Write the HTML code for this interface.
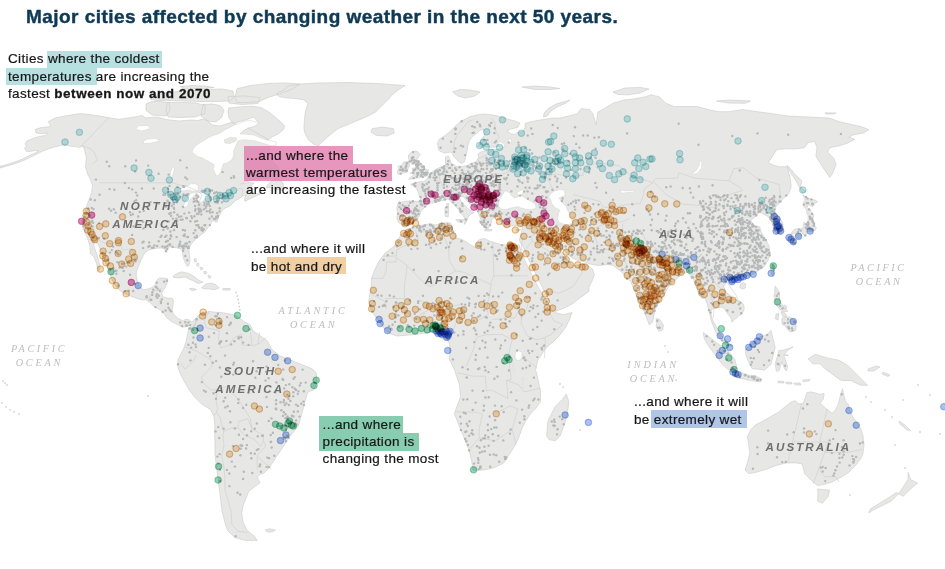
<!DOCTYPE html>
<html><head><meta charset="utf-8"><style>
html,body{margin:0;padding:0;background:#fff;}
body{width:945px;height:569px;position:relative;overflow:hidden;font-family:"Liberation Sans",sans-serif;}
svg{position:absolute;left:0;top:0;}
.cd circle{mix-blend-mode:multiply;stroke-width:0.7;}
.t{position:absolute;white-space:nowrap;color:#161616;-webkit-text-stroke:0.2px #161616;font-size:13.5px;line-height:17.5px;letter-spacing:0.35px;}
.h{position:absolute;}
b{-webkit-text-stroke:0.3px #1e1e1e;letter-spacing:0.52px;}
.title{position:absolute;left:26px;top:5.5px;font-weight:bold;color:#0f3a55;font-size:19px;white-space:nowrap;letter-spacing:0.45px;-webkit-text-stroke:0.45px #0f3a55;}
.cl{font-family:"Liberation Sans",sans-serif;font-style:italic;font-weight:bold;fill:#6f6f6f;font-size:11.6px;}
.ol{font-family:"Liberation Serif",serif;font-style:italic;fill:#bdbdbd;font-size:10.2px;}
</style></head><body>
<svg width="945" height="569" viewBox="0 0 945 569">
<rect width="945" height="569" fill="#fff"/>
<path d="M0.0,166.3L7.0,164.6L14.9,161.9L22.0,159.3L29.0,155.8L35.2,153.1L38.7,150.9L35.2,150.5L29.9,151.4L26.4,151.4L24.6,147.9L26.4,146.1L25.1,143.5L27.3,140.8L33.4,138.2L39.6,136.4L45.7,135.5L47.5,132.9L42.2,133.8L36.0,132.9L35.2,129.4L41.3,127.6L49.2,126.8L51.0,126.0L48.3,121.5L55.9,117.7L66.0,115.8L80.0,113.6L88.9,114.5L100.2,116.1L110.3,118.0L119.2,119.3L128.1,118.0L135.7,116.7L142.1,115.5L145.9,118.0L151.0,117.4L157.3,117.0L166.2,119.5L178.9,121.0L191.6,120.0L198.0,120.5L203.0,119.0L208.0,121.0L212.0,125.0L220.0,126.0L232.0,122.0L240.0,126.0L248.0,128.0L255.0,132.0L262.0,136.0L268.0,139.0L270.0,146.0L269.6,151.7L269.8,158.1L272.4,161.3L278.4,167.2L280.0,171.8L276.6,174.5L273.2,175.5L267.5,178.5L262.2,178.8L257.4,179.1L249.2,180.8L244.3,182.1L240.7,184.1L248.9,182.5L254.0,183.1L251.5,185.8L252.3,186.5L250.9,189.5L252.2,191.9L254.5,193.3L258.3,193.9L262.4,189.9L259.8,194.3L251.9,197.7L244.9,201.4L244.5,198.0L246.1,195.3L242.7,196.0L239.0,198.7L235.6,200.4L232.2,203.8L229.6,206.3L225.4,208.0L222.0,210.6L219.5,214.8L216.9,222.0L212.2,220.8L210.3,224.7L207.4,228.5L204.5,232.4L200.6,235.3L196.7,238.2L192.9,242.1L190.0,245.9L189.0,250.8L189.5,255.6L190.0,260.5L189.0,265.3L187.1,266.3L185.1,262.4L183.2,257.6L182.7,253.7L182.2,249.8L179.3,248.4L174.5,247.4L168.7,246.9L166.0,251.8L164.5,249.0L161.0,247.9L154.2,248.4L149.3,249.8L145.0,252.5L143.0,256.0L140.5,261.5L138.2,267.0L136.3,272.0L136.2,276.0L137.5,281.0L139.0,285.6L141.0,288.2L143.5,289.6L147.0,289.2L151.3,287.8L154.0,286.0L155.9,283.4L157.0,280.0L159.2,278.2L163.0,278.0L167.3,278.6L167.6,279.8L166.9,283.7L164.3,289.0L161.6,293.0L163.0,297.0L168.2,298.2L172.2,298.2L173.5,300.9L172.9,306.2L172.2,310.1L173.5,314.0L177.5,318.0L182.7,320.7L185.4,319.3L188.0,319.3L192.0,322.0L196.0,318.0L198.0,319.0L194.6,326.0L192.0,324.6L188.0,326.0L182.7,327.3L177.5,324.6L172.2,322.0L166.9,318.0L164.3,314.0L160.3,310.1L153.7,306.2L149.8,302.2L145.8,299.6L143.3,300.0L138.2,298.9L133.2,297.0L128.1,295.1L123.0,292.6L118.0,288.8L114.2,283.7L111.6,278.6L110.4,274.8L107.8,268.5L105.3,262.2L102.8,255.8L100.3,249.5L97.7,243.2L93.9,241.9L93.9,245.7L95.2,249.5L96.5,253.3L97.7,257.1L99.0,262.2L100.3,267.2L99.0,271.0L97.7,268.5L96.5,263.4L93.9,257.1L90.1,253.3L90.1,247.0L87.6,238.1L83.8,230.5L82.9,227.9L82.0,220.9L84.6,213.8L86.4,206.8L89.0,199.8L91.6,192.7L92.5,185.7L90.8,180.4L87.3,173.4L85.5,166.4L86.4,157.6L84.6,150.5L82.9,145.3L80.0,147.4L74.7,146.5L70.3,146.1L66.8,145.2L61.5,145.2L54.5,147.0L49.2,148.7L44.0,150.5L38.7,153.1L33.4,155.8L26.4,159.3L17.6,162.8L8.8,165.4L0.0,168.1ZM196.0,318.0L198.6,315.4L203.8,312.7L209.1,311.4L214.4,312.1L222.3,312.7L230.2,314.0L235.5,315.4L239.5,318.0L244.7,322.0L250.0,324.6L252.8,330.6L259.2,334.9L267.6,341.2L271.8,349.6L280.3,356.0L290.8,360.2L301.4,364.4L311.9,368.6L316.2,372.8L317.2,381.3L314.0,389.7L307.8,392.0L305.0,401.2L302.2,412.5L298.0,426.6L291.0,435.0L285.3,443.4L279.7,451.9L274.0,460.3L268.4,468.7L264.2,473.0L260.0,474.4L257.2,477.2L260.0,482.8L254.4,487.0L248.7,491.2L246.0,498.3L243.1,505.3L241.7,513.7L243.1,522.2L247.3,530.6L254.4,536.2L257.2,540.4L246.0,540.4L234.7,537.6L227.6,530.6L224.8,522.2L222.0,511.0L220.6,499.7L219.2,488.4L217.8,477.2L216.4,466.0L215.0,454.7L215.0,443.4L214.6,432.2L214.8,425.0L213.9,416.4L210.4,409.4L201.6,404.1L194.6,397.0L189.3,390.0L184.1,381.2L180.5,374.2L177.9,367.2L177.9,360.1L180.5,354.9L183.2,349.6L185.8,342.6L187.6,333.8L189.3,327.0L194.6,326.0ZM407.1,226.0L402.6,224.9L398.6,222.6L396.9,218.0L397.4,213.4L396.9,207.7L398.0,203.1L403.7,201.4L410.6,200.9L417.4,201.4L420.9,200.3L419.7,197.4L418.6,192.9L416.3,188.3L412.9,186.0L410.6,184.3L416.3,182.6L420.9,181.4L423.6,181.7L426.4,179.8L429.3,175.0L433.1,171.2L437.9,168.3L442.6,166.4L445.5,165.5L445.5,156.9L448.3,156.0L450.2,159.8L451.2,163.6L454.0,164.5L456.0,166.4L461.7,166.4L467.4,165.5L471.2,163.6L476.0,161.7L478.8,157.9L477.9,154.0L480.7,152.1L482.9,151.6L487.1,150.5L493.5,149.4L498.8,149.4L504.1,147.3L504.1,145.2L498.8,146.3L493.5,147.3L487.1,146.8L480.8,147.3L477.6,146.3L479.7,143.1L481.9,138.9L484.0,135.7L485.0,132.5L482.9,129.3L479.7,130.4L476.6,133.6L472.3,136.7L469.2,141.0L467.6,146.3L467.0,151.6L466.4,154.0L465.5,157.9L464.5,161.7L461.7,163.6L459.8,162.6L456.9,159.8L454.0,156.9L453.1,154.0L450.2,152.1L444.5,153.1L439.8,151.2L438.5,149.4L437.4,143.1L439.5,138.9L444.8,135.7L450.1,131.5L454.3,127.2L458.6,123.0L463.9,119.8L470.2,116.6L476.6,115.1L482.9,114.0L489.3,114.5L495.6,115.6L502.0,117.2L508.3,119.3L514.7,120.9L519.9,123.0L517.8,127.2L510.4,129.3L507.2,130.4L510.4,133.6L514.7,134.6L517.8,132.5L523.1,131.5L525.2,127.2L525.2,123.5L530.0,121.9L540.0,120.0L553.0,118.0L560.0,118.1L577.0,113.9L581.2,108.6L589.6,109.6L593.0,114.0L596.0,125.0L598.0,112.0L604.4,108.6L612.9,103.3L623.5,100.1L634.0,99.0L644.7,96.9L651.0,94.8L659.5,96.9L665.8,103.3L674.3,106.5L687.0,106.5L697.6,106.5L708.1,109.6L718.7,111.7L729.3,111.7L742.0,109.6L757.7,111.7L770.4,113.4L787.3,116.0L808.5,117.0L829.7,118.1L838.1,121.3L850.8,124.4L861.4,126.6L868.8,129.7L863.5,132.9L853.0,135.0L848.7,137.1L855.0,139.3L846.6,143.5L840.2,145.6L829.7,147.7L827.5,152.0L833.9,158.3L836.0,164.7L832.8,173.1L829.7,177.4L821.2,164.7L815.9,156.2L817.0,147.7L814.8,141.4L808.5,142.4L804.3,147.7L795.8,148.8L783.0,148.8L776.7,149.8L772.5,156.2L768.3,162.5L772.5,164.7L778.9,166.8L787.3,166.8L790.5,179.5L791.2,186.9L789.0,193.2L782.7,199.5L776.4,205.8L774.3,212.2L778.5,216.4L782.7,222.7L783.8,231.1L780.6,234.3L776.4,233.2L773.3,226.9L771.2,220.6L768.0,216.4L763.8,214.3L759.6,212.2L755.3,216.4L751.1,220.6L753.2,224.8L759.6,226.9L761.7,233.2L765.9,239.6L769.0,245.9L770.1,254.3L768.0,260.6L763.8,267.0L757.5,271.2L751.1,275.4L739.3,277.5L730.8,279.6L726.6,281.7L723.5,286.5L727.0,293.5L733.0,298.5L740.5,301.5L743.8,304.8L744.2,309.5L742.2,313.5L738.2,316.6L734.3,319.8L731.9,322.2L731.1,318.2L728.7,315.1L725.6,311.1L724.0,307.9L720.8,307.2L716.9,307.9L713.7,308.7L711.3,309.5L710.9,313.5L712.1,318.2L713.7,322.2L716.1,326.1L722.3,336.8L728.7,343.1L731.9,346.3L726.6,345.2L720.2,338.9L716.0,332.5L711.7,322.0L709.6,313.5L707.5,305.0L705.4,298.7L701.3,297.9L698.7,294.1L696.1,286.4L693.6,280.0L689.7,274.8L687.2,272.3L683.3,273.6L679.5,276.1L675.6,280.0L671.8,283.8L667.9,287.7L665.3,292.8L662.8,296.7L660.2,300.5L657.6,304.4L655.1,309.5L653.8,315.9L652.5,322.3L649.3,324.9L647.4,319.8L644.8,313.3L642.2,306.9L638.4,300.5L635.8,294.1L633.2,287.7L630.7,281.3L626.8,278.7L624.3,274.8L619.1,269.7L615.4,267.3L613.6,265.4L607.2,264.5L599.8,265.4L594.4,265.0L588.9,263.6L584.3,261.8L579.7,260.9L574.3,259.0L568.8,255.4L562.4,248.0L561.5,251.7L565.1,256.3L568.8,260.9L572.4,265.4L576.1,265.4L579.7,264.5L583.4,263.6L585.2,264.5L588.0,266.0L592.5,269.1L594.4,274.6L592.5,280.0L590.7,283.7L588.9,287.4L588.9,291.4L580.4,297.7L572.0,304.0L563.5,308.3L555.0,311.5L552.9,308.3L546.6,295.6L540.2,283.0L533.9,270.2L527.5,257.5L523.3,247.0L521.0,244.0L519.3,240.3L520.4,235.9L521.5,231.6L522.6,227.2L518.2,225.0L511.7,226.1L506.2,227.2L501.9,225.0L500.8,220.7L498.6,216.3L495.3,216.3L492.0,219.6L491.0,224.0L487.7,229.4L483.3,226.1L479.0,220.7L481.3,221.1L479.6,216.1L478.0,212.0L474.7,207.8L470.5,204.5L466.4,200.4L463.1,196.3L459.0,196.5L461.4,202.0L464.8,205.4L468.1,208.7L471.4,211.1L473.8,212.8L470.5,214.4L468.1,216.9L467.2,220.2L465.5,223.5L463.9,224.4L465.0,221.0L463.9,216.9L461.4,213.6L459.0,210.3L456.5,207.0L453.2,203.7L450.7,200.4L447.4,199.0L443.7,200.3L440.3,201.0L435.7,202.5L431.1,203.1L427.7,204.3L424.3,207.7L420.9,211.1L419.7,215.7L416.3,220.3L411.7,223.7ZM401.4,234.0L407.1,230.6L412.9,227.1L418.6,226.0L424.3,224.9L430.0,223.7L435.7,224.9L441.4,223.7L447.1,222.6L450.6,223.1L451.5,225.2L452.4,229.3L455.0,233.0L455.8,237.9L460.9,239.1L466.0,241.7L470.4,244.9L475.5,247.4L477.4,241.0L480.6,239.1L484.4,238.5L489.4,241.0L495.8,243.0L502.1,244.9L507.3,245.0L512.0,245.5L515.5,246.5L519.0,244.5L521.2,251.2L525.4,261.7L531.7,274.4L538.1,287.1L544.4,297.7L548.7,304.0L552.9,310.4L555.0,312.5L563.5,314.7L572.0,312.5L569.8,318.9L565.6,327.4L559.3,335.8L552.9,342.0L546.0,348.0L538.0,359.7L535.6,369.5L538.0,379.3L540.5,391.6L540.5,401.5L535.6,408.8L530.6,413.8L525.7,421.1L522.0,428.5L518.4,438.4L513.4,448.2L508.5,455.6L503.6,463.0L493.8,467.9L481.5,470.3L472.9,470.3L471.6,460.5L469.2,450.6L464.3,438.4L459.3,426.1L454.4,413.8L456.9,406.4L460.6,396.6L459.3,384.3L454.4,369.5L449.5,359.7L449.9,346.5L448.7,341.5L445.0,339.1L440.1,337.8L436.4,334.1L431.5,331.7L426.5,332.9L419.1,334.1L411.8,334.8L404.4,335.4L397.0,336.0L390.8,334.1L385.9,330.5L382.2,325.5L378.5,320.6L374.8,315.7L371.2,310.8L369.9,305.8L368.7,300.9L371.2,287.4L371.6,278.1L374.8,269.6L379.0,261.2L385.4,252.7L393.9,246.3L397.0,241.0ZM282.7,90.7L288.0,86.0L300.0,84.0L317.8,83.0L347.4,82.5L377.0,83.5L405.0,85.5L398.0,90.0L392.0,95.0L388.5,99.2L382.0,105.5L375.8,111.9L369.0,115.5L363.0,118.2L350.4,123.5L337.7,128.8L327.1,137.3L321.0,143.0L318.7,145.7L314.0,144.5L309.5,141.0L307.0,137.3L304.5,132.0L303.9,126.7L304.5,120.0L305.0,114.0L306.5,108.0L308.0,103.4L303.5,99.8L296.0,98.6L288.0,98.0L280.0,96.8L276.0,94.0L279.3,91.9ZM228.6,108.0L231.7,107.7L242.3,106.7L252.9,106.2L261.4,107.7L268.8,112.0L274.1,116.2L280.4,121.5L284.7,126.0L283.0,130.0L278.0,134.0L272.0,137.0L268.0,139.5L262.0,140.0L254.0,139.0L246.0,137.5L240.0,134.0L243.0,131.0L248.0,128.0L255.0,126.0L258.8,123.1L253.8,117.1L249.0,118.7L244.3,120.3L238.0,121.9L233.2,123.5L229.0,118.0L228.0,112.0ZM372.0,128.7L382.7,127.0L393.3,128.7L394.3,132.9L387.0,136.0L376.3,135.4L371.0,131.9ZM412.4,151.4L417.3,151.2L420.1,154.6L419.3,156.0L416.8,159.7L420.6,163.0L423.8,165.9L424.7,169.8L428.3,169.8L427.3,174.8L427.3,175.8L424.2,177.1L417.2,177.8L414.1,178.8L408.6,179.2L412.8,175.5L414.9,174.1L410.1,173.1L413.3,171.5L412.2,168.2L416.3,168.2L415.3,163.3L411.7,164.3L409.6,162.0L408.6,158.4L408.4,154.9L411.3,152.3ZM405.6,161.7L408.8,162.3L409.8,165.9L408.1,168.4L407.4,172.1L402.3,173.3L398.3,174.6L397.0,172.1L398.6,168.5L398.1,166.2L402.2,165.2L403.2,162.3ZM755.7,424.8L767.6,418.6L779.5,411.4L782.9,408.6L786.9,405.4L790.9,402.2L794.8,400.6L798.8,403.8L802.8,403.8L805.2,398.3L806.7,392.7L810.7,391.9L814.7,392.7L819.4,394.3L824.2,393.5L823.4,399.0L820.2,403.0L824.2,407.0L829.0,411.0L832.1,413.3L835.3,410.2L837.7,405.4L839.3,399.8L840.9,393.5L842.5,388.7L844.0,395.9L845.6,401.4L848.0,403.8L851.0,413.8L855.7,421.0L860.5,428.1L862.9,435.2L864.0,444.8L862.9,454.3L860.5,459.0L855.7,465.2L848.6,472.4L841.4,477.1L831.9,481.9L824.8,484.3L817.6,485.5L812.9,481.9L808.1,477.1L804.5,473.6L803.3,467.6L802.1,464.0L796.2,462.9L786.7,462.9L777.1,465.2L767.6,468.8L755.7,472.4L748.6,473.6L745.0,470.0L747.4,462.9L749.8,453.3L748.6,443.8L747.4,436.7L751.0,429.5ZM817.6,489.0L829.5,490.2L828.3,496.2L822.4,503.3L817.6,501.0L818.0,493.8ZM908.1,472.4L910.5,479.5L917.6,483.1L910.5,489.0L903.3,496.2L898.6,493.8L903.3,486.7L908.0,479.5ZM898.6,493.8L891.4,501.0L881.9,505.7L872.4,510.5L868.8,512.9L870.0,509.3L879.5,503.3L889.0,497.4L896.2,492.6ZM546.6,435.9L547.9,421.1L555.2,406.4L562.6,399.0L566.3,394.1L568.8,401.5L567.5,413.8L563.8,426.1L560.2,435.9L555.2,440.8L549.1,439.6ZM808.1,359.0L815.2,354.3L827.1,357.9L839.0,360.2L848.6,366.2L858.1,375.7L867.6,385.2L860.5,385.2L851.0,380.5L841.4,380.5L834.3,375.7L824.8,368.6L820.0,363.8L812.9,363.8ZM745.6,349.5L752.0,343.1L760.4,336.8L766.8,334.7L771.0,330.4L773.1,338.9L775.2,347.4L773.1,355.8L771.0,364.3L764.7,370.0L752.0,368.5L747.7,360.0L745.6,353.7ZM703.3,332.5L711.7,338.9L720.2,345.2L728.7,351.6L735.0,360.0L737.1,368.5L728.7,370.0L722.3,364.3L716.0,355.8L709.6,347.4L704.3,338.9ZM733.6,375.5L736.4,372.7L742.9,373.0L749.3,375.8L755.6,375.8L760.8,378.6L760.5,382.0L750.5,380.6L741.7,378.6L737.4,376.8ZM793.2,346.8L788.8,348.5L782.8,350.3L778.9,350.6L777.7,355.1L775.2,364.1L776.4,371.3L779.1,370.6L781.8,361.7L784.3,368.2L786.2,371.0L787.6,366.5L783.7,355.4L788.5,355.4L784.0,354.4L787.9,350.3ZM775.2,286.0L779.5,292.3L779.5,300.8L783.7,307.1L788.0,311.4L781.6,311.4L776.3,305.0L774.2,296.6ZM782.0,318.0L790.0,317.0L796.0,321.0L796.0,330.0L790.0,332.0L786.0,327.0L782.0,324.0ZM772.6,264.5L774.4,267.2L773.7,273.1L773.2,276.3L771.2,273.5L770.6,268.3ZM743.4,282.5L746.0,284.2L745.1,288.1L742.4,289.1L739.7,287.4L740.7,283.9ZM656.3,318.5L660.2,319.8L663.4,324.9L662.8,330.0L658.9,331.3L656.3,326.2ZM790.8,234.4L791.5,232.8L794.6,229.0L798.0,229.0L803.0,228.5L803.2,225.2L803.9,222.1L805.2,224.5L808.0,220.7L808.2,214.5L806.9,213.8L806.5,209.2L809.0,208.3L811.2,211.7L813.7,214.8L813.0,219.5L814.8,225.6L816.4,228.3L814.5,231.1L813.4,229.7L812.2,232.2L810.7,230.8L810.4,232.2L806.1,230.8L807.2,233.2L805.0,236.1L802.1,233.2L801.9,231.8L794.6,233.0L791.8,234.4ZM790.7,234.4L789.7,235.6L787.9,237.0L789.2,239.1L791.9,244.0L793.6,244.7L795.1,243.3L794.9,240.8L794.7,237.7L793.4,235.6ZM805.6,208.6L803.4,205.9L803.3,202.5L805.3,200.1L802.9,195.0L809.2,198.7L815.1,200.1L817.7,202.0L813.6,203.5L813.0,206.6L807.6,204.5L807.4,207.3ZM787.1,165.2L790.8,168.9L795.1,174.5L802.0,181.1L800.3,186.2L805.6,191.2L802.6,192.9L799.7,187.9L796.2,181.1L791.7,174.5L787.9,167.9ZM173.1,276.2L177.0,273.5L181.2,271.9L188.0,273.2L193.9,276.2L199.0,280.4L203.2,282.1L198.1,283.4L192.2,280.4L185.4,277.0L178.6,277.9L173.5,277.4ZM201.5,288.0L205.7,283.8L210.8,283.0L215.9,284.6L219.3,288.0L214.2,289.7L209.1,288.9L204.9,288.9ZM189.6,288.6L193.0,288.2L196.4,289.5L193.5,290.6L190.5,290.0ZM222.7,288.4L230.3,288.6L230.0,290.1L223.0,290.0ZM899.0,421.0L905.0,425.0L910.5,430.5L907.0,430.0L900.0,424.0ZM452.5,92.0L460.0,89.5L470.0,90.0L480.0,92.0L475.0,96.0L465.0,98.0L458.0,96.0ZM522.0,87.0L535.0,86.0L550.0,87.0L560.0,88.5L550.0,89.5L535.0,89.5ZM570.0,100.0L565.0,101.5L556.0,104.0L549.0,108.0L544.0,113.0L543.5,117.0L547.0,116.0L551.0,111.0L557.0,107.0L566.0,103.0ZM613.0,92.0L625.0,88.0L640.0,87.4L649.0,89.0L640.0,93.0L628.0,94.8L618.0,94.5ZM716.6,101.0L730.0,100.0L750.5,101.0L745.0,103.3L728.0,103.0ZM825.0,112.8L836.0,113.0L833.0,114.0L826.0,114.0ZM445.2,207.2L448.6,207.0L448.8,212.0L448.2,216.9L445.2,216.5L444.9,211.0ZM446.8,203.6L448.6,203.6L448.5,206.8L446.8,206.5ZM455.7,219.6L460.0,219.4L463.9,219.8L462.5,222.7L458.0,221.8ZM484.4,229.6L492.0,229.4L491.5,230.9L484.8,231.0ZM516.0,229.6L520.4,229.2L519.5,231.0L516.5,230.9ZM146.0,104.0L152.0,101.5L160.0,101.5L169.0,102.5L170.0,110.0L166.0,116.0L152.0,115.0L146.0,110.5ZM167.5,102.5L176.0,102.5L186.0,102.5L196.0,103.0L205.0,105.5L205.0,113.5L195.0,117.0L180.0,117.5L168.0,117.0L166.0,110.0ZM203.0,104.5L212.0,104.0L220.0,105.5L224.0,110.0L222.0,117.0L216.0,122.0L208.0,121.0L201.0,116.0ZM150.0,99.0L156.0,95.0L168.0,92.5L182.0,91.0L196.0,90.5L210.0,89.5L222.0,89.0L233.0,91.0L234.0,97.0L230.0,101.0L214.0,101.5L200.0,101.5L185.0,101.0L170.0,100.5L156.0,100.5ZM237.0,88.7L250.8,85.5L268.8,83.4L284.7,82.9L300.0,84.0L292.0,89.0L279.4,94.0L268.8,97.2L259.3,101.4L247.6,102.5L237.0,102.5L235.0,97.2ZM228.0,96.5L245.0,96.0L260.0,97.5L258.0,103.5L242.0,104.5L229.0,103.0ZM180.0,86.5L192.0,85.5L205.0,86.0L214.0,87.5L200.0,89.0L186.0,89.0ZM194.0,259.0L196.0,258.5L196.5,262.0L194.5,262.0ZM197.0,263.0L199.0,263.5L198.5,266.5L196.5,265.5ZM200.0,267.0L203.0,268.0L202.0,270.0L200.5,269.5ZM204.0,271.0L207.0,272.0L206.0,274.0L204.0,273.5ZM208.0,275.0L211.0,276.5L210.0,278.5L208.5,277.5ZM265.6,529.5L270.0,528.8L275.5,530.0L272.0,532.0L266.5,531.8ZM280.1,174.1L277.6,177.1L273.4,179.8L270.6,182.1L268.4,184.1L266.1,187.5L270.3,187.5L274.6,189.2L276.2,190.0L279.1,189.2L281.4,190.7L283.0,189.2L283.6,187.2L283.3,184.5L282.6,182.5L280.4,180.8L278.3,179.1ZM796.2,233.2L800.8,233.5L801.6,234.9L800.9,236.8L798.1,238.7L795.5,236.0L795.7,234.2ZM781.0,312.0L785.0,313.0L787.0,317.0L783.0,316.5ZM776.0,314.0L779.0,313.5L778.0,320.0L775.5,319.0ZM784.0,305.0L787.0,306.5L786.0,309.0L783.5,308.0ZM778.0,381.0L784.0,381.5L784.0,383.0L778.0,382.8ZM786.0,382.0L792.0,382.5L792.0,384.0L786.0,383.8ZM794.0,383.0L800.0,383.0L801.0,385.0L795.0,385.0ZM803.0,380.0L810.0,379.5L809.0,381.0L803.0,381.5ZM868.0,369.0L876.0,366.0L880.0,367.0L874.0,371.0L868.0,371.0ZM883.0,372.0L890.0,375.0L888.0,376.5L882.0,374.0Z" fill="#e7e7e6" stroke="#cbcbcb" stroke-width="0.6" stroke-linejoin="round"/>
<path d="M192.0,152.3L192.6,150.0L194.8,146.6L199.4,143.1L205.1,139.7L210.8,136.3L217.7,134.0L222.3,131.7L225.7,129.4L230.3,127.1L234.8,124.9L239.4,123.1L244.0,121.4L248.5,120.3L254.2,121.4L258.8,123.1L255.0,126.0L248.0,128.0L243.0,131.0L240.0,134.0L244.0,134.0L254.2,135.1L262.2,138.6L270.0,140.8L276.0,142.0L276.0,145.5L270.0,145.4L262.2,143.1L254.2,140.8L244.0,139.7L238.2,140.8L236.0,145.4L233.7,151.1L233.7,155.7L231.4,160.3L226.8,163.1L223.4,163.7L222.3,167.1L221.1,171.7L218.8,175.1L216.5,176.2L214.3,171.7L213.1,168.3L214.3,164.8L210.8,162.5L206.3,160.3L202.8,158.0L198.3,156.8L194.8,154.5ZM504.9,191.2L502.5,194.6L499.9,198.0L498.6,202.5L498.6,206.6L501.8,209.3L507.3,209.3L510.7,208.0L518.0,206.6L520.9,208.0L525.1,209.0L531.2,210.0L536.2,208.0L535.1,203.8L531.0,201.4L524.6,197.7L521.1,195.6L518.3,196.7L514.4,198.0L512.9,196.7L510.3,194.6L511.2,192.9L508.5,192.6L507.0,190.9ZM560.0,189.5L564.2,190.2L565.4,195.3L558.9,198.0L561.6,201.4L566.2,206.6L567.4,210.0L569.6,213.5L571.5,218.6L572.4,222.8L569.8,224.5L565.7,224.9L559.0,222.4L557.6,218.6L558.7,212.4L560.3,210.7L555.2,207.6L551.6,203.5L550.8,199.7L548.5,197.0L550.7,193.9L553.7,191.2ZM527.3,188.9L524.8,190.6L523.4,192.3L521.3,195.0L517.3,195.0L517.0,192.3L521.0,190.2L524.1,189.2ZM177.7,190.9L181.1,188.5L186.6,186.2L191.0,183.5L195.5,183.8L198.5,186.2L197.9,190.9L192.5,191.2L189.0,189.9L183.3,190.9ZM194.6,192.6L190.2,193.6L187.1,198.0L183.8,204.9L183.8,208.0L187.5,205.9L188.8,201.4L193.4,196.3L196.3,193.6ZM198.7,192.3L205.0,193.3L208.3,195.3L207.2,197.7L201.3,202.1L199.0,203.2L197.6,199.7L198.9,195.3L196.3,193.6ZM208.4,203.5L201.9,205.9L196.0,206.6L195.7,208.3L199.2,208.3L205.6,205.6ZM206.3,202.5L209.2,200.4L217.0,199.1L216.3,201.8L211.3,202.1ZM138.6,125.8L148.1,125.5L149.9,128.8L141.1,130.9L135.7,129.1ZM147.7,138.9L156.3,138.5L160.0,141.0L150.4,143.2L142.9,143.5L143.9,140.7ZM172.6,166.9L174.6,167.9L173.5,173.5L171.2,178.1L170.2,177.5L170.5,171.8ZM699.8,160.4L701.8,161.7L701.7,167.9L698.0,172.8L693.8,174.5L692.2,173.8L696.9,169.5L699.1,165.2ZM620.0,189.9L626.9,190.9L634.2,190.2L633.9,191.9L627.4,192.6L621.7,193.3ZM499.9,141.6L504.9,144.1L504.3,147.0L499.9,146.6L497.8,143.5ZM508.0,137.9L511.2,139.5L511.5,143.2L509.2,142.3ZM515.5,352.0L518.5,350.8L521.8,352.0L522.3,356.0L520.5,359.8L517.0,360.5L515.0,357.5ZM512.2,363.0L513.0,363.0L514.5,372.0L513.6,372.0ZM522.5,378.0L523.4,378.0L523.8,388.0L522.9,388.0Z" fill="#fff" stroke="#d2d2d2" stroke-width="0.5"/>
<path d="M224.0,140.0L230.0,137.4L236.5,137.8L236.0,141.0L230.0,143.5L225.0,143.0Z" fill="#e7e7e6" stroke="#d2d2d2" stroke-width="0.5"/>
<path d="M108.7,117.8L81.4,146.0L85.4,147.0L90.2,148.5L93.7,151.7L97.4,159.7L92.8,163.9M99.2,182.8L173.1,182.8L178.1,184.5L186.6,186.2L197.8,191.2L201.9,194.6L199.0,203.2L196.2,206.6L197.3,207.6L207.7,204.9L208.6,202.1L215.6,201.4L222.2,196.3L230.8,196.3L232.5,195.3L239.6,188.2L243.0,189.2L241.7,195.6M90.0,239.4L97.0,238.7L105.9,243.6L113.9,243.6L114.4,241.9L119.2,241.9L122.6,249.9L131.7,248.8L135.1,256.8L140.5,262.0M148.3,301.9L149.5,296.7L153.3,290.5L158.6,290.5L161.6,288.1M209.3,311.2L204.2,320.9L206.2,327.8L219.5,330.6L218.3,338.2L220.9,347.9M185.4,347.2L195.8,350.6L211.7,360.3L212.1,366.5M181.0,363.7L185.1,369.2L193.8,360.6L196.1,355.1M220.9,347.9L229.5,345.1L233.5,338.2L241.4,334.0L242.1,345.1L253.4,345.4L259.4,343.4L266.3,337.5M250.4,331.3L251.9,345.1M259.6,332.3L257.9,344.1M212.1,366.5L201.2,377.5L204.5,384.4L211.4,390.0L216.5,390.0L226.6,386.5L237.8,398.6L243.3,407.3L250.3,418.7L252.0,428.8L263.5,435.4L263.3,440.6L265.8,446.1L257.0,455.9L271.1,468.7M216.5,390.0L216.2,402.1L217.5,409.0L216.4,412.5L214.1,415.2M216.4,412.5L220.2,417.7L221.7,424.6L223.8,431.2M223.8,431.2L222.9,435.0L224.0,445.4L221.6,455.9L223.8,466.3L224.8,476.7L225.1,490.5L229.1,504.2L231.1,511.1L231.9,524.5L237.9,531.2L247.4,532.5M223.8,431.2L231.5,428.1L237.9,428.1L238.8,421.5L247.6,418.7L252.0,428.8M238.5,428.1L244.1,435.0L254.5,439.5L260.7,446.5L263.3,440.6M257.1,456.5L257.2,469.7M415.7,230.4L418.2,240.8L411.1,242.9L396.6,249.9L396.3,256.1L383.4,256.1M396.2,257.5L396.1,262.0L386.5,262.0L386.2,270.7L383.0,278.4L371.3,278.4M396.2,257.5L407.2,265.5L417.5,276.6L424.4,283.2L429.9,286.3L433.4,285.6L444.3,277.3L455.6,270.7L449.2,260.3L448.6,247.4M446.0,223.8L445.2,230.8L444.3,237.7L448.6,247.4M454.2,237.0L448.6,247.4M384.7,298.5L404.5,298.5L404.4,286.0L407.2,265.5M372.7,295.0L384.6,301.2L386.5,308.8M492.9,242.6L493.8,275.9L528.2,275.9M455.6,270.7L464.7,272.5L491.2,284.6L491.1,282.9L493.8,275.9M491.2,284.6L488.8,297.8L486.6,308.8L488.5,314.4L477.0,320.9L466.6,325.8M463.5,307.1L465.0,317.5L466.6,325.8M432.4,306.1L441.3,305.4L447.2,307.1L460.8,304.7M462.3,306.8L460.6,316.4L456.2,322.3L453.5,329.2L446.0,336.1M491.8,319.2L500.7,319.2L506.6,316.8L514.1,318.5L518.9,310.2L521.5,319.2M528.4,300.2L526.9,308.8L522.3,314.4L521.0,322.7L527.4,336.1M542.6,338.2L550.9,334.7L562.9,324.4L554.2,320.9L548.9,312.6M466.0,366.8L473.8,348.5L475.9,339.6L477.0,337.2L486.0,334.7L502.1,334.4L512.2,339.9L509.9,347.9L508.7,356.5L511.2,379.6L506.4,380.3L507.7,394.5L507.9,398.6L491.7,390.0L486.4,390.7L485.3,376.2L472.5,376.2L457.7,372.7M537.2,368.2L521.5,355.4M527.4,336.1L536.7,339.6L545.3,338.2L544.5,357.9M455.5,411.8L475.2,412.1L482.5,414.2L479.3,428.1L479.1,437.8L468.7,450.3M479.1,437.8L495.2,440.9L512.2,429.4L516.1,444.7M494.8,413.5L510.3,405.9L517.9,409.0L512.2,429.4M540.7,388.2L524.3,392.0L518.5,384.8L506.4,380.3M419.2,300.2L426.5,303.6L427.4,310.9L420.5,314.0M405.8,309.5L411.6,317.5L419.0,319.2L420.5,314.0L425.0,313.7M553.7,191.2L547.3,177.8L555.1,173.8L568.4,176.5L583.2,175.5L583.0,169.5L596.4,163.0L618.8,165.6L631.5,176.1L652.8,182.5M652.8,182.5L643.8,189.5L643.0,195.6L640.4,203.5L623.9,204.9L611.6,208.3L602.5,206.6L600.0,201.4L580.1,196.3L572.8,194.6M652.8,182.5L655.7,178.5L677.8,178.1L678.9,172.8L694.7,178.1L702.8,178.8L728.9,180.8M654.1,182.5L666.3,194.6L683.5,204.2L699.8,205.6L709.3,208.0L724.6,204.9L722.7,196.3L742.4,190.6L739.7,187.2L728.9,180.8M728.9,180.8L733.8,168.5L743.6,167.9L755.8,177.8L779.2,184.5L779.8,187.9L780.2,196.3L777.9,204.9M640.5,229.0L645.4,239.4L653.0,246.4L665.3,254.4L674.4,255.4L685.6,255.4L700.0,256.8L700.9,254.0M638.1,230.8L634.1,239.4L633.7,245.0L623.8,255.1L626.9,267.2L619.1,270.0M622.7,223.8L622.4,229.4L619.2,234.9L618.6,243.3L611.1,248.5L595.9,250.2L597.3,243.6L593.4,232.5L593.4,228.7L580.7,219.3L572.4,222.8M593.4,228.7L607.1,222.8L612.2,223.1L620.9,222.1L629.6,218.6M546.8,223.5L550.8,228.7L552.1,237.7L557.1,242.6L560.0,248.1M554.6,251.6L549.4,251.3L532.3,241.2L531.3,236.3L537.2,232.5L540.1,223.5M523.0,224.5L528.1,225.2L540.1,223.5M546.8,295.3L551.6,291.5L559.0,293.3L573.3,286.3L581.7,273.5L582.4,269.0M521.2,249.9L522.3,241.2L522.4,237.7M532.3,241.2L524.4,250.2L521.2,249.9M700.9,254.0L698.3,258.6L695.2,268.3L692.4,270.7L691.4,279.0M713.7,281.5L707.7,289.1L710.8,295.0L714.2,307.1L713.3,317.5M713.7,281.5L722.2,290.1L731.6,296.4L731.4,302.3M718.4,274.5L726.1,280.8L732.2,289.8L736.6,296.0L738.2,302.3M736.1,277.7L731.3,273.5L722.4,274.2L718.0,277.3L712.2,276.3L707.2,269.0L706.3,262.4L700.9,254.0M801.5,403.5L788.0,461.8M793.7,442.0L819.7,442.0M827.1,409.0L819.7,442.0M819.7,442.0L828.4,442.0L825.2,452.4L847.8,452.4L862.0,449.6M828.4,442.0L813.4,483.6M819.1,469.7L824.7,476.7L835.9,476.7L838.9,481.9M404.9,166.6L409.4,164.3M494.9,208.3L498.9,206.6M483.9,206.6L493.4,205.9L499.7,199.7M482.7,185.5L497.3,186.2L503.0,191.2M484.7,172.8L501.4,174.5L508.9,171.8L505.8,167.9M464.2,193.6L467.1,191.2L473.8,192.9L483.4,198.0M452.3,182.8L461.1,179.5L462.6,176.1L467.9,177.8L473.0,181.1L482.5,182.5M449.3,164.6L439.2,176.1L440.0,181.1L443.3,187.5M430.1,176.1L438.6,181.1M417.8,201.8L430.8,204.2M483.9,166.2L477.1,159.1L486.8,154.9L493.6,149.2M490.8,118.1L494.9,122.5L494.6,128.5L499.4,137.6L491.8,143.8M472.9,119.6L467.4,122.5L457.5,134.6L454.8,140.7L453.1,150.1M541.5,209.0L544.8,213.5L544.9,218.6L546.8,223.5M398.2,208.3L404.6,206.6L403.5,210.7L401.6,215.2L402.7,220.4L401.5,223.1" fill="none" stroke="#cdcdcd" stroke-width="0.6" stroke-linejoin="round"/>
<g fill="#d6d6d6"><circle cx="236" cy="292.5" r="0.9"/><circle cx="237.2" cy="296" r="0.9"/><circle cx="238.2" cy="299.5" r="0.9"/><circle cx="238.8" cy="303" r="0.9"/><circle cx="239.2" cy="306.5" r="0.9"/><circle cx="239.8" cy="310" r="0.9"/><circle cx="3" cy="381" r="0.9"/><circle cx="5" cy="383" r="0.9"/><circle cx="7" cy="385" r="0.9"/><circle cx="2" cy="403" r="0.9"/><circle cx="6" cy="407" r="0.9"/><circle cx="10" cy="410" r="0.9"/><circle cx="14" cy="412" r="0.9"/><circle cx="19" cy="414" r="0.9"/><circle cx="148" cy="396" r="0.9"/><circle cx="560" cy="384" r="0.9"/><circle cx="563" cy="387" r="0.9"/><circle cx="866" cy="397" r="0.9"/><circle cx="871" cy="402" r="0.9"/><circle cx="885" cy="410" r="0.9"/><circle cx="892" cy="417" r="0.9"/><circle cx="903" cy="400" r="0.9"/><circle cx="920" cy="432" r="0.9"/><circle cx="895" cy="445" r="0.9"/><circle cx="918" cy="385" r="0.9"/><circle cx="930" cy="395" r="0.9"/><circle cx="665" cy="346" r="0.9"/><circle cx="668" cy="352" r="0.9"/><circle cx="676" cy="380" r="0.9"/><circle cx="940" cy="434" r="0.9"/><circle cx="905" cy="468" r="0.9"/><circle cx="850" cy="495" r="0.9"/><circle cx="580" cy="430" r="0.9"/></g>
<defs><radialGradient id="gT"><stop offset="0" stop-color="#c4e9ea"/><stop offset="0.55" stop-color="#c4e9ea"/><stop offset="1" stop-color="#a6d8dc"/></radialGradient><radialGradient id="gO"><stop offset="0" stop-color="#f6dcb4"/><stop offset="0.55" stop-color="#f6dcb4"/><stop offset="1" stop-color="#e8bc86"/></radialGradient><radialGradient id="gM"><stop offset="0" stop-color="#e583b9"/><stop offset="0.55" stop-color="#e583b9"/><stop offset="1" stop-color="#d3649f"/></radialGradient><radialGradient id="gB"><stop offset="0" stop-color="#a9c2f0"/><stop offset="0.55" stop-color="#a9c2f0"/><stop offset="1" stop-color="#8eabe8"/></radialGradient><radialGradient id="gG"><stop offset="0" stop-color="#95d8b9"/><stop offset="0.55" stop-color="#95d8b9"/><stop offset="1" stop-color="#74c8a2"/></radialGradient></defs>
<g fill="#b6b7b8">
<circle cx="99.6" cy="194.8" r="1.2"/>
<circle cx="114.3" cy="189.7" r="1.2"/>
<circle cx="109.1" cy="208.8" r="1.2"/>
<circle cx="87.6" cy="218.0" r="1.2"/>
<circle cx="86.7" cy="213.2" r="1.2"/>
<circle cx="104.1" cy="238.7" r="1.2"/>
<circle cx="90.6" cy="199.5" r="1.2"/>
<circle cx="113.2" cy="246.6" r="1.2"/>
<circle cx="111.0" cy="210.8" r="1.2"/>
<circle cx="128.9" cy="188.0" r="1.2"/>
<circle cx="123.6" cy="203.8" r="1.2"/>
<circle cx="98.9" cy="238.0" r="1.2"/>
<circle cx="93.1" cy="222.8" r="1.2"/>
<circle cx="113.8" cy="209.2" r="1.2"/>
<circle cx="109.6" cy="189.1" r="1.2"/>
<circle cx="115.6" cy="212.8" r="1.2"/>
<circle cx="99.1" cy="223.1" r="1.2"/>
<circle cx="88.4" cy="208.5" r="1.2"/>
<circle cx="92.5" cy="226.5" r="1.2"/>
<circle cx="85.9" cy="220.8" r="1.2"/>
<circle cx="89.3" cy="234.4" r="1.2"/>
<circle cx="91.8" cy="208.0" r="1.2"/>
<circle cx="94.8" cy="200.3" r="1.2"/>
<circle cx="88.0" cy="229.1" r="1.2"/>
<circle cx="84.8" cy="217.0" r="1.2"/>
<circle cx="83.5" cy="225.1" r="1.2"/>
<circle cx="92.2" cy="220.8" r="1.2"/>
<circle cx="93.5" cy="209.1" r="1.2"/>
<circle cx="91.3" cy="221.7" r="1.2"/>
<circle cx="90.0" cy="215.5" r="1.2"/>
<circle cx="93.1" cy="237.5" r="1.2"/>
<circle cx="88.7" cy="224.9" r="1.2"/>
<circle cx="83.7" cy="226.6" r="1.2"/>
<circle cx="158.8" cy="203.5" r="1.2"/>
<circle cx="143.5" cy="228.5" r="1.2"/>
<circle cx="130.8" cy="215.0" r="1.2"/>
<circle cx="135.9" cy="192.6" r="1.2"/>
<circle cx="132.1" cy="234.9" r="1.2"/>
<circle cx="134.5" cy="201.1" r="1.2"/>
<circle cx="143.7" cy="241.6" r="1.2"/>
<circle cx="132.8" cy="214.2" r="1.2"/>
<circle cx="149.2" cy="242.4" r="1.2"/>
<circle cx="158.7" cy="241.2" r="1.2"/>
<circle cx="139.7" cy="212.0" r="1.2"/>
<circle cx="142.6" cy="242.5" r="1.2"/>
<circle cx="163.5" cy="194.8" r="1.2"/>
<circle cx="136.2" cy="200.1" r="1.2"/>
<circle cx="138.2" cy="216.5" r="1.2"/>
<circle cx="150.6" cy="202.1" r="1.2"/>
<circle cx="130.1" cy="212.2" r="1.2"/>
<circle cx="142.9" cy="221.8" r="1.2"/>
<circle cx="163.4" cy="229.9" r="1.2"/>
<circle cx="148.0" cy="225.1" r="1.2"/>
<circle cx="153.7" cy="188.5" r="1.2"/>
<circle cx="161.5" cy="235.7" r="1.2"/>
<circle cx="160.6" cy="236.9" r="1.2"/>
<circle cx="143.7" cy="210.9" r="1.2"/>
<circle cx="133.6" cy="226.2" r="1.2"/>
<circle cx="132.2" cy="189.4" r="1.2"/>
<circle cx="137.3" cy="195.5" r="1.2"/>
<circle cx="141.9" cy="188.4" r="1.2"/>
<circle cx="165.0" cy="194.8" r="1.2"/>
<circle cx="168.6" cy="208.6" r="1.2"/>
<circle cx="165.9" cy="241.8" r="1.2"/>
<circle cx="186.5" cy="194.7" r="1.2"/>
<circle cx="173.8" cy="207.6" r="1.2"/>
<circle cx="177.7" cy="193.0" r="1.2"/>
<circle cx="181.3" cy="216.4" r="1.2"/>
<circle cx="168.0" cy="191.6" r="1.2"/>
<circle cx="177.0" cy="202.2" r="1.2"/>
<circle cx="165.8" cy="246.8" r="1.2"/>
<circle cx="183.5" cy="194.5" r="1.2"/>
<circle cx="184.0" cy="186.8" r="1.2"/>
<circle cx="183.5" cy="248.6" r="1.2"/>
<circle cx="195.2" cy="230.3" r="1.2"/>
<circle cx="174.1" cy="208.8" r="1.2"/>
<circle cx="170.8" cy="235.2" r="1.2"/>
<circle cx="183.6" cy="235.6" r="1.2"/>
<circle cx="176.5" cy="199.5" r="1.2"/>
<circle cx="194.8" cy="237.4" r="1.2"/>
<circle cx="193.6" cy="233.1" r="1.2"/>
<circle cx="172.9" cy="218.6" r="1.2"/>
<circle cx="177.4" cy="186.9" r="1.2"/>
<circle cx="166.0" cy="203.2" r="1.2"/>
<circle cx="174.1" cy="230.0" r="1.2"/>
<circle cx="198.5" cy="214.1" r="1.2"/>
<circle cx="198.4" cy="208.7" r="1.2"/>
<circle cx="172.7" cy="199.7" r="1.2"/>
<circle cx="171.9" cy="198.3" r="1.2"/>
<circle cx="186.8" cy="243.5" r="1.2"/>
<circle cx="194.4" cy="216.2" r="1.2"/>
<circle cx="187.9" cy="237.0" r="1.2"/>
<circle cx="168.0" cy="227.9" r="1.2"/>
<circle cx="196.8" cy="235.8" r="1.2"/>
<circle cx="191.3" cy="216.1" r="1.2"/>
<circle cx="171.2" cy="236.3" r="1.2"/>
<circle cx="176.6" cy="237.1" r="1.2"/>
<circle cx="199.0" cy="210.7" r="1.2"/>
<circle cx="179.0" cy="246.5" r="1.2"/>
<circle cx="169.4" cy="194.8" r="1.2"/>
<circle cx="196.7" cy="237.4" r="1.2"/>
<circle cx="170.1" cy="238.7" r="1.2"/>
<circle cx="199.3" cy="227.7" r="1.2"/>
<circle cx="177.3" cy="220.7" r="1.2"/>
<circle cx="169.6" cy="185.9" r="1.2"/>
<circle cx="199.0" cy="227.2" r="1.2"/>
<circle cx="183.4" cy="245.7" r="1.2"/>
<circle cx="180.2" cy="241.7" r="1.2"/>
<circle cx="193.9" cy="198.7" r="1.2"/>
<circle cx="173.8" cy="204.0" r="1.2"/>
<circle cx="173.4" cy="223.1" r="1.2"/>
<circle cx="174.1" cy="212.2" r="1.2"/>
<circle cx="169.6" cy="244.2" r="1.2"/>
<circle cx="177.4" cy="214.8" r="1.2"/>
<circle cx="185.4" cy="243.8" r="1.2"/>
<circle cx="179.7" cy="244.7" r="1.2"/>
<circle cx="182.6" cy="219.6" r="1.2"/>
<circle cx="183.3" cy="186.2" r="1.2"/>
<circle cx="180.4" cy="196.9" r="1.2"/>
<circle cx="165.1" cy="236.9" r="1.2"/>
<circle cx="171.0" cy="215.8" r="1.2"/>
<circle cx="190.4" cy="221.2" r="1.2"/>
<circle cx="176.4" cy="218.7" r="1.2"/>
<circle cx="184.4" cy="236.0" r="1.2"/>
<circle cx="168.7" cy="221.4" r="1.2"/>
<circle cx="173.7" cy="203.0" r="1.2"/>
<circle cx="192.0" cy="218.0" r="1.2"/>
<circle cx="184.7" cy="234.4" r="1.2"/>
<circle cx="196.9" cy="213.8" r="1.2"/>
<circle cx="186.4" cy="217.9" r="1.2"/>
<circle cx="182.9" cy="230.0" r="1.2"/>
<circle cx="180.8" cy="219.7" r="1.2"/>
<circle cx="181.7" cy="246.2" r="1.2"/>
<circle cx="189.5" cy="242.0" r="1.2"/>
<circle cx="198.0" cy="201.9" r="1.2"/>
<circle cx="184.6" cy="246.3" r="1.2"/>
<circle cx="169.3" cy="213.7" r="1.2"/>
<circle cx="167.5" cy="200.6" r="1.2"/>
<circle cx="167.6" cy="228.5" r="1.2"/>
<circle cx="170.4" cy="231.5" r="1.2"/>
<circle cx="188.1" cy="194.3" r="1.2"/>
<circle cx="172.7" cy="246.9" r="1.2"/>
<circle cx="178.9" cy="216.7" r="1.2"/>
<circle cx="170.7" cy="213.0" r="1.2"/>
<circle cx="183.0" cy="207.0" r="1.2"/>
<circle cx="171.9" cy="205.7" r="1.2"/>
<circle cx="184.4" cy="213.6" r="1.2"/>
<circle cx="165.6" cy="206.5" r="1.2"/>
<circle cx="186.8" cy="218.3" r="1.2"/>
<circle cx="167.3" cy="249.0" r="1.2"/>
<circle cx="168.7" cy="202.3" r="1.2"/>
<circle cx="166.4" cy="235.6" r="1.2"/>
<circle cx="174.5" cy="193.4" r="1.2"/>
<circle cx="179.8" cy="244.2" r="1.2"/>
<circle cx="193.7" cy="201.8" r="1.2"/>
<circle cx="170.2" cy="244.7" r="1.2"/>
<circle cx="185.0" cy="230.5" r="1.2"/>
<circle cx="168.1" cy="188.7" r="1.2"/>
<circle cx="189.1" cy="212.6" r="1.2"/>
<circle cx="167.5" cy="246.0" r="1.2"/>
<circle cx="187.2" cy="237.1" r="1.2"/>
<circle cx="167.9" cy="240.7" r="1.2"/>
<circle cx="167.3" cy="241.1" r="1.2"/>
<circle cx="208.6" cy="204.2" r="1.2"/>
<circle cx="210.8" cy="200.0" r="1.2"/>
<circle cx="198.3" cy="196.8" r="1.2"/>
<circle cx="196.5" cy="198.5" r="1.2"/>
<circle cx="204.4" cy="202.8" r="1.2"/>
<circle cx="217.8" cy="202.2" r="1.2"/>
<circle cx="210.0" cy="197.5" r="1.2"/>
<circle cx="205.4" cy="190.8" r="1.2"/>
<circle cx="202.5" cy="190.6" r="1.2"/>
<circle cx="217.0" cy="213.1" r="1.2"/>
<circle cx="200.7" cy="209.9" r="1.2"/>
<circle cx="223.0" cy="194.5" r="1.2"/>
<circle cx="219.6" cy="208.2" r="1.2"/>
<circle cx="209.9" cy="225.1" r="1.2"/>
<circle cx="206.8" cy="211.3" r="1.2"/>
<circle cx="205.3" cy="225.0" r="1.2"/>
<circle cx="216.2" cy="216.7" r="1.2"/>
<circle cx="207.1" cy="204.6" r="1.2"/>
<circle cx="196.6" cy="195.5" r="1.2"/>
<circle cx="197.1" cy="221.1" r="1.2"/>
<circle cx="197.5" cy="225.3" r="1.2"/>
<circle cx="203.8" cy="209.3" r="1.2"/>
<circle cx="199.7" cy="208.7" r="1.2"/>
<circle cx="202.9" cy="230.4" r="1.2"/>
<circle cx="202.3" cy="230.6" r="1.2"/>
<circle cx="204.3" cy="205.0" r="1.2"/>
<circle cx="195.0" cy="206.0" r="1.2"/>
<circle cx="209.2" cy="211.1" r="1.2"/>
<circle cx="201.0" cy="211.2" r="1.2"/>
<circle cx="195.1" cy="201.1" r="1.2"/>
<circle cx="212.6" cy="212.2" r="1.2"/>
<circle cx="217.5" cy="217.6" r="1.2"/>
<circle cx="206.7" cy="203.7" r="1.2"/>
<circle cx="224.5" cy="196.3" r="1.2"/>
<circle cx="216.7" cy="217.0" r="1.2"/>
<circle cx="196.3" cy="225.1" r="1.2"/>
<circle cx="199.2" cy="212.0" r="1.2"/>
<circle cx="215.5" cy="219.1" r="1.2"/>
<circle cx="201.9" cy="191.3" r="1.2"/>
<circle cx="199.0" cy="205.1" r="1.2"/>
<circle cx="198.1" cy="225.1" r="1.2"/>
<circle cx="211.8" cy="216.4" r="1.2"/>
<circle cx="213.8" cy="218.6" r="1.2"/>
<circle cx="209.7" cy="190.1" r="1.2"/>
<circle cx="210.1" cy="212.5" r="1.2"/>
<circle cx="214.8" cy="192.8" r="1.2"/>
<circle cx="217.1" cy="200.6" r="1.2"/>
<circle cx="197.2" cy="201.2" r="1.2"/>
<circle cx="216.9" cy="198.6" r="1.2"/>
<circle cx="209.8" cy="206.1" r="1.2"/>
<circle cx="209.4" cy="218.7" r="1.2"/>
<circle cx="218.0" cy="215.9" r="1.2"/>
<circle cx="214.3" cy="193.3" r="1.2"/>
<circle cx="217.3" cy="202.8" r="1.2"/>
<circle cx="212.0" cy="190.5" r="1.2"/>
<circle cx="196.8" cy="201.3" r="1.2"/>
<circle cx="215.2" cy="219.1" r="1.2"/>
<circle cx="215.3" cy="202.2" r="1.2"/>
<circle cx="210.5" cy="209.5" r="1.2"/>
<circle cx="209.0" cy="195.0" r="1.2"/>
<circle cx="221.8" cy="198.4" r="1.2"/>
<circle cx="195.5" cy="209.3" r="1.2"/>
<circle cx="201.3" cy="229.7" r="1.2"/>
<circle cx="201.3" cy="214.4" r="1.2"/>
<circle cx="199.3" cy="212.0" r="1.2"/>
<circle cx="223.6" cy="195.6" r="1.2"/>
<circle cx="219.6" cy="211.4" r="1.2"/>
<circle cx="201.9" cy="227.7" r="1.2"/>
<circle cx="209.6" cy="191.0" r="1.2"/>
<circle cx="195.1" cy="210.7" r="1.2"/>
<circle cx="208.5" cy="202.7" r="1.2"/>
<circle cx="199.2" cy="204.4" r="1.2"/>
<circle cx="204.5" cy="225.3" r="1.2"/>
<circle cx="195.1" cy="221.5" r="1.2"/>
<circle cx="220.2" cy="195.0" r="1.2"/>
<circle cx="222.0" cy="202.2" r="1.2"/>
<circle cx="206.2" cy="206.5" r="1.2"/>
<circle cx="205.8" cy="208.0" r="1.2"/>
<circle cx="203.3" cy="192.0" r="1.2"/>
<circle cx="198.1" cy="225.1" r="1.2"/>
<circle cx="203.6" cy="229.3" r="1.2"/>
<circle cx="210.3" cy="198.0" r="1.2"/>
<circle cx="216.6" cy="192.1" r="1.2"/>
<circle cx="154.3" cy="245.5" r="1.2"/>
<circle cx="186.3" cy="246.4" r="1.2"/>
<circle cx="188.8" cy="247.9" r="1.2"/>
<circle cx="148.4" cy="246.8" r="1.2"/>
<circle cx="164.9" cy="247.4" r="1.2"/>
<circle cx="185.3" cy="256.0" r="1.2"/>
<circle cx="162.5" cy="246.5" r="1.2"/>
<circle cx="149.6" cy="246.0" r="1.2"/>
<circle cx="157.1" cy="246.0" r="1.2"/>
<circle cx="152.0" cy="247.8" r="1.2"/>
<circle cx="143.1" cy="248.1" r="1.2"/>
<circle cx="188.4" cy="246.4" r="1.2"/>
<circle cx="183.1" cy="247.4" r="1.2"/>
<circle cx="153.6" cy="247.7" r="1.2"/>
<circle cx="187.9" cy="248.0" r="1.2"/>
<circle cx="183.1" cy="250.8" r="1.2"/>
<circle cx="187.2" cy="260.3" r="1.2"/>
<circle cx="231.2" cy="178.0" r="1.2"/>
<circle cx="187.1" cy="179.1" r="1.2"/>
<circle cx="158.6" cy="173.8" r="1.2"/>
<circle cx="95.9" cy="179.6" r="1.2"/>
<circle cx="124.9" cy="183.0" r="1.2"/>
<circle cx="186.8" cy="167.6" r="1.2"/>
<circle cx="109.2" cy="166.3" r="1.2"/>
<circle cx="185.4" cy="177.5" r="1.2"/>
<circle cx="106.8" cy="161.8" r="1.2"/>
<circle cx="168.7" cy="174.6" r="1.2"/>
<circle cx="148.2" cy="165.6" r="1.2"/>
<circle cx="180.2" cy="160.3" r="1.2"/>
<circle cx="135.2" cy="171.5" r="1.2"/>
<circle cx="233.8" cy="176.1" r="1.2"/>
<circle cx="222.6" cy="171.9" r="1.2"/>
<circle cx="125.2" cy="166.2" r="1.2"/>
<circle cx="234.1" cy="177.6" r="1.2"/>
<circle cx="136.1" cy="160.5" r="1.2"/>
<circle cx="134.9" cy="283.7" r="1.2"/>
<circle cx="129.4" cy="262.9" r="1.2"/>
<circle cx="146.7" cy="296.3" r="1.2"/>
<circle cx="115.9" cy="251.7" r="1.2"/>
<circle cx="123.7" cy="271.0" r="1.2"/>
<circle cx="155.8" cy="287.0" r="1.2"/>
<circle cx="135.3" cy="260.3" r="1.2"/>
<circle cx="134.7" cy="259.4" r="1.2"/>
<circle cx="115.6" cy="270.9" r="1.2"/>
<circle cx="146.6" cy="297.4" r="1.2"/>
<circle cx="110.2" cy="269.7" r="1.2"/>
<circle cx="109.9" cy="252.6" r="1.2"/>
<circle cx="151.3" cy="299.9" r="1.2"/>
<circle cx="126.2" cy="266.6" r="1.2"/>
<circle cx="111.8" cy="250.1" r="1.2"/>
<circle cx="119.6" cy="267.6" r="1.2"/>
<circle cx="125.0" cy="291.1" r="1.2"/>
<circle cx="113.5" cy="268.2" r="1.2"/>
<circle cx="128.8" cy="290.6" r="1.2"/>
<circle cx="102.4" cy="253.1" r="1.2"/>
<circle cx="152.3" cy="294.9" r="1.2"/>
<circle cx="123.7" cy="263.6" r="1.2"/>
<circle cx="167.0" cy="280.8" r="1.2"/>
<circle cx="118.4" cy="285.8" r="1.2"/>
<circle cx="122.2" cy="263.8" r="1.2"/>
<circle cx="164.2" cy="281.7" r="1.2"/>
<circle cx="166.0" cy="251.2" r="1.2"/>
<circle cx="116.4" cy="273.8" r="1.2"/>
<circle cx="127.1" cy="262.6" r="1.2"/>
<circle cx="130.1" cy="274.7" r="1.2"/>
<circle cx="156.2" cy="286.9" r="1.2"/>
<circle cx="157.6" cy="288.6" r="1.2"/>
<circle cx="122.4" cy="268.1" r="1.2"/>
<circle cx="117.3" cy="253.2" r="1.2"/>
<circle cx="161.8" cy="299.4" r="1.2"/>
<circle cx="118.5" cy="254.2" r="1.2"/>
<circle cx="116.4" cy="270.8" r="1.2"/>
<circle cx="152.4" cy="292.3" r="1.2"/>
<circle cx="117.3" cy="262.3" r="1.2"/>
<circle cx="135.5" cy="261.6" r="1.2"/>
<circle cx="156.6" cy="282.7" r="1.2"/>
<circle cx="133.2" cy="291.0" r="1.2"/>
<circle cx="158.8" cy="295.7" r="1.2"/>
<circle cx="108.3" cy="259.5" r="1.2"/>
<circle cx="160.9" cy="301.6" r="1.2"/>
<circle cx="157.1" cy="294.2" r="1.2"/>
<circle cx="162.7" cy="312.0" r="1.2"/>
<circle cx="150.6" cy="299.7" r="1.2"/>
<circle cx="153.2" cy="289.6" r="1.2"/>
<circle cx="169.8" cy="309.8" r="1.2"/>
<circle cx="165.6" cy="310.5" r="1.2"/>
<circle cx="167.9" cy="303.7" r="1.2"/>
<circle cx="193.2" cy="329.8" r="1.2"/>
<circle cx="182.0" cy="325.9" r="1.2"/>
<circle cx="168.5" cy="307.7" r="1.2"/>
<circle cx="157.3" cy="297.7" r="1.2"/>
<circle cx="155.4" cy="307.1" r="1.2"/>
<circle cx="190.2" cy="328.5" r="1.2"/>
<circle cx="159.9" cy="290.7" r="1.2"/>
<circle cx="197.2" cy="328.9" r="1.2"/>
<circle cx="160.9" cy="303.0" r="1.2"/>
<circle cx="156.2" cy="296.1" r="1.2"/>
<circle cx="186.2" cy="325.4" r="1.2"/>
<circle cx="171.0" cy="311.2" r="1.2"/>
<circle cx="214.1" cy="333.1" r="1.2"/>
<circle cx="215.7" cy="325.3" r="1.2"/>
<circle cx="219.2" cy="318.2" r="1.2"/>
<circle cx="241.1" cy="337.3" r="1.2"/>
<circle cx="216.7" cy="316.3" r="1.2"/>
<circle cx="217.9" cy="313.7" r="1.2"/>
<circle cx="190.3" cy="325.1" r="1.2"/>
<circle cx="187.3" cy="325.5" r="1.2"/>
<circle cx="238.7" cy="337.2" r="1.2"/>
<circle cx="220.3" cy="323.2" r="1.2"/>
<circle cx="248.6" cy="344.9" r="1.2"/>
<circle cx="238.6" cy="338.5" r="1.2"/>
<circle cx="195.5" cy="344.4" r="1.2"/>
<circle cx="219.3" cy="343.5" r="1.2"/>
<circle cx="243.1" cy="342.6" r="1.2"/>
<circle cx="185.2" cy="322.3" r="1.2"/>
<circle cx="220.2" cy="342.2" r="1.2"/>
<circle cx="196.7" cy="319.2" r="1.2"/>
<circle cx="220.5" cy="321.2" r="1.2"/>
<circle cx="192.9" cy="342.8" r="1.2"/>
<circle cx="234.4" cy="341.3" r="1.2"/>
<circle cx="193.5" cy="337.5" r="1.2"/>
<circle cx="189.2" cy="328.6" r="1.2"/>
<circle cx="230.9" cy="322.6" r="1.2"/>
<circle cx="249.8" cy="329.4" r="1.2"/>
<circle cx="226.4" cy="340.9" r="1.2"/>
<circle cx="188.4" cy="344.8" r="1.2"/>
<circle cx="230.4" cy="323.8" r="1.2"/>
<circle cx="208.8" cy="336.8" r="1.2"/>
<circle cx="215.4" cy="316.2" r="1.2"/>
<circle cx="231.1" cy="344.4" r="1.2"/>
<circle cx="226.9" cy="333.2" r="1.2"/>
<circle cx="229.3" cy="325.1" r="1.2"/>
<circle cx="221.0" cy="341.3" r="1.2"/>
<circle cx="180.2" cy="322.4" r="1.2"/>
<circle cx="188.5" cy="322.5" r="1.2"/>
<circle cx="197.9" cy="330.4" r="1.2"/>
<circle cx="227.1" cy="317.1" r="1.2"/>
<circle cx="265.5" cy="380.6" r="1.2"/>
<circle cx="210.3" cy="356.2" r="1.2"/>
<circle cx="301.3" cy="403.7" r="1.2"/>
<circle cx="233.3" cy="364.8" r="1.2"/>
<circle cx="256.5" cy="371.3" r="1.2"/>
<circle cx="268.6" cy="378.3" r="1.2"/>
<circle cx="233.9" cy="362.8" r="1.2"/>
<circle cx="203.9" cy="390.6" r="1.2"/>
<circle cx="248.5" cy="393.1" r="1.2"/>
<circle cx="219.9" cy="367.5" r="1.2"/>
<circle cx="288.5" cy="398.7" r="1.2"/>
<circle cx="283.1" cy="379.9" r="1.2"/>
<circle cx="282.6" cy="378.9" r="1.2"/>
<circle cx="207.8" cy="352.9" r="1.2"/>
<circle cx="208.7" cy="347.9" r="1.2"/>
<circle cx="223.6" cy="401.2" r="1.2"/>
<circle cx="275.8" cy="408.4" r="1.2"/>
<circle cx="278.2" cy="364.9" r="1.2"/>
<circle cx="255.3" cy="377.7" r="1.2"/>
<circle cx="289.3" cy="384.2" r="1.2"/>
<circle cx="213.5" cy="393.2" r="1.2"/>
<circle cx="212.8" cy="362.7" r="1.2"/>
<circle cx="282.9" cy="415.9" r="1.2"/>
<circle cx="283.2" cy="369.5" r="1.2"/>
<circle cx="302.6" cy="369.6" r="1.2"/>
<circle cx="266.5" cy="397.0" r="1.2"/>
<circle cx="271.5" cy="418.4" r="1.2"/>
<circle cx="243.1" cy="408.0" r="1.2"/>
<circle cx="276.2" cy="409.3" r="1.2"/>
<circle cx="238.4" cy="399.3" r="1.2"/>
<circle cx="257.7" cy="368.1" r="1.2"/>
<circle cx="205.7" cy="391.7" r="1.2"/>
<circle cx="196.0" cy="347.0" r="1.2"/>
<circle cx="225.0" cy="355.6" r="1.2"/>
<circle cx="275.4" cy="392.5" r="1.2"/>
<circle cx="276.1" cy="400.3" r="1.2"/>
<circle cx="227.7" cy="406.3" r="1.2"/>
<circle cx="293.8" cy="411.8" r="1.2"/>
<circle cx="190.5" cy="360.4" r="1.2"/>
<circle cx="191.2" cy="347.6" r="1.2"/>
<circle cx="297.9" cy="405.9" r="1.2"/>
<circle cx="267.0" cy="406.9" r="1.2"/>
<circle cx="266.6" cy="366.6" r="1.2"/>
<circle cx="189.5" cy="352.3" r="1.2"/>
<circle cx="284.8" cy="360.4" r="1.2"/>
<circle cx="221.3" cy="376.8" r="1.2"/>
<circle cx="178.0" cy="364.3" r="1.2"/>
<circle cx="216.0" cy="398.7" r="1.2"/>
<circle cx="228.4" cy="369.1" r="1.2"/>
<circle cx="314.8" cy="382.8" r="1.2"/>
<circle cx="298.4" cy="391.4" r="1.2"/>
<circle cx="238.3" cy="403.0" r="1.2"/>
<circle cx="225.3" cy="397.8" r="1.2"/>
<circle cx="253.0" cy="361.2" r="1.2"/>
<circle cx="285.5" cy="418.3" r="1.2"/>
<circle cx="246.3" cy="404.8" r="1.2"/>
<circle cx="201.8" cy="382.1" r="1.2"/>
<circle cx="225.3" cy="407.4" r="1.2"/>
<circle cx="216.1" cy="361.1" r="1.2"/>
<circle cx="276.4" cy="382.4" r="1.2"/>
<circle cx="276.1" cy="404.0" r="1.2"/>
<circle cx="266.1" cy="371.7" r="1.2"/>
<circle cx="233.2" cy="374.6" r="1.2"/>
<circle cx="204.9" cy="364.7" r="1.2"/>
<circle cx="305.7" cy="382.6" r="1.2"/>
<circle cx="230.0" cy="411.3" r="1.2"/>
<circle cx="288.9" cy="405.0" r="1.2"/>
<circle cx="293.2" cy="396.2" r="1.2"/>
<circle cx="285.9" cy="429.8" r="1.2"/>
<circle cx="286.4" cy="403.5" r="1.2"/>
<circle cx="284.8" cy="405.0" r="1.2"/>
<circle cx="287.3" cy="394.6" r="1.2"/>
<circle cx="285.9" cy="385.1" r="1.2"/>
<circle cx="289.4" cy="396.2" r="1.2"/>
<circle cx="299.8" cy="385.5" r="1.2"/>
<circle cx="292.5" cy="387.3" r="1.2"/>
<circle cx="283.9" cy="437.6" r="1.2"/>
<circle cx="283.9" cy="400.0" r="1.2"/>
<circle cx="287.5" cy="416.5" r="1.2"/>
<circle cx="284.1" cy="388.4" r="1.2"/>
<circle cx="294.8" cy="377.2" r="1.2"/>
<circle cx="295.2" cy="426.4" r="1.2"/>
<circle cx="304.0" cy="405.1" r="1.2"/>
<circle cx="285.4" cy="414.2" r="1.2"/>
<circle cx="295.4" cy="423.2" r="1.2"/>
<circle cx="296.0" cy="389.9" r="1.2"/>
<circle cx="291.9" cy="415.8" r="1.2"/>
<circle cx="283.7" cy="402.3" r="1.2"/>
<circle cx="303.9" cy="391.3" r="1.2"/>
<circle cx="296.1" cy="404.6" r="1.2"/>
<circle cx="303.6" cy="401.6" r="1.2"/>
<circle cx="287.0" cy="417.5" r="1.2"/>
<circle cx="281.4" cy="410.3" r="1.2"/>
<circle cx="286.1" cy="425.8" r="1.2"/>
<circle cx="283.8" cy="412.3" r="1.2"/>
<circle cx="299.5" cy="416.6" r="1.2"/>
<circle cx="288.0" cy="419.5" r="1.2"/>
<circle cx="294.9" cy="424.6" r="1.2"/>
<circle cx="284.7" cy="439.0" r="1.2"/>
<circle cx="293.5" cy="378.7" r="1.2"/>
<circle cx="290.4" cy="401.0" r="1.2"/>
<circle cx="280.5" cy="402.2" r="1.2"/>
<circle cx="296.0" cy="420.4" r="1.2"/>
<circle cx="293.4" cy="392.2" r="1.2"/>
<circle cx="288.5" cy="423.2" r="1.2"/>
<circle cx="288.3" cy="427.1" r="1.2"/>
<circle cx="294.9" cy="388.8" r="1.2"/>
<circle cx="284.9" cy="425.5" r="1.2"/>
<circle cx="297.8" cy="411.5" r="1.2"/>
<circle cx="288.6" cy="437.7" r="1.2"/>
<circle cx="293.4" cy="416.5" r="1.2"/>
<circle cx="297.8" cy="394.1" r="1.2"/>
<circle cx="300.8" cy="383.1" r="1.2"/>
<circle cx="285.9" cy="441.3" r="1.2"/>
<circle cx="287.3" cy="436.0" r="1.2"/>
<circle cx="247.0" cy="435.2" r="1.2"/>
<circle cx="251.2" cy="431.2" r="1.2"/>
<circle cx="238.9" cy="434.7" r="1.2"/>
<circle cx="240.7" cy="448.8" r="1.2"/>
<circle cx="251.4" cy="458.2" r="1.2"/>
<circle cx="271.0" cy="441.7" r="1.2"/>
<circle cx="219.9" cy="469.7" r="1.2"/>
<circle cx="226.9" cy="469.9" r="1.2"/>
<circle cx="268.8" cy="420.9" r="1.2"/>
<circle cx="270.8" cy="435.0" r="1.2"/>
<circle cx="223.6" cy="428.6" r="1.2"/>
<circle cx="234.9" cy="466.6" r="1.2"/>
<circle cx="244.4" cy="429.2" r="1.2"/>
<circle cx="229.3" cy="473.5" r="1.2"/>
<circle cx="266.7" cy="466.9" r="1.2"/>
<circle cx="231.8" cy="461.6" r="1.2"/>
<circle cx="260.1" cy="464.5" r="1.2"/>
<circle cx="252.3" cy="473.0" r="1.2"/>
<circle cx="262.2" cy="435.9" r="1.2"/>
<circle cx="234.9" cy="428.4" r="1.2"/>
<circle cx="256.9" cy="423.5" r="1.2"/>
<circle cx="254.7" cy="428.7" r="1.2"/>
<circle cx="256.8" cy="449.9" r="1.2"/>
<circle cx="260.9" cy="471.8" r="1.2"/>
<circle cx="254.8" cy="453.8" r="1.2"/>
<circle cx="246.9" cy="445.1" r="1.2"/>
<circle cx="296.7" cy="424.5" r="1.2"/>
<circle cx="269.1" cy="458.2" r="1.2"/>
<circle cx="217.4" cy="456.6" r="1.2"/>
<circle cx="243.1" cy="478.9" r="1.2"/>
<circle cx="258.4" cy="449.1" r="1.2"/>
<circle cx="291.3" cy="422.0" r="1.2"/>
<circle cx="243.8" cy="471.7" r="1.2"/>
<circle cx="246.1" cy="448.5" r="1.2"/>
<circle cx="259.7" cy="466.2" r="1.2"/>
<circle cx="232.9" cy="446.1" r="1.2"/>
<circle cx="250.9" cy="453.2" r="1.2"/>
<circle cx="285.3" cy="437.6" r="1.2"/>
<circle cx="257.8" cy="436.3" r="1.2"/>
<circle cx="243.1" cy="439.0" r="1.2"/>
<circle cx="240.4" cy="455.2" r="1.2"/>
<circle cx="269.0" cy="467.1" r="1.2"/>
<circle cx="218.4" cy="463.4" r="1.2"/>
<circle cx="219.2" cy="438.0" r="1.2"/>
<circle cx="215.5" cy="431.4" r="1.2"/>
<circle cx="267.4" cy="457.6" r="1.2"/>
<circle cx="274.2" cy="455.8" r="1.2"/>
<circle cx="272.9" cy="432.8" r="1.2"/>
<circle cx="271.7" cy="447.5" r="1.2"/>
<circle cx="279.8" cy="426.1" r="1.2"/>
<circle cx="230.4" cy="422.2" r="1.2"/>
<circle cx="270.7" cy="442.1" r="1.2"/>
<circle cx="262.8" cy="435.5" r="1.2"/>
<circle cx="240.7" cy="445.3" r="1.2"/>
<circle cx="242.1" cy="445.8" r="1.2"/>
<circle cx="219.6" cy="454.1" r="1.2"/>
<circle cx="218.3" cy="427.1" r="1.2"/>
<circle cx="235.7" cy="536.3" r="1.2"/>
<circle cx="229.4" cy="486.1" r="1.2"/>
<circle cx="237.6" cy="492.7" r="1.2"/>
<circle cx="220.3" cy="480.9" r="1.2"/>
<circle cx="219.5" cy="481.1" r="1.2"/>
<circle cx="240.2" cy="494.5" r="1.2"/>
<circle cx="472.8" cy="173.5" r="1.2"/>
<circle cx="403.1" cy="215.7" r="1.2"/>
<circle cx="472.4" cy="166.1" r="1.2"/>
<circle cx="462.1" cy="211.1" r="1.2"/>
<circle cx="445.0" cy="227.1" r="1.2"/>
<circle cx="423.9" cy="229.4" r="1.2"/>
<circle cx="399.5" cy="206.9" r="1.2"/>
<circle cx="481.4" cy="165.7" r="1.2"/>
<circle cx="447.6" cy="164.3" r="1.2"/>
<circle cx="435.5" cy="201.4" r="1.2"/>
<circle cx="412.8" cy="217.4" r="1.2"/>
<circle cx="462.2" cy="190.1" r="1.2"/>
<circle cx="494.4" cy="216.5" r="1.2"/>
<circle cx="455.8" cy="181.1" r="1.2"/>
<circle cx="459.3" cy="182.2" r="1.2"/>
<circle cx="441.7" cy="223.9" r="1.2"/>
<circle cx="480.4" cy="180.4" r="1.2"/>
<circle cx="402.3" cy="220.0" r="1.2"/>
<circle cx="480.8" cy="222.4" r="1.2"/>
<circle cx="456.3" cy="179.7" r="1.2"/>
<circle cx="484.8" cy="218.1" r="1.2"/>
<circle cx="418.4" cy="214.0" r="1.2"/>
<circle cx="493.0" cy="176.9" r="1.2"/>
<circle cx="459.9" cy="208.8" r="1.2"/>
<circle cx="445.5" cy="174.9" r="1.2"/>
<circle cx="478.7" cy="193.1" r="1.2"/>
<circle cx="406.9" cy="218.1" r="1.2"/>
<circle cx="476.8" cy="176.8" r="1.2"/>
<circle cx="488.3" cy="197.6" r="1.2"/>
<circle cx="417.3" cy="173.8" r="1.2"/>
<circle cx="416.4" cy="210.5" r="1.2"/>
<circle cx="435.0" cy="200.6" r="1.2"/>
<circle cx="439.1" cy="197.2" r="1.2"/>
<circle cx="413.2" cy="163.2" r="1.2"/>
<circle cx="499.7" cy="186.9" r="1.2"/>
<circle cx="408.8" cy="205.6" r="1.2"/>
<circle cx="478.3" cy="171.2" r="1.2"/>
<circle cx="458.9" cy="184.8" r="1.2"/>
<circle cx="486.3" cy="195.0" r="1.2"/>
<circle cx="455.9" cy="178.8" r="1.2"/>
<circle cx="477.5" cy="190.7" r="1.2"/>
<circle cx="494.5" cy="215.2" r="1.2"/>
<circle cx="418.5" cy="173.0" r="1.2"/>
<circle cx="406.5" cy="163.7" r="1.2"/>
<circle cx="444.7" cy="228.2" r="1.2"/>
<circle cx="490.8" cy="164.6" r="1.2"/>
<circle cx="459.0" cy="188.6" r="1.2"/>
<circle cx="410.2" cy="229.1" r="1.2"/>
<circle cx="424.2" cy="200.6" r="1.2"/>
<circle cx="466.3" cy="188.3" r="1.2"/>
<circle cx="443.7" cy="171.5" r="1.2"/>
<circle cx="424.1" cy="185.3" r="1.2"/>
<circle cx="490.1" cy="225.1" r="1.2"/>
<circle cx="483.4" cy="163.4" r="1.2"/>
<circle cx="478.2" cy="211.1" r="1.2"/>
<circle cx="403.7" cy="170.4" r="1.2"/>
<circle cx="467.0" cy="181.5" r="1.2"/>
<circle cx="424.2" cy="168.9" r="1.2"/>
<circle cx="447.1" cy="172.1" r="1.2"/>
<circle cx="422.3" cy="170.3" r="1.2"/>
<circle cx="471.2" cy="174.0" r="1.2"/>
<circle cx="420.5" cy="227.2" r="1.2"/>
<circle cx="486.4" cy="224.0" r="1.2"/>
<circle cx="483.9" cy="205.2" r="1.2"/>
<circle cx="444.1" cy="184.5" r="1.2"/>
<circle cx="482.0" cy="194.4" r="1.2"/>
<circle cx="462.1" cy="170.3" r="1.2"/>
<circle cx="420.6" cy="164.1" r="1.2"/>
<circle cx="470.8" cy="199.8" r="1.2"/>
<circle cx="412.8" cy="222.7" r="1.2"/>
<circle cx="425.2" cy="189.6" r="1.2"/>
<circle cx="483.6" cy="184.1" r="1.2"/>
<circle cx="430.4" cy="225.0" r="1.2"/>
<circle cx="409.6" cy="230.5" r="1.2"/>
<circle cx="403.8" cy="224.4" r="1.2"/>
<circle cx="466.2" cy="175.2" r="1.2"/>
<circle cx="446.7" cy="180.6" r="1.2"/>
<circle cx="424.3" cy="174.5" r="1.2"/>
<circle cx="435.2" cy="231.4" r="1.2"/>
<circle cx="489.4" cy="164.1" r="1.2"/>
<circle cx="472.1" cy="181.1" r="1.2"/>
<circle cx="497.8" cy="161.2" r="1.2"/>
<circle cx="480.3" cy="184.5" r="1.2"/>
<circle cx="412.3" cy="160.1" r="1.2"/>
<circle cx="482.9" cy="197.9" r="1.2"/>
<circle cx="491.0" cy="175.7" r="1.2"/>
<circle cx="456.3" cy="169.9" r="1.2"/>
<circle cx="416.4" cy="215.5" r="1.2"/>
<circle cx="470.6" cy="174.2" r="1.2"/>
<circle cx="406.1" cy="166.3" r="1.2"/>
<circle cx="460.1" cy="195.7" r="1.2"/>
<circle cx="425.9" cy="174.8" r="1.2"/>
<circle cx="460.5" cy="211.0" r="1.2"/>
<circle cx="480.8" cy="202.0" r="1.2"/>
<circle cx="418.6" cy="164.7" r="1.2"/>
<circle cx="472.7" cy="189.4" r="1.2"/>
<circle cx="471.6" cy="164.0" r="1.2"/>
<circle cx="480.7" cy="184.1" r="1.2"/>
<circle cx="483.9" cy="222.2" r="1.2"/>
<circle cx="448.3" cy="161.1" r="1.2"/>
<circle cx="490.8" cy="194.3" r="1.2"/>
<circle cx="486.9" cy="179.2" r="1.2"/>
<circle cx="435.4" cy="171.8" r="1.2"/>
<circle cx="443.5" cy="197.1" r="1.2"/>
<circle cx="410.3" cy="211.5" r="1.2"/>
<circle cx="481.3" cy="222.3" r="1.2"/>
<circle cx="404.2" cy="222.8" r="1.2"/>
<circle cx="495.3" cy="195.6" r="1.2"/>
<circle cx="450.4" cy="198.2" r="1.2"/>
<circle cx="496.7" cy="176.1" r="1.2"/>
<circle cx="416.6" cy="167.4" r="1.2"/>
<circle cx="401.1" cy="166.9" r="1.2"/>
<circle cx="469.3" cy="174.0" r="1.2"/>
<circle cx="399.8" cy="203.2" r="1.2"/>
<circle cx="456.8" cy="197.6" r="1.2"/>
<circle cx="469.7" cy="167.4" r="1.2"/>
<circle cx="486.7" cy="211.6" r="1.2"/>
<circle cx="402.6" cy="168.9" r="1.2"/>
<circle cx="448.3" cy="196.1" r="1.2"/>
<circle cx="439.4" cy="169.9" r="1.2"/>
<circle cx="413.0" cy="201.2" r="1.2"/>
<circle cx="474.2" cy="171.8" r="1.2"/>
<circle cx="437.7" cy="190.3" r="1.2"/>
<circle cx="483.7" cy="197.8" r="1.2"/>
<circle cx="438.4" cy="227.8" r="1.2"/>
<circle cx="477.2" cy="184.4" r="1.2"/>
<circle cx="422.5" cy="184.1" r="1.2"/>
<circle cx="442.4" cy="230.6" r="1.2"/>
<circle cx="423.4" cy="190.4" r="1.2"/>
<circle cx="462.5" cy="186.2" r="1.2"/>
<circle cx="452.1" cy="165.0" r="1.2"/>
<circle cx="442.2" cy="196.3" r="1.2"/>
<circle cx="400.1" cy="170.0" r="1.2"/>
<circle cx="496.9" cy="215.9" r="1.2"/>
<circle cx="493.6" cy="205.6" r="1.2"/>
<circle cx="488.2" cy="162.5" r="1.2"/>
<circle cx="463.4" cy="179.1" r="1.2"/>
<circle cx="467.2" cy="179.7" r="1.2"/>
<circle cx="461.4" cy="178.0" r="1.2"/>
<circle cx="451.1" cy="191.2" r="1.2"/>
<circle cx="495.0" cy="180.7" r="1.2"/>
<circle cx="410.3" cy="202.8" r="1.2"/>
<circle cx="495.5" cy="197.0" r="1.2"/>
<circle cx="425.4" cy="193.6" r="1.2"/>
<circle cx="452.5" cy="170.7" r="1.2"/>
<circle cx="427.9" cy="189.3" r="1.2"/>
<circle cx="483.7" cy="203.9" r="1.2"/>
<circle cx="418.5" cy="211.1" r="1.2"/>
<circle cx="445.0" cy="199.5" r="1.2"/>
<circle cx="460.5" cy="193.8" r="1.2"/>
<circle cx="429.7" cy="177.4" r="1.2"/>
<circle cx="420.6" cy="196.9" r="1.2"/>
<circle cx="485.9" cy="177.2" r="1.2"/>
<circle cx="454.8" cy="195.4" r="1.2"/>
<circle cx="427.1" cy="231.1" r="1.2"/>
<circle cx="486.9" cy="191.7" r="1.2"/>
<circle cx="495.8" cy="213.2" r="1.2"/>
<circle cx="413.8" cy="184.3" r="1.2"/>
<circle cx="460.9" cy="221.2" r="1.2"/>
<circle cx="481.8" cy="197.3" r="1.2"/>
<circle cx="475.5" cy="194.2" r="1.2"/>
<circle cx="478.1" cy="211.0" r="1.2"/>
<circle cx="491.3" cy="169.2" r="1.2"/>
<circle cx="486.8" cy="160.3" r="1.2"/>
<circle cx="476.1" cy="202.2" r="1.2"/>
<circle cx="448.8" cy="229.3" r="1.2"/>
<circle cx="456.3" cy="190.1" r="1.2"/>
<circle cx="459.9" cy="187.3" r="1.2"/>
<circle cx="444.1" cy="193.0" r="1.2"/>
<circle cx="471.8" cy="181.1" r="1.2"/>
<circle cx="437.8" cy="200.0" r="1.2"/>
<circle cx="437.2" cy="183.2" r="1.2"/>
<circle cx="449.0" cy="192.0" r="1.2"/>
<circle cx="412.8" cy="201.4" r="1.2"/>
<circle cx="491.9" cy="183.3" r="1.2"/>
<circle cx="484.0" cy="220.3" r="1.2"/>
<circle cx="495.8" cy="174.7" r="1.2"/>
<circle cx="441.5" cy="225.6" r="1.2"/>
<circle cx="455.6" cy="195.8" r="1.2"/>
<circle cx="491.9" cy="215.7" r="1.2"/>
<circle cx="452.9" cy="231.9" r="1.2"/>
<circle cx="450.8" cy="197.2" r="1.2"/>
<circle cx="467.9" cy="188.0" r="1.2"/>
<circle cx="433.8" cy="228.2" r="1.2"/>
<circle cx="467.0" cy="197.8" r="1.2"/>
<circle cx="438.9" cy="200.4" r="1.2"/>
<circle cx="496.4" cy="195.0" r="1.2"/>
<circle cx="499.6" cy="184.7" r="1.2"/>
<circle cx="415.4" cy="182.9" r="1.2"/>
<circle cx="450.3" cy="168.0" r="1.2"/>
<circle cx="489.2" cy="209.7" r="1.2"/>
<circle cx="488.6" cy="190.3" r="1.2"/>
<circle cx="450.2" cy="196.4" r="1.2"/>
<circle cx="417.2" cy="173.1" r="1.2"/>
<circle cx="462.3" cy="203.4" r="1.2"/>
<circle cx="434.0" cy="231.5" r="1.2"/>
<circle cx="483.9" cy="202.2" r="1.2"/>
<circle cx="466.1" cy="174.2" r="1.2"/>
<circle cx="425.1" cy="206.6" r="1.2"/>
<circle cx="452.2" cy="231.8" r="1.2"/>
<circle cx="456.6" cy="189.6" r="1.2"/>
<circle cx="475.5" cy="167.7" r="1.2"/>
<circle cx="476.6" cy="183.2" r="1.2"/>
<circle cx="471.0" cy="185.5" r="1.2"/>
<circle cx="408.1" cy="225.1" r="1.2"/>
<circle cx="457.4" cy="185.1" r="1.2"/>
<circle cx="443.9" cy="187.8" r="1.2"/>
<circle cx="403.6" cy="224.1" r="1.2"/>
<circle cx="430.1" cy="224.7" r="1.2"/>
<circle cx="481.2" cy="181.9" r="1.2"/>
<circle cx="448.5" cy="228.4" r="1.2"/>
<circle cx="422.8" cy="188.1" r="1.2"/>
<circle cx="471.3" cy="175.9" r="1.2"/>
<circle cx="422.8" cy="172.5" r="1.2"/>
<circle cx="434.6" cy="173.4" r="1.2"/>
<circle cx="497.1" cy="180.9" r="1.2"/>
<circle cx="455.3" cy="168.3" r="1.2"/>
<circle cx="452.4" cy="187.8" r="1.2"/>
<circle cx="410.6" cy="219.5" r="1.2"/>
<circle cx="433.8" cy="177.6" r="1.2"/>
<circle cx="465.8" cy="184.6" r="1.2"/>
<circle cx="413.9" cy="210.8" r="1.2"/>
<circle cx="483.2" cy="169.2" r="1.2"/>
<circle cx="480.1" cy="171.5" r="1.2"/>
<circle cx="436.4" cy="229.0" r="1.2"/>
<circle cx="419.2" cy="228.5" r="1.2"/>
<circle cx="449.5" cy="176.4" r="1.2"/>
<circle cx="444.2" cy="169.4" r="1.2"/>
<circle cx="470.1" cy="178.8" r="1.2"/>
<circle cx="489.8" cy="202.3" r="1.2"/>
<circle cx="435.5" cy="177.7" r="1.2"/>
<circle cx="460.0" cy="175.3" r="1.2"/>
<circle cx="487.0" cy="168.8" r="1.2"/>
<circle cx="450.3" cy="199.1" r="1.2"/>
<circle cx="455.9" cy="182.4" r="1.2"/>
<circle cx="434.9" cy="196.0" r="1.2"/>
<circle cx="429.7" cy="176.3" r="1.2"/>
<circle cx="410.9" cy="211.6" r="1.2"/>
<circle cx="426.8" cy="189.0" r="1.2"/>
<circle cx="490.7" cy="215.8" r="1.2"/>
<circle cx="488.0" cy="222.0" r="1.2"/>
<circle cx="401.0" cy="208.9" r="1.2"/>
<circle cx="465.7" cy="185.3" r="1.2"/>
<circle cx="469.3" cy="177.9" r="1.2"/>
<circle cx="484.4" cy="185.4" r="1.2"/>
<circle cx="462.1" cy="173.1" r="1.2"/>
<circle cx="428.9" cy="187.4" r="1.2"/>
<circle cx="463.1" cy="172.9" r="1.2"/>
<circle cx="483.6" cy="201.1" r="1.2"/>
<circle cx="471.1" cy="178.3" r="1.2"/>
<circle cx="483.1" cy="215.9" r="1.2"/>
<circle cx="485.1" cy="203.7" r="1.2"/>
<circle cx="409.3" cy="217.0" r="1.2"/>
<circle cx="419.4" cy="225.8" r="1.2"/>
<circle cx="474.5" cy="166.2" r="1.2"/>
<circle cx="468.9" cy="188.3" r="1.2"/>
<circle cx="494.5" cy="190.5" r="1.2"/>
<circle cx="492.9" cy="209.8" r="1.2"/>
<circle cx="462.1" cy="192.6" r="1.2"/>
<circle cx="403.5" cy="210.3" r="1.2"/>
<circle cx="441.7" cy="196.9" r="1.2"/>
<circle cx="492.7" cy="169.2" r="1.2"/>
<circle cx="475.7" cy="163.1" r="1.2"/>
<circle cx="424.6" cy="199.3" r="1.2"/>
<circle cx="496.9" cy="205.9" r="1.2"/>
<circle cx="453.5" cy="178.0" r="1.2"/>
<circle cx="440.0" cy="174.5" r="1.2"/>
<circle cx="450.6" cy="192.0" r="1.2"/>
<circle cx="493.5" cy="185.3" r="1.2"/>
<circle cx="415.3" cy="208.0" r="1.2"/>
<circle cx="459.1" cy="193.2" r="1.2"/>
<circle cx="434.8" cy="174.9" r="1.2"/>
<circle cx="418.1" cy="210.5" r="1.2"/>
<circle cx="443.7" cy="168.1" r="1.2"/>
<circle cx="431.1" cy="193.7" r="1.2"/>
<circle cx="435.0" cy="172.1" r="1.2"/>
<circle cx="499.2" cy="214.0" r="1.2"/>
<circle cx="406.6" cy="211.6" r="1.2"/>
<circle cx="498.0" cy="200.6" r="1.2"/>
<circle cx="442.3" cy="173.7" r="1.2"/>
<circle cx="491.8" cy="206.4" r="1.2"/>
<circle cx="464.6" cy="178.1" r="1.2"/>
<circle cx="423.1" cy="170.0" r="1.2"/>
<circle cx="400.8" cy="215.8" r="1.2"/>
<circle cx="483.6" cy="181.3" r="1.2"/>
<circle cx="416.9" cy="205.9" r="1.2"/>
<circle cx="484.3" cy="226.7" r="1.2"/>
<circle cx="415.2" cy="216.5" r="1.2"/>
<circle cx="482.7" cy="213.4" r="1.2"/>
<circle cx="431.3" cy="173.3" r="1.2"/>
<circle cx="482.2" cy="183.1" r="1.2"/>
<circle cx="435.6" cy="199.7" r="1.2"/>
<circle cx="455.8" cy="205.2" r="1.2"/>
<circle cx="481.6" cy="210.8" r="1.2"/>
<circle cx="448.4" cy="196.0" r="1.2"/>
<circle cx="468.2" cy="171.8" r="1.2"/>
<circle cx="443.2" cy="229.8" r="1.2"/>
<circle cx="407.1" cy="162.9" r="1.2"/>
<circle cx="442.8" cy="173.7" r="1.2"/>
<circle cx="483.8" cy="221.6" r="1.2"/>
<circle cx="478.3" cy="190.6" r="1.2"/>
<circle cx="450.5" cy="190.3" r="1.2"/>
<circle cx="432.5" cy="191.6" r="1.2"/>
<circle cx="465.9" cy="219.5" r="1.2"/>
<circle cx="490.2" cy="171.8" r="1.2"/>
<circle cx="428.2" cy="191.9" r="1.2"/>
<circle cx="455.5" cy="185.1" r="1.2"/>
<circle cx="417.9" cy="166.1" r="1.2"/>
<circle cx="431.0" cy="193.2" r="1.2"/>
<circle cx="496.1" cy="204.6" r="1.2"/>
<circle cx="480.7" cy="164.3" r="1.2"/>
<circle cx="428.3" cy="201.1" r="1.2"/>
<circle cx="495.2" cy="194.6" r="1.2"/>
<circle cx="464.0" cy="181.6" r="1.2"/>
<circle cx="400.8" cy="173.6" r="1.2"/>
<circle cx="467.2" cy="192.2" r="1.2"/>
<circle cx="406.7" cy="207.6" r="1.2"/>
<circle cx="435.9" cy="201.8" r="1.2"/>
<circle cx="440.5" cy="198.2" r="1.2"/>
<circle cx="455.6" cy="188.5" r="1.2"/>
<circle cx="488.8" cy="199.5" r="1.2"/>
<circle cx="409.5" cy="222.1" r="1.2"/>
<circle cx="423.9" cy="166.8" r="1.2"/>
<circle cx="452.1" cy="178.1" r="1.2"/>
<circle cx="421.1" cy="201.2" r="1.2"/>
<circle cx="475.2" cy="168.3" r="1.2"/>
<circle cx="499.0" cy="212.0" r="1.2"/>
<circle cx="408.4" cy="219.8" r="1.2"/>
<circle cx="438.0" cy="172.3" r="1.2"/>
<circle cx="495.9" cy="200.5" r="1.2"/>
<circle cx="477.0" cy="169.8" r="1.2"/>
<circle cx="477.2" cy="164.1" r="1.2"/>
<circle cx="422.2" cy="186.8" r="1.2"/>
<circle cx="399.5" cy="202.8" r="1.2"/>
<circle cx="470.2" cy="190.7" r="1.2"/>
<circle cx="488.6" cy="204.7" r="1.2"/>
<circle cx="487.0" cy="200.5" r="1.2"/>
<circle cx="415.1" cy="213.7" r="1.2"/>
<circle cx="459.6" cy="167.2" r="1.2"/>
<circle cx="466.9" cy="178.3" r="1.2"/>
<circle cx="483.5" cy="201.9" r="1.2"/>
<circle cx="409.6" cy="161.5" r="1.2"/>
<circle cx="409.3" cy="217.6" r="1.2"/>
<circle cx="436.8" cy="170.4" r="1.2"/>
<circle cx="487.3" cy="198.8" r="1.2"/>
<circle cx="494.8" cy="161.0" r="1.2"/>
<circle cx="479.6" cy="162.6" r="1.2"/>
<circle cx="416.6" cy="218.9" r="1.2"/>
<circle cx="467.3" cy="188.3" r="1.2"/>
<circle cx="446.5" cy="171.4" r="1.2"/>
<circle cx="484.2" cy="188.3" r="1.2"/>
<circle cx="487.0" cy="204.0" r="1.2"/>
<circle cx="415.3" cy="186.0" r="1.2"/>
<circle cx="437.6" cy="185.5" r="1.2"/>
<circle cx="444.9" cy="231.0" r="1.2"/>
<circle cx="402.6" cy="170.5" r="1.2"/>
<circle cx="466.4" cy="179.6" r="1.2"/>
<circle cx="425.9" cy="196.0" r="1.2"/>
<circle cx="424.7" cy="201.0" r="1.2"/>
<circle cx="451.9" cy="228.9" r="1.2"/>
<circle cx="499.2" cy="162.5" r="1.2"/>
<circle cx="487.0" cy="215.7" r="1.2"/>
<circle cx="462.6" cy="205.7" r="1.2"/>
<circle cx="435.0" cy="180.3" r="1.2"/>
<circle cx="493.7" cy="209.1" r="1.2"/>
<circle cx="473.4" cy="196.6" r="1.2"/>
<circle cx="462.8" cy="185.2" r="1.2"/>
<circle cx="454.2" cy="189.2" r="1.2"/>
<circle cx="431.0" cy="231.2" r="1.2"/>
<circle cx="447.1" cy="186.4" r="1.2"/>
<circle cx="422.8" cy="176.9" r="1.2"/>
<circle cx="444.2" cy="192.1" r="1.2"/>
<circle cx="456.0" cy="181.8" r="1.2"/>
<circle cx="428.8" cy="182.2" r="1.2"/>
<circle cx="472.1" cy="199.7" r="1.2"/>
<circle cx="493.6" cy="184.5" r="1.2"/>
<circle cx="492.0" cy="202.0" r="1.2"/>
<circle cx="489.7" cy="179.9" r="1.2"/>
<circle cx="469.8" cy="175.7" r="1.2"/>
<circle cx="438.8" cy="174.4" r="1.2"/>
<circle cx="464.1" cy="174.2" r="1.2"/>
<circle cx="487.3" cy="206.1" r="1.2"/>
<circle cx="492.1" cy="175.3" r="1.2"/>
<circle cx="464.2" cy="189.2" r="1.2"/>
<circle cx="467.3" cy="184.3" r="1.2"/>
<circle cx="402.6" cy="205.1" r="1.2"/>
<circle cx="432.1" cy="195.6" r="1.2"/>
<circle cx="459.0" cy="178.5" r="1.2"/>
<circle cx="492.4" cy="200.6" r="1.2"/>
<circle cx="498.7" cy="164.0" r="1.2"/>
<circle cx="460.6" cy="212.1" r="1.2"/>
<circle cx="413.9" cy="170.3" r="1.2"/>
<circle cx="476.3" cy="166.5" r="1.2"/>
<circle cx="481.0" cy="190.5" r="1.2"/>
<circle cx="452.9" cy="202.4" r="1.2"/>
<circle cx="459.4" cy="183.8" r="1.2"/>
<circle cx="473.6" cy="178.6" r="1.2"/>
<circle cx="477.2" cy="182.3" r="1.2"/>
<circle cx="444.2" cy="180.0" r="1.2"/>
<circle cx="451.4" cy="227.7" r="1.2"/>
<circle cx="411.5" cy="160.7" r="1.2"/>
<circle cx="446.5" cy="207.2" r="1.2"/>
<circle cx="477.0" cy="186.1" r="1.2"/>
<circle cx="498.9" cy="176.4" r="1.2"/>
<circle cx="475.2" cy="166.5" r="1.2"/>
<circle cx="400.9" cy="169.7" r="1.2"/>
<circle cx="454.6" cy="173.1" r="1.2"/>
<circle cx="493.9" cy="186.3" r="1.2"/>
<circle cx="413.2" cy="172.8" r="1.2"/>
<circle cx="414.5" cy="162.1" r="1.2"/>
<circle cx="477.4" cy="177.5" r="1.2"/>
<circle cx="498.2" cy="195.9" r="1.2"/>
<circle cx="462.9" cy="184.8" r="1.2"/>
<circle cx="479.7" cy="193.1" r="1.2"/>
<circle cx="431.0" cy="225.1" r="1.2"/>
<circle cx="409.0" cy="212.8" r="1.2"/>
<circle cx="404.7" cy="206.5" r="1.2"/>
<circle cx="439.8" cy="226.2" r="1.2"/>
<circle cx="494.4" cy="205.2" r="1.2"/>
<circle cx="424.8" cy="191.2" r="1.2"/>
<circle cx="421.6" cy="174.6" r="1.2"/>
<circle cx="475.4" cy="206.3" r="1.2"/>
<circle cx="428.4" cy="231.6" r="1.2"/>
<circle cx="420.1" cy="201.0" r="1.2"/>
<circle cx="486.7" cy="179.2" r="1.2"/>
<circle cx="426.8" cy="183.9" r="1.2"/>
<circle cx="447.5" cy="224.1" r="1.2"/>
<circle cx="414.5" cy="209.2" r="1.2"/>
<circle cx="459.0" cy="192.6" r="1.2"/>
<circle cx="486.1" cy="173.1" r="1.2"/>
<circle cx="409.4" cy="230.2" r="1.2"/>
<circle cx="413.4" cy="213.0" r="1.2"/>
<circle cx="467.6" cy="166.5" r="1.2"/>
<circle cx="432.6" cy="226.1" r="1.2"/>
<circle cx="497.9" cy="162.4" r="1.2"/>
<circle cx="449.5" cy="176.7" r="1.2"/>
<circle cx="441.9" cy="167.6" r="1.2"/>
<circle cx="416.3" cy="209.3" r="1.2"/>
<circle cx="413.1" cy="213.2" r="1.2"/>
<circle cx="449.1" cy="168.1" r="1.2"/>
<circle cx="434.1" cy="195.7" r="1.2"/>
<circle cx="491.7" cy="185.2" r="1.2"/>
<circle cx="419.9" cy="229.7" r="1.2"/>
<circle cx="488.1" cy="212.7" r="1.2"/>
<circle cx="425.8" cy="172.8" r="1.2"/>
<circle cx="439.6" cy="200.1" r="1.2"/>
<circle cx="453.5" cy="199.5" r="1.2"/>
<circle cx="487.2" cy="211.7" r="1.2"/>
<circle cx="438.7" cy="182.9" r="1.2"/>
<circle cx="440.8" cy="230.1" r="1.2"/>
<circle cx="437.5" cy="187.7" r="1.2"/>
<circle cx="439.8" cy="170.3" r="1.2"/>
<circle cx="499.8" cy="160.4" r="1.2"/>
<circle cx="424.0" cy="204.0" r="1.2"/>
<circle cx="436.5" cy="177.3" r="1.2"/>
<circle cx="418.2" cy="168.4" r="1.2"/>
<circle cx="484.0" cy="216.4" r="1.2"/>
<circle cx="490.7" cy="163.6" r="1.2"/>
<circle cx="468.8" cy="183.4" r="1.2"/>
<circle cx="430.2" cy="230.0" r="1.2"/>
<circle cx="398.1" cy="213.7" r="1.2"/>
<circle cx="485.1" cy="196.7" r="1.2"/>
<circle cx="421.9" cy="205.3" r="1.2"/>
<circle cx="473.8" cy="187.3" r="1.2"/>
<circle cx="470.6" cy="188.3" r="1.2"/>
<circle cx="467.1" cy="183.2" r="1.2"/>
<circle cx="420.8" cy="204.1" r="1.2"/>
<circle cx="425.0" cy="225.4" r="1.2"/>
<circle cx="446.3" cy="212.0" r="1.2"/>
<circle cx="451.2" cy="194.3" r="1.2"/>
<circle cx="420.6" cy="170.2" r="1.2"/>
<circle cx="492.6" cy="198.1" r="1.2"/>
<circle cx="451.4" cy="198.0" r="1.2"/>
<circle cx="481.0" cy="177.2" r="1.2"/>
<circle cx="415.6" cy="219.2" r="1.2"/>
<circle cx="482.4" cy="224.4" r="1.2"/>
<circle cx="486.5" cy="163.1" r="1.2"/>
<circle cx="481.4" cy="168.9" r="1.2"/>
<circle cx="413.7" cy="178.1" r="1.2"/>
<circle cx="479.9" cy="197.5" r="1.2"/>
<circle cx="444.2" cy="166.3" r="1.2"/>
<circle cx="438.3" cy="231.8" r="1.2"/>
<circle cx="468.9" cy="192.4" r="1.2"/>
<circle cx="475.4" cy="170.8" r="1.2"/>
<circle cx="467.4" cy="186.4" r="1.2"/>
<circle cx="451.1" cy="177.1" r="1.2"/>
<circle cx="414.3" cy="160.2" r="1.2"/>
<circle cx="413.1" cy="157.3" r="1.2"/>
<circle cx="420.9" cy="175.8" r="1.2"/>
<circle cx="416.1" cy="161.0" r="1.2"/>
<circle cx="415.2" cy="169.4" r="1.2"/>
<circle cx="414.3" cy="170.0" r="1.2"/>
<circle cx="413.2" cy="152.1" r="1.2"/>
<circle cx="418.1" cy="164.9" r="1.2"/>
<circle cx="427.5" cy="172.7" r="1.2"/>
<circle cx="405.6" cy="167.8" r="1.2"/>
<circle cx="416.6" cy="163.9" r="1.2"/>
<circle cx="416.8" cy="176.7" r="1.2"/>
<circle cx="416.0" cy="164.7" r="1.2"/>
<circle cx="417.8" cy="174.7" r="1.2"/>
<circle cx="421.8" cy="172.2" r="1.2"/>
<circle cx="422.0" cy="166.6" r="1.2"/>
<circle cx="424.2" cy="173.1" r="1.2"/>
<circle cx="423.8" cy="166.9" r="1.2"/>
<circle cx="406.4" cy="170.4" r="1.2"/>
<circle cx="406.4" cy="170.7" r="1.2"/>
<circle cx="430.0" cy="174.5" r="1.2"/>
<circle cx="411.9" cy="157.9" r="1.2"/>
<circle cx="412.8" cy="157.7" r="1.2"/>
<circle cx="417.8" cy="162.6" r="1.2"/>
<circle cx="426.7" cy="174.1" r="1.2"/>
<circle cx="418.4" cy="161.2" r="1.2"/>
<circle cx="416.6" cy="164.7" r="1.2"/>
<circle cx="418.3" cy="162.3" r="1.2"/>
<circle cx="472.6" cy="132.9" r="1.2"/>
<circle cx="454.2" cy="151.8" r="1.2"/>
<circle cx="455.4" cy="148.4" r="1.2"/>
<circle cx="487.6" cy="143.7" r="1.2"/>
<circle cx="465.0" cy="155.1" r="1.2"/>
<circle cx="477.3" cy="122.0" r="1.2"/>
<circle cx="491.3" cy="122.9" r="1.2"/>
<circle cx="474.6" cy="127.2" r="1.2"/>
<circle cx="495.1" cy="142.4" r="1.2"/>
<circle cx="487.4" cy="139.9" r="1.2"/>
<circle cx="455.6" cy="128.4" r="1.2"/>
<circle cx="489.8" cy="125.8" r="1.2"/>
<circle cx="494.8" cy="128.3" r="1.2"/>
<circle cx="486.4" cy="158.0" r="1.2"/>
<circle cx="463.1" cy="146.4" r="1.2"/>
<circle cx="480.2" cy="126.2" r="1.2"/>
<circle cx="440.6" cy="147.8" r="1.2"/>
<circle cx="455.5" cy="129.3" r="1.2"/>
<circle cx="473.7" cy="132.7" r="1.2"/>
<circle cx="472.3" cy="126.2" r="1.2"/>
<circle cx="494.4" cy="133.0" r="1.2"/>
<circle cx="490.0" cy="126.1" r="1.2"/>
<circle cx="487.4" cy="159.2" r="1.2"/>
<circle cx="461.7" cy="121.3" r="1.2"/>
<circle cx="460.9" cy="145.6" r="1.2"/>
<circle cx="451.1" cy="141.8" r="1.2"/>
<circle cx="442.9" cy="138.6" r="1.2"/>
<circle cx="479.8" cy="124.6" r="1.2"/>
<circle cx="489.2" cy="124.9" r="1.2"/>
<circle cx="495.2" cy="159.8" r="1.2"/>
<circle cx="496.2" cy="141.1" r="1.2"/>
<circle cx="455.3" cy="133.9" r="1.2"/>
<circle cx="484.3" cy="139.9" r="1.2"/>
<circle cx="554.4" cy="163.7" r="1.2"/>
<circle cx="527.8" cy="181.6" r="1.2"/>
<circle cx="487.1" cy="165.6" r="1.2"/>
<circle cx="547.6" cy="169.1" r="1.2"/>
<circle cx="554.0" cy="161.3" r="1.2"/>
<circle cx="527.9" cy="198.7" r="1.2"/>
<circle cx="532.5" cy="162.0" r="1.2"/>
<circle cx="506.7" cy="178.0" r="1.2"/>
<circle cx="499.8" cy="189.7" r="1.2"/>
<circle cx="494.3" cy="191.5" r="1.2"/>
<circle cx="503.9" cy="162.8" r="1.2"/>
<circle cx="524.7" cy="163.8" r="1.2"/>
<circle cx="524.1" cy="191.5" r="1.2"/>
<circle cx="527.6" cy="178.5" r="1.2"/>
<circle cx="482.7" cy="180.5" r="1.2"/>
<circle cx="487.8" cy="185.9" r="1.2"/>
<circle cx="490.6" cy="183.1" r="1.2"/>
<circle cx="508.2" cy="175.0" r="1.2"/>
<circle cx="533.1" cy="166.6" r="1.2"/>
<circle cx="493.6" cy="197.7" r="1.2"/>
<circle cx="549.9" cy="179.2" r="1.2"/>
<circle cx="491.9" cy="163.8" r="1.2"/>
<circle cx="550.3" cy="164.7" r="1.2"/>
<circle cx="519.7" cy="181.4" r="1.2"/>
<circle cx="489.4" cy="178.7" r="1.2"/>
<circle cx="493.1" cy="181.4" r="1.2"/>
<circle cx="520.5" cy="174.7" r="1.2"/>
<circle cx="495.8" cy="176.1" r="1.2"/>
<circle cx="496.3" cy="165.1" r="1.2"/>
<circle cx="499.2" cy="194.9" r="1.2"/>
<circle cx="520.1" cy="195.6" r="1.2"/>
<circle cx="481.2" cy="197.7" r="1.2"/>
<circle cx="525.6" cy="187.6" r="1.2"/>
<circle cx="498.3" cy="190.0" r="1.2"/>
<circle cx="492.3" cy="170.6" r="1.2"/>
<circle cx="482.5" cy="175.7" r="1.2"/>
<circle cx="521.4" cy="171.7" r="1.2"/>
<circle cx="551.2" cy="163.4" r="1.2"/>
<circle cx="526.3" cy="169.4" r="1.2"/>
<circle cx="527.6" cy="191.4" r="1.2"/>
<circle cx="536.9" cy="162.5" r="1.2"/>
<circle cx="499.7" cy="184.0" r="1.2"/>
<circle cx="558.6" cy="161.6" r="1.2"/>
<circle cx="529.5" cy="187.7" r="1.2"/>
<circle cx="545.2" cy="173.7" r="1.2"/>
<circle cx="544.8" cy="178.5" r="1.2"/>
<circle cx="553.7" cy="160.4" r="1.2"/>
<circle cx="555.2" cy="176.5" r="1.2"/>
<circle cx="512.6" cy="163.5" r="1.2"/>
<circle cx="499.6" cy="189.4" r="1.2"/>
<circle cx="534.3" cy="166.0" r="1.2"/>
<circle cx="507.5" cy="165.6" r="1.2"/>
<circle cx="495.9" cy="168.8" r="1.2"/>
<circle cx="518.4" cy="179.9" r="1.2"/>
<circle cx="542.3" cy="196.3" r="1.2"/>
<circle cx="540.1" cy="185.5" r="1.2"/>
<circle cx="495.9" cy="185.0" r="1.2"/>
<circle cx="547.7" cy="191.5" r="1.2"/>
<circle cx="487.4" cy="188.7" r="1.2"/>
<circle cx="507.9" cy="166.5" r="1.2"/>
<circle cx="557.3" cy="186.9" r="1.2"/>
<circle cx="539.6" cy="165.4" r="1.2"/>
<circle cx="546.3" cy="197.5" r="1.2"/>
<circle cx="552.4" cy="189.8" r="1.2"/>
<circle cx="546.6" cy="192.1" r="1.2"/>
<circle cx="527.2" cy="177.4" r="1.2"/>
<circle cx="546.0" cy="191.4" r="1.2"/>
<circle cx="549.7" cy="172.0" r="1.2"/>
<circle cx="556.9" cy="181.3" r="1.2"/>
<circle cx="555.7" cy="164.6" r="1.2"/>
<circle cx="500.2" cy="193.5" r="1.2"/>
<circle cx="498.6" cy="167.9" r="1.2"/>
<circle cx="516.6" cy="169.5" r="1.2"/>
<circle cx="534.8" cy="188.4" r="1.2"/>
<circle cx="511.4" cy="191.4" r="1.2"/>
<circle cx="543.5" cy="187.3" r="1.2"/>
<circle cx="512.5" cy="163.5" r="1.2"/>
<circle cx="532.2" cy="193.5" r="1.2"/>
<circle cx="507.2" cy="183.8" r="1.2"/>
<circle cx="546.9" cy="191.7" r="1.2"/>
<circle cx="480.4" cy="179.6" r="1.2"/>
<circle cx="481.3" cy="164.4" r="1.2"/>
<circle cx="545.0" cy="176.7" r="1.2"/>
<circle cx="528.4" cy="178.3" r="1.2"/>
<circle cx="506.8" cy="168.5" r="1.2"/>
<circle cx="561.9" cy="144.0" r="1.2"/>
<circle cx="508.8" cy="142.6" r="1.2"/>
<circle cx="570.1" cy="153.7" r="1.2"/>
<circle cx="566.1" cy="177.5" r="1.2"/>
<circle cx="512.1" cy="169.4" r="1.2"/>
<circle cx="504.2" cy="178.5" r="1.2"/>
<circle cx="518.4" cy="142.6" r="1.2"/>
<circle cx="595.8" cy="148.6" r="1.2"/>
<circle cx="522.4" cy="182.8" r="1.2"/>
<circle cx="561.0" cy="183.1" r="1.2"/>
<circle cx="539.4" cy="157.5" r="1.2"/>
<circle cx="595.6" cy="157.9" r="1.2"/>
<circle cx="598.9" cy="137.3" r="1.2"/>
<circle cx="583.1" cy="135.5" r="1.2"/>
<circle cx="552.7" cy="125.0" r="1.2"/>
<circle cx="517.5" cy="186.4" r="1.2"/>
<circle cx="545.5" cy="177.6" r="1.2"/>
<circle cx="525.1" cy="147.9" r="1.2"/>
<circle cx="510.1" cy="160.9" r="1.2"/>
<circle cx="586.2" cy="158.4" r="1.2"/>
<circle cx="537.7" cy="185.4" r="1.2"/>
<circle cx="589.4" cy="168.3" r="1.2"/>
<circle cx="507.6" cy="165.6" r="1.2"/>
<circle cx="544.4" cy="187.3" r="1.2"/>
<circle cx="536.2" cy="168.0" r="1.2"/>
<circle cx="563.2" cy="149.4" r="1.2"/>
<circle cx="552.2" cy="169.0" r="1.2"/>
<circle cx="590.7" cy="157.4" r="1.2"/>
<circle cx="536.4" cy="188.5" r="1.2"/>
<circle cx="505.7" cy="179.3" r="1.2"/>
<circle cx="568.4" cy="161.2" r="1.2"/>
<circle cx="544.8" cy="173.8" r="1.2"/>
<circle cx="589.1" cy="172.4" r="1.2"/>
<circle cx="575.0" cy="127.3" r="1.2"/>
<circle cx="532.5" cy="133.9" r="1.2"/>
<circle cx="595.3" cy="182.9" r="1.2"/>
<circle cx="514.5" cy="163.2" r="1.2"/>
<circle cx="557.7" cy="128.0" r="1.2"/>
<circle cx="539.2" cy="173.6" r="1.2"/>
<circle cx="564.1" cy="143.3" r="1.2"/>
<circle cx="576.2" cy="143.9" r="1.2"/>
<circle cx="554.4" cy="152.3" r="1.2"/>
<circle cx="597.8" cy="167.2" r="1.2"/>
<circle cx="580.5" cy="169.0" r="1.2"/>
<circle cx="538.0" cy="187.6" r="1.2"/>
<circle cx="571.0" cy="169.9" r="1.2"/>
<circle cx="527.7" cy="135.5" r="1.2"/>
<circle cx="557.5" cy="178.7" r="1.2"/>
<circle cx="579.4" cy="147.6" r="1.2"/>
<circle cx="514.0" cy="158.5" r="1.2"/>
<circle cx="587.7" cy="135.5" r="1.2"/>
<circle cx="573.8" cy="136.1" r="1.2"/>
<circle cx="531.2" cy="128.5" r="1.2"/>
<circle cx="529.8" cy="149.9" r="1.2"/>
<circle cx="596.7" cy="187.5" r="1.2"/>
<circle cx="518.7" cy="145.1" r="1.2"/>
<circle cx="594.4" cy="137.8" r="1.2"/>
<circle cx="532.1" cy="153.5" r="1.2"/>
<circle cx="627.1" cy="133.4" r="1.2"/>
<circle cx="698.5" cy="144.7" r="1.2"/>
<circle cx="840.9" cy="134.0" r="1.2"/>
<circle cx="651.0" cy="191.8" r="1.2"/>
<circle cx="712.6" cy="185.3" r="1.2"/>
<circle cx="759.3" cy="180.1" r="1.2"/>
<circle cx="678.7" cy="123.7" r="1.2"/>
<circle cx="739.7" cy="170.4" r="1.2"/>
<circle cx="788.2" cy="134.8" r="1.2"/>
<circle cx="690.7" cy="192.6" r="1.2"/>
<circle cx="732.3" cy="136.0" r="1.2"/>
<circle cx="757.5" cy="133.4" r="1.2"/>
<circle cx="576.0" cy="202.7" r="1.2"/>
<circle cx="581.8" cy="236.8" r="1.2"/>
<circle cx="532.1" cy="261.1" r="1.2"/>
<circle cx="522.9" cy="215.8" r="1.2"/>
<circle cx="574.1" cy="244.1" r="1.2"/>
<circle cx="538.3" cy="252.5" r="1.2"/>
<circle cx="506.7" cy="220.0" r="1.2"/>
<circle cx="562.7" cy="262.9" r="1.2"/>
<circle cx="561.6" cy="245.0" r="1.2"/>
<circle cx="576.3" cy="225.6" r="1.2"/>
<circle cx="593.7" cy="248.3" r="1.2"/>
<circle cx="530.9" cy="225.5" r="1.2"/>
<circle cx="579.6" cy="222.7" r="1.2"/>
<circle cx="514.5" cy="256.7" r="1.2"/>
<circle cx="550.8" cy="233.9" r="1.2"/>
<circle cx="565.3" cy="258.6" r="1.2"/>
<circle cx="509.0" cy="222.0" r="1.2"/>
<circle cx="547.7" cy="255.4" r="1.2"/>
<circle cx="565.1" cy="237.6" r="1.2"/>
<circle cx="537.4" cy="237.3" r="1.2"/>
<circle cx="577.8" cy="254.5" r="1.2"/>
<circle cx="574.2" cy="232.5" r="1.2"/>
<circle cx="589.3" cy="258.4" r="1.2"/>
<circle cx="573.0" cy="253.4" r="1.2"/>
<circle cx="563.1" cy="257.1" r="1.2"/>
<circle cx="508.8" cy="245.8" r="1.2"/>
<circle cx="568.9" cy="239.8" r="1.2"/>
<circle cx="558.4" cy="253.6" r="1.2"/>
<circle cx="523.7" cy="213.9" r="1.2"/>
<circle cx="566.0" cy="263.4" r="1.2"/>
<circle cx="579.2" cy="223.4" r="1.2"/>
<circle cx="568.4" cy="204.7" r="1.2"/>
<circle cx="583.1" cy="221.1" r="1.2"/>
<circle cx="509.6" cy="217.9" r="1.2"/>
<circle cx="553.3" cy="252.5" r="1.2"/>
<circle cx="499.2" cy="253.8" r="1.2"/>
<circle cx="506.6" cy="214.6" r="1.2"/>
<circle cx="529.8" cy="236.9" r="1.2"/>
<circle cx="517.9" cy="251.6" r="1.2"/>
<circle cx="516.9" cy="254.6" r="1.2"/>
<circle cx="579.9" cy="234.9" r="1.2"/>
<circle cx="498.2" cy="250.6" r="1.2"/>
<circle cx="539.5" cy="204.1" r="1.2"/>
<circle cx="561.2" cy="247.1" r="1.2"/>
<circle cx="556.4" cy="226.0" r="1.2"/>
<circle cx="548.8" cy="238.3" r="1.2"/>
<circle cx="518.8" cy="256.4" r="1.2"/>
<circle cx="599.5" cy="252.3" r="1.2"/>
<circle cx="595.9" cy="221.4" r="1.2"/>
<circle cx="598.6" cy="204.6" r="1.2"/>
<circle cx="545.2" cy="208.7" r="1.2"/>
<circle cx="542.7" cy="244.4" r="1.2"/>
<circle cx="569.4" cy="229.6" r="1.2"/>
<circle cx="530.9" cy="212.3" r="1.2"/>
<circle cx="537.3" cy="218.4" r="1.2"/>
<circle cx="515.4" cy="247.8" r="1.2"/>
<circle cx="549.2" cy="228.5" r="1.2"/>
<circle cx="515.7" cy="217.3" r="1.2"/>
<circle cx="553.8" cy="245.6" r="1.2"/>
<circle cx="597.2" cy="248.6" r="1.2"/>
<circle cx="594.6" cy="259.8" r="1.2"/>
<circle cx="570.9" cy="246.8" r="1.2"/>
<circle cx="501.6" cy="213.4" r="1.2"/>
<circle cx="496.4" cy="256.1" r="1.2"/>
<circle cx="570.8" cy="241.0" r="1.2"/>
<circle cx="522.7" cy="223.1" r="1.2"/>
<circle cx="599.1" cy="219.9" r="1.2"/>
<circle cx="499.6" cy="211.4" r="1.2"/>
<circle cx="532.3" cy="258.4" r="1.2"/>
<circle cx="579.5" cy="229.6" r="1.2"/>
<circle cx="511.2" cy="250.5" r="1.2"/>
<circle cx="544.5" cy="264.4" r="1.2"/>
<circle cx="590.7" cy="251.7" r="1.2"/>
<circle cx="545.0" cy="253.4" r="1.2"/>
<circle cx="554.2" cy="233.0" r="1.2"/>
<circle cx="517.0" cy="216.4" r="1.2"/>
<circle cx="497.2" cy="259.1" r="1.2"/>
<circle cx="598.0" cy="228.4" r="1.2"/>
<circle cx="571.9" cy="225.0" r="1.2"/>
<circle cx="580.2" cy="254.7" r="1.2"/>
<circle cx="534.8" cy="200.6" r="1.2"/>
<circle cx="582.2" cy="251.1" r="1.2"/>
<circle cx="543.7" cy="202.8" r="1.2"/>
<circle cx="588.3" cy="234.7" r="1.2"/>
<circle cx="502.5" cy="221.0" r="1.2"/>
<circle cx="560.6" cy="257.5" r="1.2"/>
<circle cx="545.9" cy="241.6" r="1.2"/>
<circle cx="516.6" cy="215.8" r="1.2"/>
<circle cx="590.1" cy="224.9" r="1.2"/>
<circle cx="508.3" cy="213.0" r="1.2"/>
<circle cx="542.9" cy="238.1" r="1.2"/>
<circle cx="561.8" cy="246.0" r="1.2"/>
<circle cx="541.2" cy="204.4" r="1.2"/>
<circle cx="571.1" cy="203.5" r="1.2"/>
<circle cx="544.4" cy="226.0" r="1.2"/>
<circle cx="565.7" cy="246.4" r="1.2"/>
<circle cx="567.7" cy="230.7" r="1.2"/>
<circle cx="509.9" cy="259.1" r="1.2"/>
<circle cx="520.1" cy="264.1" r="1.2"/>
<circle cx="577.7" cy="253.5" r="1.2"/>
<circle cx="561.6" cy="248.2" r="1.2"/>
<circle cx="597.5" cy="252.2" r="1.2"/>
<circle cx="520.2" cy="260.5" r="1.2"/>
<circle cx="592.7" cy="241.5" r="1.2"/>
<circle cx="591.5" cy="217.1" r="1.2"/>
<circle cx="574.5" cy="206.7" r="1.2"/>
<circle cx="597.2" cy="246.1" r="1.2"/>
<circle cx="514.6" cy="252.5" r="1.2"/>
<circle cx="506.1" cy="251.2" r="1.2"/>
<circle cx="588.4" cy="259.6" r="1.2"/>
<circle cx="495.2" cy="255.3" r="1.2"/>
<circle cx="553.4" cy="253.4" r="1.2"/>
<circle cx="547.8" cy="240.3" r="1.2"/>
<circle cx="557.4" cy="252.0" r="1.2"/>
<circle cx="552.3" cy="218.9" r="1.2"/>
<circle cx="536.7" cy="200.5" r="1.2"/>
<circle cx="573.2" cy="201.6" r="1.2"/>
<circle cx="582.1" cy="252.8" r="1.2"/>
<circle cx="543.1" cy="207.9" r="1.2"/>
<circle cx="540.1" cy="207.2" r="1.2"/>
<circle cx="597.5" cy="235.5" r="1.2"/>
<circle cx="571.7" cy="255.2" r="1.2"/>
<circle cx="584.1" cy="206.6" r="1.2"/>
<circle cx="533.6" cy="219.7" r="1.2"/>
<circle cx="575.1" cy="209.6" r="1.2"/>
<circle cx="558.7" cy="263.6" r="1.2"/>
<circle cx="575.7" cy="200.5" r="1.2"/>
<circle cx="567.7" cy="238.9" r="1.2"/>
<circle cx="549.6" cy="229.6" r="1.2"/>
<circle cx="537.8" cy="239.7" r="1.2"/>
<circle cx="563.1" cy="259.6" r="1.2"/>
<circle cx="571.9" cy="251.8" r="1.2"/>
<circle cx="590.9" cy="254.4" r="1.2"/>
<circle cx="484.6" cy="225.8" r="1.2"/>
<circle cx="480.1" cy="246.2" r="1.2"/>
<circle cx="448.8" cy="247.0" r="1.2"/>
<circle cx="417.5" cy="248.6" r="1.2"/>
<circle cx="450.2" cy="242.7" r="1.2"/>
<circle cx="426.6" cy="232.5" r="1.2"/>
<circle cx="438.6" cy="233.1" r="1.2"/>
<circle cx="406.8" cy="236.1" r="1.2"/>
<circle cx="499.6" cy="249.9" r="1.2"/>
<circle cx="426.2" cy="235.3" r="1.2"/>
<circle cx="505.8" cy="248.0" r="1.2"/>
<circle cx="436.1" cy="244.3" r="1.2"/>
<circle cx="491.9" cy="247.2" r="1.2"/>
<circle cx="408.1" cy="245.6" r="1.2"/>
<circle cx="434.2" cy="240.7" r="1.2"/>
<circle cx="440.9" cy="238.4" r="1.2"/>
<circle cx="461.4" cy="241.2" r="1.2"/>
<circle cx="462.3" cy="248.4" r="1.2"/>
<circle cx="445.9" cy="247.8" r="1.2"/>
<circle cx="481.2" cy="249.2" r="1.2"/>
<circle cx="430.9" cy="247.7" r="1.2"/>
<circle cx="484.5" cy="249.7" r="1.2"/>
<circle cx="417.0" cy="235.9" r="1.2"/>
<circle cx="480.9" cy="242.3" r="1.2"/>
<circle cx="488.3" cy="243.8" r="1.2"/>
<circle cx="426.1" cy="231.4" r="1.2"/>
<circle cx="398.5" cy="242.3" r="1.2"/>
<circle cx="421.2" cy="231.5" r="1.2"/>
<circle cx="433.0" cy="226.6" r="1.2"/>
<circle cx="440.2" cy="228.6" r="1.2"/>
<circle cx="409.1" cy="237.3" r="1.2"/>
<circle cx="429.2" cy="244.2" r="1.2"/>
<circle cx="417.2" cy="227.5" r="1.2"/>
<circle cx="432.9" cy="235.2" r="1.2"/>
<circle cx="486.0" cy="227.4" r="1.2"/>
<circle cx="501.9" cy="245.1" r="1.2"/>
<circle cx="413.0" cy="227.4" r="1.2"/>
<circle cx="422.9" cy="226.6" r="1.2"/>
<circle cx="396.9" cy="246.3" r="1.2"/>
<circle cx="411.3" cy="249.1" r="1.2"/>
<circle cx="440.5" cy="243.1" r="1.2"/>
<circle cx="412.3" cy="244.7" r="1.2"/>
<circle cx="426.5" cy="234.2" r="1.2"/>
<circle cx="426.0" cy="244.9" r="1.2"/>
<circle cx="430.7" cy="234.5" r="1.2"/>
<circle cx="419.2" cy="230.5" r="1.2"/>
<circle cx="443.0" cy="234.1" r="1.2"/>
<circle cx="478.0" cy="245.9" r="1.2"/>
<circle cx="424.4" cy="225.7" r="1.2"/>
<circle cx="449.8" cy="227.9" r="1.2"/>
<circle cx="457.4" cy="282.0" r="1.2"/>
<circle cx="387.8" cy="255.3" r="1.2"/>
<circle cx="461.1" cy="257.8" r="1.2"/>
<circle cx="413.8" cy="269.8" r="1.2"/>
<circle cx="392.5" cy="253.1" r="1.2"/>
<circle cx="438.6" cy="271.1" r="1.2"/>
<circle cx="548.0" cy="275.0" r="1.2"/>
<circle cx="383.6" cy="260.0" r="1.2"/>
<circle cx="511.4" cy="275.3" r="1.2"/>
<circle cx="535.3" cy="293.3" r="1.2"/>
<circle cx="533.0" cy="255.0" r="1.2"/>
<circle cx="549.3" cy="273.6" r="1.2"/>
<circle cx="396.4" cy="302.7" r="1.2"/>
<circle cx="465.1" cy="304.6" r="1.2"/>
<circle cx="379.1" cy="306.9" r="1.2"/>
<circle cx="471.7" cy="315.7" r="1.2"/>
<circle cx="450.4" cy="298.3" r="1.2"/>
<circle cx="419.8" cy="309.3" r="1.2"/>
<circle cx="392.6" cy="324.8" r="1.2"/>
<circle cx="409.7" cy="300.4" r="1.2"/>
<circle cx="478.3" cy="316.7" r="1.2"/>
<circle cx="389.8" cy="295.5" r="1.2"/>
<circle cx="441.8" cy="318.2" r="1.2"/>
<circle cx="451.5" cy="319.2" r="1.2"/>
<circle cx="395.7" cy="317.5" r="1.2"/>
<circle cx="436.5" cy="324.3" r="1.2"/>
<circle cx="474.0" cy="328.3" r="1.2"/>
<circle cx="464.3" cy="311.5" r="1.2"/>
<circle cx="469.3" cy="303.2" r="1.2"/>
<circle cx="395.0" cy="321.9" r="1.2"/>
<circle cx="469.2" cy="298.7" r="1.2"/>
<circle cx="393.9" cy="296.6" r="1.2"/>
<circle cx="418.3" cy="301.3" r="1.2"/>
<circle cx="391.1" cy="328.7" r="1.2"/>
<circle cx="414.2" cy="325.6" r="1.2"/>
<circle cx="395.6" cy="316.5" r="1.2"/>
<circle cx="438.3" cy="304.7" r="1.2"/>
<circle cx="461.7" cy="304.1" r="1.2"/>
<circle cx="480.0" cy="315.5" r="1.2"/>
<circle cx="405.4" cy="313.3" r="1.2"/>
<circle cx="407.7" cy="325.1" r="1.2"/>
<circle cx="372.5" cy="311.8" r="1.2"/>
<circle cx="398.4" cy="315.4" r="1.2"/>
<circle cx="431.8" cy="327.0" r="1.2"/>
<circle cx="385.1" cy="305.8" r="1.2"/>
<circle cx="386.4" cy="301.2" r="1.2"/>
<circle cx="427.4" cy="321.2" r="1.2"/>
<circle cx="467.5" cy="297.6" r="1.2"/>
<circle cx="395.8" cy="302.5" r="1.2"/>
<circle cx="434.4" cy="315.4" r="1.2"/>
<circle cx="442.8" cy="333.7" r="1.2"/>
<circle cx="475.3" cy="307.1" r="1.2"/>
<circle cx="473.6" cy="313.3" r="1.2"/>
<circle cx="381.5" cy="295.8" r="1.2"/>
<circle cx="401.9" cy="308.0" r="1.2"/>
<circle cx="476.4" cy="334.2" r="1.2"/>
<circle cx="416.2" cy="318.8" r="1.2"/>
<circle cx="463.4" cy="331.3" r="1.2"/>
<circle cx="441.9" cy="318.1" r="1.2"/>
<circle cx="382.8" cy="306.0" r="1.2"/>
<circle cx="442.4" cy="321.4" r="1.2"/>
<circle cx="458.1" cy="335.4" r="1.2"/>
<circle cx="475.9" cy="303.7" r="1.2"/>
<circle cx="432.7" cy="303.2" r="1.2"/>
<circle cx="446.1" cy="306.5" r="1.2"/>
<circle cx="396.0" cy="311.5" r="1.2"/>
<circle cx="427.6" cy="325.5" r="1.2"/>
<circle cx="438.7" cy="316.2" r="1.2"/>
<circle cx="443.9" cy="331.0" r="1.2"/>
<circle cx="444.6" cy="326.9" r="1.2"/>
<circle cx="441.2" cy="303.1" r="1.2"/>
<circle cx="475.4" cy="330.4" r="1.2"/>
<circle cx="395.6" cy="314.4" r="1.2"/>
<circle cx="475.4" cy="304.3" r="1.2"/>
<circle cx="469.0" cy="305.5" r="1.2"/>
<circle cx="450.9" cy="311.2" r="1.2"/>
<circle cx="443.0" cy="329.5" r="1.2"/>
<circle cx="384.0" cy="305.0" r="1.2"/>
<circle cx="393.6" cy="307.0" r="1.2"/>
<circle cx="373.9" cy="301.1" r="1.2"/>
<circle cx="414.7" cy="313.9" r="1.2"/>
<circle cx="473.7" cy="321.0" r="1.2"/>
<circle cx="409.1" cy="326.7" r="1.2"/>
<circle cx="418.1" cy="302.9" r="1.2"/>
<circle cx="423.0" cy="295.8" r="1.2"/>
<circle cx="444.4" cy="302.2" r="1.2"/>
<circle cx="454.3" cy="332.6" r="1.2"/>
<circle cx="440.6" cy="323.6" r="1.2"/>
<circle cx="447.5" cy="338.5" r="1.2"/>
<circle cx="391.6" cy="329.5" r="1.2"/>
<circle cx="403.1" cy="306.5" r="1.2"/>
<circle cx="460.4" cy="322.1" r="1.2"/>
<circle cx="463.5" cy="334.4" r="1.2"/>
<circle cx="434.8" cy="303.9" r="1.2"/>
<circle cx="449.8" cy="307.3" r="1.2"/>
<circle cx="377.7" cy="295.2" r="1.2"/>
<circle cx="389.1" cy="326.3" r="1.2"/>
<circle cx="370.4" cy="305.3" r="1.2"/>
<circle cx="399.2" cy="327.0" r="1.2"/>
<circle cx="478.6" cy="295.9" r="1.2"/>
<circle cx="557.6" cy="300.4" r="1.2"/>
<circle cx="506.8" cy="326.6" r="1.2"/>
<circle cx="505.6" cy="319.2" r="1.2"/>
<circle cx="518.3" cy="308.1" r="1.2"/>
<circle cx="484.4" cy="295.9" r="1.2"/>
<circle cx="493.0" cy="296.4" r="1.2"/>
<circle cx="529.9" cy="338.8" r="1.2"/>
<circle cx="501.0" cy="345.4" r="1.2"/>
<circle cx="538.3" cy="313.9" r="1.2"/>
<circle cx="519.3" cy="303.2" r="1.2"/>
<circle cx="554.3" cy="329.2" r="1.2"/>
<circle cx="484.1" cy="300.8" r="1.2"/>
<circle cx="535.4" cy="317.0" r="1.2"/>
<circle cx="537.4" cy="306.1" r="1.2"/>
<circle cx="543.8" cy="346.1" r="1.2"/>
<circle cx="487.5" cy="331.0" r="1.2"/>
<circle cx="495.3" cy="339.5" r="1.2"/>
<circle cx="544.3" cy="345.4" r="1.2"/>
<circle cx="498.5" cy="296.5" r="1.2"/>
<circle cx="533.1" cy="329.6" r="1.2"/>
<circle cx="491.1" cy="303.5" r="1.2"/>
<circle cx="526.6" cy="297.6" r="1.2"/>
<circle cx="530.7" cy="306.9" r="1.2"/>
<circle cx="500.7" cy="319.6" r="1.2"/>
<circle cx="522.7" cy="340.7" r="1.2"/>
<circle cx="482.5" cy="340.7" r="1.2"/>
<circle cx="497.7" cy="310.4" r="1.2"/>
<circle cx="531.2" cy="338.4" r="1.2"/>
<circle cx="529.2" cy="353.1" r="1.2"/>
<circle cx="496.4" cy="311.8" r="1.2"/>
<circle cx="533.0" cy="308.3" r="1.2"/>
<circle cx="492.6" cy="305.8" r="1.2"/>
<circle cx="541.7" cy="347.9" r="1.2"/>
<circle cx="537.3" cy="357.1" r="1.2"/>
<circle cx="543.5" cy="311.7" r="1.2"/>
<circle cx="505.2" cy="340.5" r="1.2"/>
<circle cx="484.5" cy="332.6" r="1.2"/>
<circle cx="487.1" cy="293.4" r="1.2"/>
<circle cx="521.1" cy="300.6" r="1.2"/>
<circle cx="516.9" cy="303.8" r="1.2"/>
<circle cx="489.6" cy="325.5" r="1.2"/>
<circle cx="521.7" cy="315.4" r="1.2"/>
<circle cx="537.3" cy="327.0" r="1.2"/>
<circle cx="542.0" cy="297.4" r="1.2"/>
<circle cx="485.6" cy="317.1" r="1.2"/>
<circle cx="518.7" cy="307.7" r="1.2"/>
<circle cx="533.5" cy="305.5" r="1.2"/>
<circle cx="505.5" cy="323.4" r="1.2"/>
<circle cx="537.0" cy="343.9" r="1.2"/>
<circle cx="509.7" cy="321.3" r="1.2"/>
<circle cx="529.5" cy="297.3" r="1.2"/>
<circle cx="516.5" cy="334.6" r="1.2"/>
<circle cx="502.3" cy="292.6" r="1.2"/>
<circle cx="490.3" cy="322.6" r="1.2"/>
<circle cx="529.5" cy="311.0" r="1.2"/>
<circle cx="485.5" cy="342.5" r="1.2"/>
<circle cx="541.7" cy="320.6" r="1.2"/>
<circle cx="486.9" cy="317.6" r="1.2"/>
<circle cx="487.5" cy="357.4" r="1.2"/>
<circle cx="484.1" cy="310.2" r="1.2"/>
<circle cx="541.4" cy="299.5" r="1.2"/>
<circle cx="488.5" cy="294.9" r="1.2"/>
<circle cx="493.1" cy="327.2" r="1.2"/>
<circle cx="546.6" cy="301.8" r="1.2"/>
<circle cx="484.7" cy="367.0" r="1.2"/>
<circle cx="452.9" cy="359.4" r="1.2"/>
<circle cx="542.0" cy="349.4" r="1.2"/>
<circle cx="467.3" cy="399.3" r="1.2"/>
<circle cx="489.6" cy="416.5" r="1.2"/>
<circle cx="503.4" cy="363.1" r="1.2"/>
<circle cx="488.8" cy="397.3" r="1.2"/>
<circle cx="517.1" cy="350.4" r="1.2"/>
<circle cx="460.3" cy="416.7" r="1.2"/>
<circle cx="475.6" cy="359.8" r="1.2"/>
<circle cx="466.8" cy="377.5" r="1.2"/>
<circle cx="529.7" cy="365.7" r="1.2"/>
<circle cx="475.9" cy="355.0" r="1.2"/>
<circle cx="483.9" cy="405.7" r="1.2"/>
<circle cx="530.6" cy="386.0" r="1.2"/>
<circle cx="503.7" cy="412.0" r="1.2"/>
<circle cx="529.1" cy="405.5" r="1.2"/>
<circle cx="467.9" cy="369.3" r="1.2"/>
<circle cx="479.3" cy="368.2" r="1.2"/>
<circle cx="479.7" cy="348.8" r="1.2"/>
<circle cx="463.9" cy="412.8" r="1.2"/>
<circle cx="483.1" cy="390.9" r="1.2"/>
<circle cx="533.2" cy="400.4" r="1.2"/>
<circle cx="465.7" cy="413.6" r="1.2"/>
<circle cx="524.4" cy="419.3" r="1.2"/>
<circle cx="516.4" cy="400.4" r="1.2"/>
<circle cx="525.4" cy="360.3" r="1.2"/>
<circle cx="508.9" cy="370.5" r="1.2"/>
<circle cx="528.2" cy="350.7" r="1.2"/>
<circle cx="496.6" cy="366.9" r="1.2"/>
<circle cx="526.2" cy="367.6" r="1.2"/>
<circle cx="528.6" cy="407.8" r="1.2"/>
<circle cx="532.3" cy="351.1" r="1.2"/>
<circle cx="538.5" cy="399.5" r="1.2"/>
<circle cx="511.1" cy="392.2" r="1.2"/>
<circle cx="497.5" cy="376.5" r="1.2"/>
<circle cx="475.6" cy="402.6" r="1.2"/>
<circle cx="522.1" cy="409.6" r="1.2"/>
<circle cx="462.5" cy="367.2" r="1.2"/>
<circle cx="466.2" cy="348.0" r="1.2"/>
<circle cx="474.3" cy="342.1" r="1.2"/>
<circle cx="523.6" cy="358.2" r="1.2"/>
<circle cx="488.5" cy="372.1" r="1.2"/>
<circle cx="524.3" cy="416.3" r="1.2"/>
<circle cx="472.5" cy="390.6" r="1.2"/>
<circle cx="533.9" cy="377.6" r="1.2"/>
<circle cx="534.5" cy="398.7" r="1.2"/>
<circle cx="472.7" cy="409.9" r="1.2"/>
<circle cx="500.2" cy="348.5" r="1.2"/>
<circle cx="501.7" cy="406.3" r="1.2"/>
<circle cx="494.4" cy="378.7" r="1.2"/>
<circle cx="483.7" cy="410.4" r="1.2"/>
<circle cx="509.9" cy="356.6" r="1.2"/>
<circle cx="478.0" cy="369.1" r="1.2"/>
<circle cx="485.4" cy="397.4" r="1.2"/>
<circle cx="485.1" cy="347.4" r="1.2"/>
<circle cx="495.0" cy="405.6" r="1.2"/>
<circle cx="522.8" cy="368.5" r="1.2"/>
<circle cx="463.3" cy="399.6" r="1.2"/>
<circle cx="524.2" cy="357.5" r="1.2"/>
<circle cx="485.5" cy="370.4" r="1.2"/>
<circle cx="469.1" cy="435.7" r="1.2"/>
<circle cx="478.0" cy="458.1" r="1.2"/>
<circle cx="490.0" cy="454.8" r="1.2"/>
<circle cx="510.7" cy="429.5" r="1.2"/>
<circle cx="480.3" cy="468.0" r="1.2"/>
<circle cx="469.5" cy="421.2" r="1.2"/>
<circle cx="490.2" cy="466.7" r="1.2"/>
<circle cx="494.2" cy="427.5" r="1.2"/>
<circle cx="499.2" cy="461.8" r="1.2"/>
<circle cx="484.7" cy="451.3" r="1.2"/>
<circle cx="473.1" cy="434.4" r="1.2"/>
<circle cx="484.4" cy="446.7" r="1.2"/>
<circle cx="487.8" cy="424.8" r="1.2"/>
<circle cx="505.2" cy="458.9" r="1.2"/>
<circle cx="471.6" cy="433.3" r="1.2"/>
<circle cx="491.2" cy="429.1" r="1.2"/>
<circle cx="469.1" cy="450.4" r="1.2"/>
<circle cx="505.5" cy="459.0" r="1.2"/>
<circle cx="504.8" cy="456.9" r="1.2"/>
<circle cx="474.1" cy="463.6" r="1.2"/>
<circle cx="519.8" cy="422.7" r="1.2"/>
<circle cx="461.0" cy="423.6" r="1.2"/>
<circle cx="478.5" cy="459.9" r="1.2"/>
<circle cx="472.2" cy="430.3" r="1.2"/>
<circle cx="466.3" cy="441.3" r="1.2"/>
<circle cx="498.3" cy="435.8" r="1.2"/>
<circle cx="466.3" cy="431.4" r="1.2"/>
<circle cx="460.9" cy="430.0" r="1.2"/>
<circle cx="477.1" cy="446.2" r="1.2"/>
<circle cx="467.9" cy="444.9" r="1.2"/>
<circle cx="488.0" cy="430.3" r="1.2"/>
<circle cx="496.4" cy="427.5" r="1.2"/>
<circle cx="466.8" cy="423.8" r="1.2"/>
<circle cx="483.2" cy="438.4" r="1.2"/>
<circle cx="484.8" cy="438.3" r="1.2"/>
<circle cx="503.3" cy="440.4" r="1.2"/>
<circle cx="495.1" cy="420.3" r="1.2"/>
<circle cx="479.8" cy="452.8" r="1.2"/>
<circle cx="485.3" cy="435.5" r="1.2"/>
<circle cx="493.8" cy="454.5" r="1.2"/>
<circle cx="465.2" cy="439.0" r="1.2"/>
<circle cx="496.3" cy="455.2" r="1.2"/>
<circle cx="478.8" cy="469.1" r="1.2"/>
<circle cx="493.5" cy="440.9" r="1.2"/>
<circle cx="467.8" cy="426.0" r="1.2"/>
<circle cx="488.6" cy="445.8" r="1.2"/>
<circle cx="480.4" cy="466.5" r="1.2"/>
<circle cx="479.5" cy="447.7" r="1.2"/>
<circle cx="488.4" cy="437.3" r="1.2"/>
<circle cx="482.1" cy="451.7" r="1.2"/>
<circle cx="510.0" cy="433.6" r="1.2"/>
<circle cx="480.9" cy="440.2" r="1.2"/>
<circle cx="480.4" cy="467.5" r="1.2"/>
<circle cx="492.7" cy="434.3" r="1.2"/>
<circle cx="478.3" cy="462.7" r="1.2"/>
<circle cx="465.3" cy="431.9" r="1.2"/>
<circle cx="506.3" cy="457.4" r="1.2"/>
<circle cx="643.4" cy="249.3" r="1.2"/>
<circle cx="638.6" cy="239.3" r="1.2"/>
<circle cx="659.7" cy="327.7" r="1.2"/>
<circle cx="603.8" cy="235.6" r="1.2"/>
<circle cx="612.4" cy="232.2" r="1.2"/>
<circle cx="611.2" cy="246.2" r="1.2"/>
<circle cx="643.4" cy="269.1" r="1.2"/>
<circle cx="625.3" cy="253.3" r="1.2"/>
<circle cx="670.6" cy="247.5" r="1.2"/>
<circle cx="618.0" cy="245.2" r="1.2"/>
<circle cx="668.1" cy="233.4" r="1.2"/>
<circle cx="644.0" cy="309.1" r="1.2"/>
<circle cx="657.6" cy="275.2" r="1.2"/>
<circle cx="633.7" cy="269.6" r="1.2"/>
<circle cx="614.2" cy="247.5" r="1.2"/>
<circle cx="638.3" cy="299.1" r="1.2"/>
<circle cx="641.4" cy="296.9" r="1.2"/>
<circle cx="657.0" cy="302.8" r="1.2"/>
<circle cx="661.5" cy="261.6" r="1.2"/>
<circle cx="637.7" cy="256.9" r="1.2"/>
<circle cx="648.9" cy="257.5" r="1.2"/>
<circle cx="692.3" cy="238.3" r="1.2"/>
<circle cx="657.3" cy="320.7" r="1.2"/>
<circle cx="658.7" cy="272.7" r="1.2"/>
<circle cx="693.3" cy="238.7" r="1.2"/>
<circle cx="677.7" cy="240.3" r="1.2"/>
<circle cx="627.7" cy="241.4" r="1.2"/>
<circle cx="672.6" cy="255.7" r="1.2"/>
<circle cx="672.2" cy="251.5" r="1.2"/>
<circle cx="665.4" cy="257.8" r="1.2"/>
<circle cx="642.7" cy="287.2" r="1.2"/>
<circle cx="647.3" cy="241.9" r="1.2"/>
<circle cx="674.9" cy="244.5" r="1.2"/>
<circle cx="668.0" cy="235.4" r="1.2"/>
<circle cx="698.8" cy="284.1" r="1.2"/>
<circle cx="674.0" cy="243.1" r="1.2"/>
<circle cx="663.7" cy="267.7" r="1.2"/>
<circle cx="689.3" cy="233.4" r="1.2"/>
<circle cx="646.5" cy="276.9" r="1.2"/>
<circle cx="618.5" cy="243.7" r="1.2"/>
<circle cx="681.5" cy="242.0" r="1.2"/>
<circle cx="633.6" cy="246.4" r="1.2"/>
<circle cx="693.0" cy="277.4" r="1.2"/>
<circle cx="678.6" cy="255.0" r="1.2"/>
<circle cx="691.3" cy="252.1" r="1.2"/>
<circle cx="663.1" cy="283.3" r="1.2"/>
<circle cx="674.5" cy="253.2" r="1.2"/>
<circle cx="646.3" cy="312.3" r="1.2"/>
<circle cx="655.4" cy="270.5" r="1.2"/>
<circle cx="616.8" cy="243.7" r="1.2"/>
<circle cx="647.0" cy="279.3" r="1.2"/>
<circle cx="626.8" cy="266.8" r="1.2"/>
<circle cx="655.4" cy="306.2" r="1.2"/>
<circle cx="658.9" cy="246.2" r="1.2"/>
<circle cx="688.6" cy="266.8" r="1.2"/>
<circle cx="696.7" cy="268.5" r="1.2"/>
<circle cx="654.7" cy="261.4" r="1.2"/>
<circle cx="602.9" cy="250.5" r="1.2"/>
<circle cx="612.4" cy="258.4" r="1.2"/>
<circle cx="662.9" cy="286.3" r="1.2"/>
<circle cx="663.4" cy="284.3" r="1.2"/>
<circle cx="636.0" cy="290.5" r="1.2"/>
<circle cx="606.4" cy="231.0" r="1.2"/>
<circle cx="655.3" cy="250.6" r="1.2"/>
<circle cx="650.7" cy="241.8" r="1.2"/>
<circle cx="671.3" cy="230.2" r="1.2"/>
<circle cx="696.9" cy="261.3" r="1.2"/>
<circle cx="656.8" cy="230.9" r="1.2"/>
<circle cx="601.3" cy="250.3" r="1.2"/>
<circle cx="651.6" cy="262.3" r="1.2"/>
<circle cx="696.6" cy="270.5" r="1.2"/>
<circle cx="669.7" cy="236.7" r="1.2"/>
<circle cx="627.0" cy="244.8" r="1.2"/>
<circle cx="699.4" cy="292.3" r="1.2"/>
<circle cx="665.3" cy="246.1" r="1.2"/>
<circle cx="625.5" cy="244.2" r="1.2"/>
<circle cx="615.8" cy="244.9" r="1.2"/>
<circle cx="657.4" cy="286.0" r="1.2"/>
<circle cx="641.3" cy="284.4" r="1.2"/>
<circle cx="601.5" cy="235.8" r="1.2"/>
<circle cx="642.3" cy="253.7" r="1.2"/>
<circle cx="675.7" cy="254.2" r="1.2"/>
<circle cx="682.4" cy="254.1" r="1.2"/>
<circle cx="638.8" cy="263.6" r="1.2"/>
<circle cx="676.5" cy="252.2" r="1.2"/>
<circle cx="645.3" cy="280.3" r="1.2"/>
<circle cx="618.1" cy="237.0" r="1.2"/>
<circle cx="608.2" cy="263.2" r="1.2"/>
<circle cx="642.4" cy="260.9" r="1.2"/>
<circle cx="624.4" cy="245.5" r="1.2"/>
<circle cx="630.5" cy="262.4" r="1.2"/>
<circle cx="642.9" cy="246.6" r="1.2"/>
<circle cx="604.5" cy="242.2" r="1.2"/>
<circle cx="633.5" cy="240.2" r="1.2"/>
<circle cx="651.1" cy="246.8" r="1.2"/>
<circle cx="667.0" cy="273.3" r="1.2"/>
<circle cx="666.1" cy="239.1" r="1.2"/>
<circle cx="690.3" cy="230.4" r="1.2"/>
<circle cx="622.3" cy="269.8" r="1.2"/>
<circle cx="619.8" cy="238.8" r="1.2"/>
<circle cx="633.5" cy="256.6" r="1.2"/>
<circle cx="667.1" cy="252.3" r="1.2"/>
<circle cx="640.1" cy="298.8" r="1.2"/>
<circle cx="643.1" cy="245.6" r="1.2"/>
<circle cx="648.8" cy="249.4" r="1.2"/>
<circle cx="667.0" cy="279.6" r="1.2"/>
<circle cx="680.9" cy="259.2" r="1.2"/>
<circle cx="647.4" cy="244.1" r="1.2"/>
<circle cx="648.4" cy="242.7" r="1.2"/>
<circle cx="657.8" cy="327.6" r="1.2"/>
<circle cx="680.1" cy="241.3" r="1.2"/>
<circle cx="632.2" cy="235.4" r="1.2"/>
<circle cx="658.3" cy="302.3" r="1.2"/>
<circle cx="643.8" cy="230.4" r="1.2"/>
<circle cx="671.7" cy="241.5" r="1.2"/>
<circle cx="638.1" cy="297.1" r="1.2"/>
<circle cx="600.4" cy="234.2" r="1.2"/>
<circle cx="699.6" cy="261.8" r="1.2"/>
<circle cx="648.3" cy="263.7" r="1.2"/>
<circle cx="637.4" cy="281.0" r="1.2"/>
<circle cx="658.8" cy="252.3" r="1.2"/>
<circle cx="650.4" cy="271.9" r="1.2"/>
<circle cx="666.4" cy="248.5" r="1.2"/>
<circle cx="653.2" cy="257.6" r="1.2"/>
<circle cx="651.1" cy="267.5" r="1.2"/>
<circle cx="629.0" cy="270.2" r="1.2"/>
<circle cx="648.3" cy="303.1" r="1.2"/>
<circle cx="635.8" cy="260.6" r="1.2"/>
<circle cx="673.3" cy="250.7" r="1.2"/>
<circle cx="627.3" cy="236.1" r="1.2"/>
<circle cx="636.1" cy="233.2" r="1.2"/>
<circle cx="696.2" cy="282.5" r="1.2"/>
<circle cx="680.4" cy="252.9" r="1.2"/>
<circle cx="633.7" cy="240.9" r="1.2"/>
<circle cx="648.8" cy="266.9" r="1.2"/>
<circle cx="627.0" cy="278.7" r="1.2"/>
<circle cx="643.9" cy="272.1" r="1.2"/>
<circle cx="618.3" cy="245.8" r="1.2"/>
<circle cx="685.3" cy="263.1" r="1.2"/>
<circle cx="642.7" cy="249.2" r="1.2"/>
<circle cx="677.3" cy="267.5" r="1.2"/>
<circle cx="644.0" cy="269.7" r="1.2"/>
<circle cx="659.5" cy="255.5" r="1.2"/>
<circle cx="637.9" cy="231.1" r="1.2"/>
<circle cx="662.5" cy="248.8" r="1.2"/>
<circle cx="661.1" cy="259.4" r="1.2"/>
<circle cx="690.9" cy="253.3" r="1.2"/>
<circle cx="658.6" cy="287.5" r="1.2"/>
<circle cx="632.2" cy="233.6" r="1.2"/>
<circle cx="660.2" cy="281.0" r="1.2"/>
<circle cx="612.2" cy="251.3" r="1.2"/>
<circle cx="631.1" cy="271.6" r="1.2"/>
<circle cx="637.7" cy="233.8" r="1.2"/>
<circle cx="654.8" cy="268.7" r="1.2"/>
<circle cx="680.0" cy="240.5" r="1.2"/>
<circle cx="621.3" cy="230.2" r="1.2"/>
<circle cx="609.4" cy="239.1" r="1.2"/>
<circle cx="636.9" cy="273.3" r="1.2"/>
<circle cx="650.8" cy="258.9" r="1.2"/>
<circle cx="670.2" cy="281.6" r="1.2"/>
<circle cx="698.2" cy="246.9" r="1.2"/>
<circle cx="651.1" cy="279.4" r="1.2"/>
<circle cx="635.8" cy="263.5" r="1.2"/>
<circle cx="661.5" cy="286.3" r="1.2"/>
<circle cx="628.4" cy="238.4" r="1.2"/>
<circle cx="695.5" cy="266.9" r="1.2"/>
<circle cx="653.2" cy="262.8" r="1.2"/>
<circle cx="633.9" cy="271.7" r="1.2"/>
<circle cx="695.7" cy="266.1" r="1.2"/>
<circle cx="640.2" cy="246.2" r="1.2"/>
<circle cx="644.6" cy="270.6" r="1.2"/>
<circle cx="645.7" cy="313.2" r="1.2"/>
<circle cx="602.9" cy="252.0" r="1.2"/>
<circle cx="667.6" cy="279.7" r="1.2"/>
<circle cx="647.2" cy="249.8" r="1.2"/>
<circle cx="669.4" cy="255.9" r="1.2"/>
<circle cx="664.5" cy="243.6" r="1.2"/>
<circle cx="661.3" cy="247.2" r="1.2"/>
<circle cx="651.0" cy="261.4" r="1.2"/>
<circle cx="655.1" cy="243.4" r="1.2"/>
<circle cx="648.3" cy="291.7" r="1.2"/>
<circle cx="613.5" cy="260.9" r="1.2"/>
<circle cx="667.9" cy="284.6" r="1.2"/>
<circle cx="657.1" cy="252.2" r="1.2"/>
<circle cx="656.7" cy="305.3" r="1.2"/>
<circle cx="636.4" cy="274.8" r="1.2"/>
<circle cx="665.3" cy="240.6" r="1.2"/>
<circle cx="661.2" cy="233.3" r="1.2"/>
<circle cx="672.8" cy="256.8" r="1.2"/>
<circle cx="684.6" cy="247.7" r="1.2"/>
<circle cx="668.8" cy="283.3" r="1.2"/>
<circle cx="686.2" cy="250.3" r="1.2"/>
<circle cx="689.9" cy="263.9" r="1.2"/>
<circle cx="602.6" cy="263.7" r="1.2"/>
<circle cx="606.6" cy="237.2" r="1.2"/>
<circle cx="662.4" cy="242.1" r="1.2"/>
<circle cx="616.0" cy="259.3" r="1.2"/>
<circle cx="699.0" cy="274.0" r="1.2"/>
<circle cx="679.6" cy="258.1" r="1.2"/>
<circle cx="673.2" cy="252.8" r="1.2"/>
<circle cx="655.2" cy="291.2" r="1.2"/>
<circle cx="686.2" cy="244.4" r="1.2"/>
<circle cx="669.9" cy="276.4" r="1.2"/>
<circle cx="678.6" cy="275.6" r="1.2"/>
<circle cx="683.1" cy="254.8" r="1.2"/>
<circle cx="669.5" cy="269.6" r="1.2"/>
<circle cx="622.4" cy="251.7" r="1.2"/>
<circle cx="695.4" cy="266.8" r="1.2"/>
<circle cx="651.0" cy="280.1" r="1.2"/>
<circle cx="635.7" cy="251.0" r="1.2"/>
<circle cx="665.8" cy="270.6" r="1.2"/>
<circle cx="652.5" cy="245.4" r="1.2"/>
<circle cx="691.9" cy="277.2" r="1.2"/>
<circle cx="650.7" cy="308.7" r="1.2"/>
<circle cx="609.4" cy="257.6" r="1.2"/>
<circle cx="663.6" cy="278.2" r="1.2"/>
<circle cx="637.7" cy="287.9" r="1.2"/>
<circle cx="655.2" cy="290.2" r="1.2"/>
<circle cx="662.6" cy="242.5" r="1.2"/>
<circle cx="677.7" cy="259.2" r="1.2"/>
<circle cx="643.7" cy="297.3" r="1.2"/>
<circle cx="695.3" cy="248.9" r="1.2"/>
<circle cx="651.0" cy="244.9" r="1.2"/>
<circle cx="638.8" cy="244.9" r="1.2"/>
<circle cx="653.8" cy="274.0" r="1.2"/>
<circle cx="650.4" cy="313.7" r="1.2"/>
<circle cx="619.9" cy="233.8" r="1.2"/>
<circle cx="653.8" cy="251.8" r="1.2"/>
<circle cx="678.1" cy="260.6" r="1.2"/>
<circle cx="672.7" cy="252.8" r="1.2"/>
<circle cx="657.3" cy="294.8" r="1.2"/>
<circle cx="637.2" cy="278.0" r="1.2"/>
<circle cx="669.1" cy="245.3" r="1.2"/>
<circle cx="655.1" cy="303.3" r="1.2"/>
<circle cx="687.0" cy="235.0" r="1.2"/>
<circle cx="624.8" cy="238.4" r="1.2"/>
<circle cx="625.3" cy="238.6" r="1.2"/>
<circle cx="648.9" cy="255.0" r="1.2"/>
<circle cx="630.0" cy="276.2" r="1.2"/>
<circle cx="672.3" cy="241.4" r="1.2"/>
<circle cx="622.3" cy="230.8" r="1.2"/>
<circle cx="632.9" cy="240.8" r="1.2"/>
<circle cx="699.6" cy="250.9" r="1.2"/>
<circle cx="639.2" cy="261.2" r="1.2"/>
<circle cx="651.2" cy="274.1" r="1.2"/>
<circle cx="643.7" cy="306.9" r="1.2"/>
<circle cx="689.1" cy="270.8" r="1.2"/>
<circle cx="666.1" cy="286.0" r="1.2"/>
<circle cx="646.1" cy="287.5" r="1.2"/>
<circle cx="686.5" cy="238.0" r="1.2"/>
<circle cx="697.8" cy="231.3" r="1.2"/>
<circle cx="662.7" cy="293.2" r="1.2"/>
<circle cx="613.1" cy="260.0" r="1.2"/>
<circle cx="633.7" cy="242.8" r="1.2"/>
<circle cx="667.0" cy="258.7" r="1.2"/>
<circle cx="679.1" cy="260.6" r="1.2"/>
<circle cx="654.6" cy="310.8" r="1.2"/>
<circle cx="636.9" cy="248.0" r="1.2"/>
<circle cx="639.5" cy="280.1" r="1.2"/>
<circle cx="641.5" cy="242.2" r="1.2"/>
<circle cx="652.3" cy="260.0" r="1.2"/>
<circle cx="696.7" cy="268.3" r="1.2"/>
<circle cx="643.5" cy="252.8" r="1.2"/>
<circle cx="696.9" cy="262.2" r="1.2"/>
<circle cx="627.9" cy="241.0" r="1.2"/>
<circle cx="687.4" cy="250.3" r="1.2"/>
<circle cx="644.0" cy="306.3" r="1.2"/>
<circle cx="627.6" cy="245.3" r="1.2"/>
<circle cx="651.9" cy="272.5" r="1.2"/>
<circle cx="641.6" cy="233.4" r="1.2"/>
<circle cx="671.0" cy="236.3" r="1.2"/>
<circle cx="692.4" cy="240.9" r="1.2"/>
<circle cx="601.6" cy="245.1" r="1.2"/>
<circle cx="622.2" cy="238.1" r="1.2"/>
<circle cx="609.1" cy="249.4" r="1.2"/>
<circle cx="651.8" cy="243.7" r="1.2"/>
<circle cx="682.1" cy="271.7" r="1.2"/>
<circle cx="625.2" cy="254.1" r="1.2"/>
<circle cx="684.0" cy="234.7" r="1.2"/>
<circle cx="674.2" cy="239.8" r="1.2"/>
<circle cx="694.5" cy="270.8" r="1.2"/>
<circle cx="610.0" cy="236.4" r="1.2"/>
<circle cx="672.1" cy="257.8" r="1.2"/>
<circle cx="649.7" cy="248.7" r="1.2"/>
<circle cx="643.7" cy="258.2" r="1.2"/>
<circle cx="658.6" cy="259.9" r="1.2"/>
<circle cx="649.6" cy="252.9" r="1.2"/>
<circle cx="650.4" cy="302.0" r="1.2"/>
<circle cx="637.4" cy="271.2" r="1.2"/>
<circle cx="689.3" cy="257.4" r="1.2"/>
<circle cx="661.2" cy="250.4" r="1.2"/>
<circle cx="699.8" cy="294.8" r="1.2"/>
<circle cx="617.5" cy="255.9" r="1.2"/>
<circle cx="661.6" cy="249.4" r="1.2"/>
<circle cx="646.3" cy="301.4" r="1.2"/>
<circle cx="604.3" cy="249.1" r="1.2"/>
<circle cx="696.0" cy="269.1" r="1.2"/>
<circle cx="642.5" cy="267.5" r="1.2"/>
<circle cx="665.0" cy="270.2" r="1.2"/>
<circle cx="657.0" cy="281.5" r="1.2"/>
<circle cx="699.3" cy="276.6" r="1.2"/>
<circle cx="683.9" cy="254.1" r="1.2"/>
<circle cx="687.9" cy="256.8" r="1.2"/>
<circle cx="631.2" cy="266.8" r="1.2"/>
<circle cx="617.0" cy="245.6" r="1.2"/>
<circle cx="656.8" cy="251.2" r="1.2"/>
<circle cx="633.7" cy="240.2" r="1.2"/>
<circle cx="630.3" cy="256.7" r="1.2"/>
<circle cx="639.5" cy="231.2" r="1.2"/>
<circle cx="643.6" cy="268.0" r="1.2"/>
<circle cx="637.5" cy="230.0" r="1.2"/>
<circle cx="696.0" cy="252.8" r="1.2"/>
<circle cx="625.3" cy="232.4" r="1.2"/>
<circle cx="658.2" cy="280.4" r="1.2"/>
<circle cx="624.6" cy="258.7" r="1.2"/>
<circle cx="697.0" cy="267.2" r="1.2"/>
<circle cx="626.6" cy="269.9" r="1.2"/>
<circle cx="662.8" cy="289.9" r="1.2"/>
<circle cx="656.7" cy="262.6" r="1.2"/>
<circle cx="692.8" cy="267.1" r="1.2"/>
<circle cx="610.2" cy="263.3" r="1.2"/>
<circle cx="644.5" cy="276.2" r="1.2"/>
<circle cx="676.0" cy="261.8" r="1.2"/>
<circle cx="680.9" cy="254.8" r="1.2"/>
<circle cx="612.8" cy="243.6" r="1.2"/>
<circle cx="649.3" cy="263.4" r="1.2"/>
<circle cx="644.6" cy="309.3" r="1.2"/>
<circle cx="663.2" cy="247.3" r="1.2"/>
<circle cx="697.2" cy="247.4" r="1.2"/>
<circle cx="623.8" cy="260.5" r="1.2"/>
<circle cx="649.1" cy="269.5" r="1.2"/>
<circle cx="664.6" cy="280.5" r="1.2"/>
<circle cx="699.7" cy="250.3" r="1.2"/>
<circle cx="633.6" cy="231.2" r="1.2"/>
<circle cx="609.4" cy="235.5" r="1.2"/>
<circle cx="658.0" cy="231.3" r="1.2"/>
<circle cx="638.4" cy="256.2" r="1.2"/>
<circle cx="662.1" cy="236.5" r="1.2"/>
<circle cx="654.2" cy="267.6" r="1.2"/>
<circle cx="649.2" cy="270.4" r="1.2"/>
<circle cx="666.2" cy="187.3" r="1.2"/>
<circle cx="683.0" cy="218.3" r="1.2"/>
<circle cx="598.7" cy="231.0" r="1.2"/>
<circle cx="675.7" cy="229.8" r="1.2"/>
<circle cx="594.7" cy="213.8" r="1.2"/>
<circle cx="613.0" cy="199.8" r="1.2"/>
<circle cx="666.6" cy="215.8" r="1.2"/>
<circle cx="606.5" cy="212.2" r="1.2"/>
<circle cx="690.0" cy="213.3" r="1.2"/>
<circle cx="687.9" cy="213.3" r="1.2"/>
<circle cx="698.9" cy="186.5" r="1.2"/>
<circle cx="624.4" cy="212.6" r="1.2"/>
<circle cx="661.8" cy="233.4" r="1.2"/>
<circle cx="647.3" cy="208.9" r="1.2"/>
<circle cx="648.8" cy="211.7" r="1.2"/>
<circle cx="658.7" cy="232.3" r="1.2"/>
<circle cx="561.9" cy="201.0" r="1.2"/>
<circle cx="682.7" cy="188.0" r="1.2"/>
<circle cx="670.6" cy="186.5" r="1.2"/>
<circle cx="650.7" cy="225.0" r="1.2"/>
<circle cx="593.3" cy="204.1" r="1.2"/>
<circle cx="591.7" cy="220.2" r="1.2"/>
<circle cx="634.0" cy="215.3" r="1.2"/>
<circle cx="605.6" cy="214.3" r="1.2"/>
<circle cx="693.6" cy="224.0" r="1.2"/>
<circle cx="693.2" cy="197.4" r="1.2"/>
<circle cx="632.2" cy="204.3" r="1.2"/>
<circle cx="608.4" cy="225.2" r="1.2"/>
<circle cx="584.5" cy="212.9" r="1.2"/>
<circle cx="668.4" cy="231.8" r="1.2"/>
<circle cx="562.6" cy="198.5" r="1.2"/>
<circle cx="629.0" cy="231.8" r="1.2"/>
<circle cx="582.8" cy="227.0" r="1.2"/>
<circle cx="615.6" cy="212.4" r="1.2"/>
<circle cx="689.9" cy="188.2" r="1.2"/>
<circle cx="606.1" cy="192.8" r="1.2"/>
<circle cx="578.7" cy="200.2" r="1.2"/>
<circle cx="658.1" cy="214.0" r="1.2"/>
<circle cx="577.1" cy="225.1" r="1.2"/>
<circle cx="674.9" cy="226.0" r="1.2"/>
<circle cx="590.3" cy="232.0" r="1.2"/>
<circle cx="700.1" cy="273.1" r="1.2"/>
<circle cx="762.0" cy="203.8" r="1.2"/>
<circle cx="757.5" cy="264.6" r="1.2"/>
<circle cx="747.5" cy="269.9" r="1.2"/>
<circle cx="773.9" cy="224.5" r="1.2"/>
<circle cx="723.5" cy="256.5" r="1.2"/>
<circle cx="751.3" cy="271.4" r="1.2"/>
<circle cx="742.5" cy="219.8" r="1.2"/>
<circle cx="718.9" cy="243.9" r="1.2"/>
<circle cx="710.2" cy="272.4" r="1.2"/>
<circle cx="752.3" cy="255.6" r="1.2"/>
<circle cx="709.1" cy="265.1" r="1.2"/>
<circle cx="707.4" cy="220.4" r="1.2"/>
<circle cx="757.9" cy="237.0" r="1.2"/>
<circle cx="761.1" cy="209.4" r="1.2"/>
<circle cx="708.0" cy="226.4" r="1.2"/>
<circle cx="766.0" cy="209.6" r="1.2"/>
<circle cx="705.5" cy="262.8" r="1.2"/>
<circle cx="706.8" cy="255.1" r="1.2"/>
<circle cx="706.3" cy="217.2" r="1.2"/>
<circle cx="749.8" cy="273.6" r="1.2"/>
<circle cx="730.7" cy="235.5" r="1.2"/>
<circle cx="702.3" cy="225.7" r="1.2"/>
<circle cx="718.2" cy="266.0" r="1.2"/>
<circle cx="753.6" cy="265.6" r="1.2"/>
<circle cx="739.9" cy="257.9" r="1.2"/>
<circle cx="709.5" cy="229.7" r="1.2"/>
<circle cx="722.0" cy="220.4" r="1.2"/>
<circle cx="755.4" cy="214.3" r="1.2"/>
<circle cx="724.4" cy="220.4" r="1.2"/>
<circle cx="764.8" cy="252.5" r="1.2"/>
<circle cx="736.0" cy="229.2" r="1.2"/>
<circle cx="733.7" cy="246.0" r="1.2"/>
<circle cx="719.4" cy="204.3" r="1.2"/>
<circle cx="737.6" cy="264.2" r="1.2"/>
<circle cx="711.7" cy="233.9" r="1.2"/>
<circle cx="728.7" cy="270.5" r="1.2"/>
<circle cx="709.3" cy="252.3" r="1.2"/>
<circle cx="749.5" cy="222.7" r="1.2"/>
<circle cx="738.6" cy="220.9" r="1.2"/>
<circle cx="733.5" cy="237.1" r="1.2"/>
<circle cx="772.3" cy="207.5" r="1.2"/>
<circle cx="769.1" cy="252.6" r="1.2"/>
<circle cx="774.3" cy="197.3" r="1.2"/>
<circle cx="728.1" cy="269.6" r="1.2"/>
<circle cx="716.0" cy="262.7" r="1.2"/>
<circle cx="735.1" cy="232.0" r="1.2"/>
<circle cx="714.7" cy="267.0" r="1.2"/>
<circle cx="754.8" cy="203.0" r="1.2"/>
<circle cx="773.4" cy="214.9" r="1.2"/>
<circle cx="728.1" cy="232.3" r="1.2"/>
<circle cx="743.2" cy="275.1" r="1.2"/>
<circle cx="727.4" cy="204.7" r="1.2"/>
<circle cx="705.2" cy="241.7" r="1.2"/>
<circle cx="743.7" cy="235.3" r="1.2"/>
<circle cx="726.3" cy="232.6" r="1.2"/>
<circle cx="712.9" cy="279.5" r="1.2"/>
<circle cx="744.3" cy="243.8" r="1.2"/>
<circle cx="731.9" cy="217.5" r="1.2"/>
<circle cx="723.7" cy="239.4" r="1.2"/>
<circle cx="742.2" cy="213.6" r="1.2"/>
<circle cx="704.0" cy="209.3" r="1.2"/>
<circle cx="725.9" cy="265.4" r="1.2"/>
<circle cx="758.5" cy="234.7" r="1.2"/>
<circle cx="740.3" cy="243.0" r="1.2"/>
<circle cx="703.2" cy="201.0" r="1.2"/>
<circle cx="750.1" cy="257.0" r="1.2"/>
<circle cx="728.5" cy="277.7" r="1.2"/>
<circle cx="705.0" cy="244.8" r="1.2"/>
<circle cx="749.1" cy="215.2" r="1.2"/>
<circle cx="703.3" cy="238.8" r="1.2"/>
<circle cx="702.6" cy="261.3" r="1.2"/>
<circle cx="746.9" cy="220.1" r="1.2"/>
<circle cx="733.4" cy="216.0" r="1.2"/>
<circle cx="713.9" cy="211.3" r="1.2"/>
<circle cx="761.2" cy="235.8" r="1.2"/>
<circle cx="753.7" cy="226.3" r="1.2"/>
<circle cx="760.5" cy="248.6" r="1.2"/>
<circle cx="749.1" cy="230.3" r="1.2"/>
<circle cx="742.1" cy="212.2" r="1.2"/>
<circle cx="739.9" cy="252.5" r="1.2"/>
<circle cx="707.5" cy="225.1" r="1.2"/>
<circle cx="717.3" cy="270.9" r="1.2"/>
<circle cx="701.0" cy="235.0" r="1.2"/>
<circle cx="717.4" cy="258.4" r="1.2"/>
<circle cx="722.4" cy="260.1" r="1.2"/>
<circle cx="726.2" cy="263.5" r="1.2"/>
<circle cx="743.0" cy="268.4" r="1.2"/>
<circle cx="774.0" cy="195.9" r="1.2"/>
<circle cx="765.8" cy="197.7" r="1.2"/>
<circle cx="740.9" cy="229.9" r="1.2"/>
<circle cx="715.6" cy="265.6" r="1.2"/>
<circle cx="741.3" cy="263.0" r="1.2"/>
<circle cx="736.7" cy="198.3" r="1.2"/>
<circle cx="735.4" cy="195.0" r="1.2"/>
<circle cx="719.4" cy="254.9" r="1.2"/>
<circle cx="757.3" cy="252.3" r="1.2"/>
<circle cx="733.2" cy="260.9" r="1.2"/>
<circle cx="750.2" cy="213.5" r="1.2"/>
<circle cx="740.1" cy="248.8" r="1.2"/>
<circle cx="754.7" cy="212.8" r="1.2"/>
<circle cx="723.3" cy="225.9" r="1.2"/>
<circle cx="707.2" cy="226.4" r="1.2"/>
<circle cx="754.7" cy="247.0" r="1.2"/>
<circle cx="713.0" cy="260.8" r="1.2"/>
<circle cx="708.8" cy="262.6" r="1.2"/>
<circle cx="711.1" cy="203.7" r="1.2"/>
<circle cx="718.9" cy="241.3" r="1.2"/>
<circle cx="720.3" cy="274.6" r="1.2"/>
<circle cx="756.2" cy="257.6" r="1.2"/>
<circle cx="742.1" cy="217.9" r="1.2"/>
<circle cx="701.0" cy="224.7" r="1.2"/>
<circle cx="724.1" cy="212.9" r="1.2"/>
<circle cx="732.3" cy="275.8" r="1.2"/>
<circle cx="701.8" cy="270.2" r="1.2"/>
<circle cx="723.2" cy="196.2" r="1.2"/>
<circle cx="715.9" cy="205.5" r="1.2"/>
<circle cx="727.5" cy="205.8" r="1.2"/>
<circle cx="713.5" cy="217.5" r="1.2"/>
<circle cx="743.4" cy="235.2" r="1.2"/>
<circle cx="722.9" cy="242.3" r="1.2"/>
<circle cx="758.1" cy="260.2" r="1.2"/>
<circle cx="725.8" cy="277.6" r="1.2"/>
<circle cx="759.3" cy="245.6" r="1.2"/>
<circle cx="735.7" cy="224.7" r="1.2"/>
<circle cx="710.1" cy="274.7" r="1.2"/>
<circle cx="745.6" cy="203.9" r="1.2"/>
<circle cx="702.5" cy="258.1" r="1.2"/>
<circle cx="717.9" cy="243.2" r="1.2"/>
<circle cx="737.4" cy="254.9" r="1.2"/>
<circle cx="714.4" cy="251.4" r="1.2"/>
<circle cx="714.1" cy="259.0" r="1.2"/>
<circle cx="703.1" cy="219.7" r="1.2"/>
<circle cx="708.8" cy="208.4" r="1.2"/>
<circle cx="739.6" cy="210.7" r="1.2"/>
<circle cx="759.6" cy="203.7" r="1.2"/>
<circle cx="746.7" cy="272.5" r="1.2"/>
<circle cx="709.5" cy="214.6" r="1.2"/>
<circle cx="757.4" cy="237.3" r="1.2"/>
<circle cx="725.8" cy="282.0" r="1.2"/>
<circle cx="766.8" cy="213.0" r="1.2"/>
<circle cx="708.8" cy="271.4" r="1.2"/>
<circle cx="758.1" cy="262.4" r="1.2"/>
<circle cx="745.1" cy="204.0" r="1.2"/>
<circle cx="771.9" cy="204.2" r="1.2"/>
<circle cx="758.8" cy="260.1" r="1.2"/>
<circle cx="723.8" cy="256.6" r="1.2"/>
<circle cx="730.8" cy="262.6" r="1.2"/>
<circle cx="703.3" cy="279.0" r="1.2"/>
<circle cx="728.8" cy="267.3" r="1.2"/>
<circle cx="735.4" cy="268.1" r="1.2"/>
<circle cx="722.6" cy="244.1" r="1.2"/>
<circle cx="701.9" cy="239.0" r="1.2"/>
<circle cx="705.9" cy="272.3" r="1.2"/>
<circle cx="750.8" cy="233.3" r="1.2"/>
<circle cx="771.8" cy="202.4" r="1.2"/>
<circle cx="752.8" cy="260.5" r="1.2"/>
<circle cx="745.4" cy="196.4" r="1.2"/>
<circle cx="744.6" cy="268.3" r="1.2"/>
<circle cx="720.6" cy="197.6" r="1.2"/>
<circle cx="703.1" cy="207.3" r="1.2"/>
<circle cx="715.7" cy="208.2" r="1.2"/>
<circle cx="767.3" cy="254.8" r="1.2"/>
<circle cx="743.7" cy="206.8" r="1.2"/>
<circle cx="700.2" cy="232.7" r="1.2"/>
<circle cx="704.3" cy="284.8" r="1.2"/>
<circle cx="707.8" cy="280.8" r="1.2"/>
<circle cx="763.1" cy="260.9" r="1.2"/>
<circle cx="703.2" cy="257.6" r="1.2"/>
<circle cx="737.0" cy="239.2" r="1.2"/>
<circle cx="710.9" cy="241.1" r="1.2"/>
<circle cx="760.2" cy="206.8" r="1.2"/>
<circle cx="720.0" cy="216.5" r="1.2"/>
<circle cx="734.5" cy="253.3" r="1.2"/>
<circle cx="742.7" cy="275.1" r="1.2"/>
<circle cx="738.4" cy="241.1" r="1.2"/>
<circle cx="774.2" cy="214.4" r="1.2"/>
<circle cx="701.2" cy="224.6" r="1.2"/>
<circle cx="723.5" cy="206.2" r="1.2"/>
<circle cx="731.4" cy="198.1" r="1.2"/>
<circle cx="765.9" cy="257.8" r="1.2"/>
<circle cx="754.7" cy="263.3" r="1.2"/>
<circle cx="722.6" cy="260.6" r="1.2"/>
<circle cx="715.5" cy="244.9" r="1.2"/>
<circle cx="744.7" cy="264.8" r="1.2"/>
<circle cx="712.6" cy="226.0" r="1.2"/>
<circle cx="761.8" cy="267.4" r="1.2"/>
<circle cx="773.3" cy="205.6" r="1.2"/>
<circle cx="715.8" cy="204.6" r="1.2"/>
<circle cx="754.3" cy="262.1" r="1.2"/>
<circle cx="748.6" cy="265.2" r="1.2"/>
<circle cx="738.7" cy="245.6" r="1.2"/>
<circle cx="769.1" cy="253.3" r="1.2"/>
<circle cx="749.2" cy="248.0" r="1.2"/>
<circle cx="737.0" cy="263.1" r="1.2"/>
<circle cx="742.9" cy="206.6" r="1.2"/>
<circle cx="731.9" cy="232.9" r="1.2"/>
<circle cx="732.4" cy="245.5" r="1.2"/>
<circle cx="727.1" cy="230.2" r="1.2"/>
<circle cx="732.0" cy="228.4" r="1.2"/>
<circle cx="772.9" cy="203.1" r="1.2"/>
<circle cx="701.3" cy="259.9" r="1.2"/>
<circle cx="729.6" cy="235.4" r="1.2"/>
<circle cx="744.4" cy="228.0" r="1.2"/>
<circle cx="717.9" cy="196.4" r="1.2"/>
<circle cx="721.4" cy="236.9" r="1.2"/>
<circle cx="724.3" cy="200.3" r="1.2"/>
<circle cx="718.1" cy="217.9" r="1.2"/>
<circle cx="752.4" cy="266.7" r="1.2"/>
<circle cx="735.2" cy="229.9" r="1.2"/>
<circle cx="717.5" cy="266.8" r="1.2"/>
<circle cx="708.6" cy="248.4" r="1.2"/>
<circle cx="734.4" cy="208.1" r="1.2"/>
<circle cx="704.5" cy="260.9" r="1.2"/>
<circle cx="705.1" cy="267.8" r="1.2"/>
<circle cx="749.9" cy="237.6" r="1.2"/>
<circle cx="746.2" cy="204.0" r="1.2"/>
<circle cx="744.1" cy="232.9" r="1.2"/>
<circle cx="718.7" cy="278.6" r="1.2"/>
<circle cx="754.8" cy="206.0" r="1.2"/>
<circle cx="717.2" cy="225.8" r="1.2"/>
<circle cx="743.0" cy="224.2" r="1.2"/>
<circle cx="733.0" cy="268.2" r="1.2"/>
<circle cx="713.6" cy="259.8" r="1.2"/>
<circle cx="724.8" cy="280.0" r="1.2"/>
<circle cx="745.5" cy="205.0" r="1.2"/>
<circle cx="730.8" cy="251.1" r="1.2"/>
<circle cx="747.9" cy="225.8" r="1.2"/>
<circle cx="702.5" cy="206.2" r="1.2"/>
<circle cx="742.0" cy="210.4" r="1.2"/>
<circle cx="723.0" cy="250.7" r="1.2"/>
<circle cx="719.1" cy="247.7" r="1.2"/>
<circle cx="720.7" cy="265.4" r="1.2"/>
<circle cx="711.7" cy="218.6" r="1.2"/>
<circle cx="732.9" cy="276.7" r="1.2"/>
<circle cx="712.4" cy="212.3" r="1.2"/>
<circle cx="709.9" cy="214.2" r="1.2"/>
<circle cx="724.9" cy="230.6" r="1.2"/>
<circle cx="757.0" cy="231.3" r="1.2"/>
<circle cx="735.6" cy="230.7" r="1.2"/>
<circle cx="731.9" cy="277.9" r="1.2"/>
<circle cx="718.8" cy="283.0" r="1.2"/>
<circle cx="739.4" cy="256.4" r="1.2"/>
<circle cx="728.6" cy="219.4" r="1.2"/>
<circle cx="710.1" cy="274.7" r="1.2"/>
<circle cx="727.0" cy="257.9" r="1.2"/>
<circle cx="734.6" cy="242.4" r="1.2"/>
<circle cx="715.5" cy="210.9" r="1.2"/>
<circle cx="725.2" cy="256.3" r="1.2"/>
<circle cx="740.8" cy="195.2" r="1.2"/>
<circle cx="753.3" cy="234.0" r="1.2"/>
<circle cx="705.2" cy="218.4" r="1.2"/>
<circle cx="715.9" cy="269.1" r="1.2"/>
<circle cx="741.3" cy="224.4" r="1.2"/>
<circle cx="718.6" cy="221.2" r="1.2"/>
<circle cx="721.0" cy="226.2" r="1.2"/>
<circle cx="759.3" cy="266.0" r="1.2"/>
<circle cx="749.0" cy="205.2" r="1.2"/>
<circle cx="703.3" cy="209.8" r="1.2"/>
<circle cx="719.4" cy="242.5" r="1.2"/>
<circle cx="761.7" cy="247.7" r="1.2"/>
<circle cx="732.2" cy="216.8" r="1.2"/>
<circle cx="725.6" cy="199.1" r="1.2"/>
<circle cx="773.6" cy="218.0" r="1.2"/>
<circle cx="763.6" cy="205.6" r="1.2"/>
<circle cx="749.0" cy="227.1" r="1.2"/>
<circle cx="707.6" cy="212.9" r="1.2"/>
<circle cx="748.2" cy="256.4" r="1.2"/>
<circle cx="721.2" cy="219.5" r="1.2"/>
<circle cx="706.5" cy="283.6" r="1.2"/>
<circle cx="703.3" cy="250.1" r="1.2"/>
<circle cx="726.2" cy="211.8" r="1.2"/>
<circle cx="732.7" cy="278.8" r="1.2"/>
<circle cx="718.6" cy="209.8" r="1.2"/>
<circle cx="747.2" cy="254.1" r="1.2"/>
<circle cx="738.3" cy="211.2" r="1.2"/>
<circle cx="765.6" cy="205.0" r="1.2"/>
<circle cx="713.1" cy="216.8" r="1.2"/>
<circle cx="738.5" cy="237.9" r="1.2"/>
<circle cx="741.5" cy="260.4" r="1.2"/>
<circle cx="703.1" cy="269.8" r="1.2"/>
<circle cx="701.4" cy="223.6" r="1.2"/>
<circle cx="710.7" cy="249.2" r="1.2"/>
<circle cx="758.6" cy="206.6" r="1.2"/>
<circle cx="722.1" cy="271.6" r="1.2"/>
<circle cx="751.7" cy="204.8" r="1.2"/>
<circle cx="751.5" cy="266.5" r="1.2"/>
<circle cx="730.6" cy="209.0" r="1.2"/>
<circle cx="749.4" cy="223.7" r="1.2"/>
<circle cx="710.0" cy="209.8" r="1.2"/>
<circle cx="730.2" cy="206.4" r="1.2"/>
<circle cx="728.9" cy="244.6" r="1.2"/>
<circle cx="741.4" cy="231.3" r="1.2"/>
<circle cx="760.0" cy="202.9" r="1.2"/>
<circle cx="724.7" cy="279.0" r="1.2"/>
<circle cx="757.4" cy="243.2" r="1.2"/>
<circle cx="759.1" cy="246.5" r="1.2"/>
<circle cx="708.8" cy="218.0" r="1.2"/>
<circle cx="707.3" cy="273.8" r="1.2"/>
<circle cx="724.2" cy="231.7" r="1.2"/>
<circle cx="740.4" cy="204.1" r="1.2"/>
<circle cx="752.9" cy="266.6" r="1.2"/>
<circle cx="723.8" cy="208.1" r="1.2"/>
<circle cx="757.1" cy="257.4" r="1.2"/>
<circle cx="727.9" cy="225.9" r="1.2"/>
<circle cx="711.5" cy="269.9" r="1.2"/>
<circle cx="734.5" cy="268.1" r="1.2"/>
<circle cx="725.5" cy="223.9" r="1.2"/>
<circle cx="738.5" cy="262.1" r="1.2"/>
<circle cx="752.0" cy="231.3" r="1.2"/>
<circle cx="764.6" cy="263.4" r="1.2"/>
<circle cx="741.6" cy="227.6" r="1.2"/>
<circle cx="720.5" cy="274.6" r="1.2"/>
<circle cx="706.4" cy="212.6" r="1.2"/>
<circle cx="772.3" cy="198.5" r="1.2"/>
<circle cx="760.7" cy="242.6" r="1.2"/>
<circle cx="741.5" cy="243.6" r="1.2"/>
<circle cx="730.8" cy="245.2" r="1.2"/>
<circle cx="706.7" cy="277.8" r="1.2"/>
<circle cx="707.7" cy="207.5" r="1.2"/>
<circle cx="750.4" cy="252.7" r="1.2"/>
<circle cx="760.5" cy="257.3" r="1.2"/>
<circle cx="769.8" cy="199.7" r="1.2"/>
<circle cx="700.8" cy="216.3" r="1.2"/>
<circle cx="758.4" cy="208.7" r="1.2"/>
<circle cx="739.8" cy="264.3" r="1.2"/>
<circle cx="711.7" cy="242.5" r="1.2"/>
<circle cx="729.8" cy="238.1" r="1.2"/>
<circle cx="720.8" cy="281.5" r="1.2"/>
<circle cx="758.7" cy="256.2" r="1.2"/>
<circle cx="722.8" cy="260.9" r="1.2"/>
<circle cx="736.5" cy="266.8" r="1.2"/>
<circle cx="727.3" cy="274.3" r="1.2"/>
<circle cx="751.3" cy="235.6" r="1.2"/>
<circle cx="742.2" cy="267.4" r="1.2"/>
<circle cx="700.5" cy="275.8" r="1.2"/>
<circle cx="753.6" cy="239.0" r="1.2"/>
<circle cx="763.7" cy="208.4" r="1.2"/>
<circle cx="725.3" cy="259.3" r="1.2"/>
<circle cx="703.4" cy="206.1" r="1.2"/>
<circle cx="705.7" cy="246.3" r="1.2"/>
<circle cx="724.1" cy="218.5" r="1.2"/>
<circle cx="733.6" cy="202.0" r="1.2"/>
<circle cx="741.9" cy="235.0" r="1.2"/>
<circle cx="723.1" cy="249.2" r="1.2"/>
<circle cx="761.9" cy="201.8" r="1.2"/>
<circle cx="709.3" cy="226.1" r="1.2"/>
<circle cx="709.5" cy="233.0" r="1.2"/>
<circle cx="774.0" cy="270.1" r="1.2"/>
<circle cx="771.9" cy="214.9" r="1.2"/>
<circle cx="716.6" cy="197.1" r="1.2"/>
<circle cx="720.5" cy="200.1" r="1.2"/>
<circle cx="739.6" cy="222.1" r="1.2"/>
<circle cx="750.5" cy="245.5" r="1.2"/>
<circle cx="744.8" cy="222.0" r="1.2"/>
<circle cx="755.1" cy="257.0" r="1.2"/>
<circle cx="753.6" cy="237.4" r="1.2"/>
<circle cx="734.8" cy="220.7" r="1.2"/>
<circle cx="703.0" cy="236.9" r="1.2"/>
<circle cx="746.2" cy="211.8" r="1.2"/>
<circle cx="736.6" cy="210.8" r="1.2"/>
<circle cx="720.3" cy="261.4" r="1.2"/>
<circle cx="773.8" cy="205.0" r="1.2"/>
<circle cx="700.5" cy="226.8" r="1.2"/>
<circle cx="726.2" cy="248.8" r="1.2"/>
<circle cx="708.4" cy="270.9" r="1.2"/>
<circle cx="725.4" cy="276.8" r="1.2"/>
<circle cx="724.7" cy="222.5" r="1.2"/>
<circle cx="713.2" cy="281.9" r="1.2"/>
<circle cx="744.2" cy="269.3" r="1.2"/>
<circle cx="704.7" cy="243.9" r="1.2"/>
<circle cx="770.2" cy="204.3" r="1.2"/>
<circle cx="719.0" cy="197.3" r="1.2"/>
<circle cx="771.0" cy="218.7" r="1.2"/>
<circle cx="742.0" cy="227.5" r="1.2"/>
<circle cx="719.3" cy="268.9" r="1.2"/>
<circle cx="701.4" cy="232.5" r="1.2"/>
<circle cx="770.8" cy="217.9" r="1.2"/>
<circle cx="727.5" cy="247.4" r="1.2"/>
<circle cx="717.7" cy="258.8" r="1.2"/>
<circle cx="748.9" cy="203.6" r="1.2"/>
<circle cx="769.0" cy="201.4" r="1.2"/>
<circle cx="752.2" cy="226.4" r="1.2"/>
<circle cx="710.8" cy="202.0" r="1.2"/>
<circle cx="734.4" cy="266.5" r="1.2"/>
<circle cx="739.9" cy="219.7" r="1.2"/>
<circle cx="754.8" cy="255.3" r="1.2"/>
<circle cx="741.9" cy="271.4" r="1.2"/>
<circle cx="714.9" cy="272.3" r="1.2"/>
<circle cx="701.8" cy="243.3" r="1.2"/>
<circle cx="743.1" cy="208.2" r="1.2"/>
<circle cx="713.9" cy="232.0" r="1.2"/>
<circle cx="744.4" cy="233.6" r="1.2"/>
<circle cx="700.2" cy="203.3" r="1.2"/>
<circle cx="753.5" cy="206.9" r="1.2"/>
<circle cx="719.2" cy="267.7" r="1.2"/>
<circle cx="713.1" cy="195.5" r="1.2"/>
<circle cx="756.6" cy="248.9" r="1.2"/>
<circle cx="727.3" cy="196.7" r="1.2"/>
<circle cx="732.4" cy="216.3" r="1.2"/>
<circle cx="715.7" cy="201.8" r="1.2"/>
<circle cx="752.1" cy="204.7" r="1.2"/>
<circle cx="716.7" cy="234.5" r="1.2"/>
<circle cx="774.0" cy="224.2" r="1.2"/>
<circle cx="723.7" cy="237.8" r="1.2"/>
<circle cx="712.2" cy="231.2" r="1.2"/>
<circle cx="752.5" cy="224.2" r="1.2"/>
<circle cx="759.7" cy="211.6" r="1.2"/>
<circle cx="707.6" cy="251.4" r="1.2"/>
<circle cx="734.0" cy="277.6" r="1.2"/>
<circle cx="707.9" cy="262.2" r="1.2"/>
<circle cx="750.2" cy="228.3" r="1.2"/>
<circle cx="709.6" cy="250.1" r="1.2"/>
<circle cx="756.9" cy="237.5" r="1.2"/>
<circle cx="735.4" cy="256.7" r="1.2"/>
<circle cx="745.7" cy="233.1" r="1.2"/>
<circle cx="714.0" cy="236.7" r="1.2"/>
<circle cx="741.2" cy="275.7" r="1.2"/>
<circle cx="724.6" cy="215.0" r="1.2"/>
<circle cx="747.3" cy="261.5" r="1.2"/>
<circle cx="718.6" cy="257.1" r="1.2"/>
<circle cx="774.9" cy="230.2" r="1.2"/>
<circle cx="748.9" cy="273.0" r="1.2"/>
<circle cx="715.3" cy="226.1" r="1.2"/>
<circle cx="773.8" cy="200.9" r="1.2"/>
<circle cx="723.0" cy="237.9" r="1.2"/>
<circle cx="755.9" cy="251.8" r="1.2"/>
<circle cx="769.7" cy="255.3" r="1.2"/>
<circle cx="700.1" cy="201.4" r="1.2"/>
<circle cx="702.7" cy="233.8" r="1.2"/>
<circle cx="702.0" cy="242.3" r="1.2"/>
<circle cx="747.4" cy="213.2" r="1.2"/>
<circle cx="746.5" cy="243.8" r="1.2"/>
<circle cx="719.7" cy="265.2" r="1.2"/>
<circle cx="700.3" cy="217.5" r="1.2"/>
<circle cx="724.1" cy="274.4" r="1.2"/>
<circle cx="737.5" cy="198.3" r="1.2"/>
<circle cx="722.4" cy="249.9" r="1.2"/>
<circle cx="760.7" cy="204.8" r="1.2"/>
<circle cx="758.4" cy="230.2" r="1.2"/>
<circle cx="739.3" cy="232.9" r="1.2"/>
<circle cx="755.2" cy="258.0" r="1.2"/>
<circle cx="710.6" cy="198.2" r="1.2"/>
<circle cx="762.3" cy="255.6" r="1.2"/>
<circle cx="747.3" cy="223.1" r="1.2"/>
<circle cx="720.0" cy="277.9" r="1.2"/>
<circle cx="739.9" cy="196.8" r="1.2"/>
<circle cx="725.5" cy="226.4" r="1.2"/>
<circle cx="705.1" cy="283.0" r="1.2"/>
<circle cx="700.3" cy="232.6" r="1.2"/>
<circle cx="708.4" cy="260.3" r="1.2"/>
<circle cx="760.7" cy="266.0" r="1.2"/>
<circle cx="759.4" cy="205.9" r="1.2"/>
<circle cx="701.0" cy="203.4" r="1.2"/>
<circle cx="738.7" cy="216.1" r="1.2"/>
<circle cx="764.3" cy="205.8" r="1.2"/>
<circle cx="724.4" cy="195.2" r="1.2"/>
<circle cx="757.8" cy="267.1" r="1.2"/>
<circle cx="772.3" cy="202.4" r="1.2"/>
<circle cx="756.3" cy="215.4" r="1.2"/>
<circle cx="724.3" cy="225.7" r="1.2"/>
<circle cx="774.1" cy="200.4" r="1.2"/>
<circle cx="732.6" cy="206.5" r="1.2"/>
<circle cx="752.6" cy="241.8" r="1.2"/>
<circle cx="731.0" cy="262.0" r="1.2"/>
<circle cx="723.2" cy="271.3" r="1.2"/>
<circle cx="755.3" cy="246.6" r="1.2"/>
<circle cx="730.6" cy="246.0" r="1.2"/>
<circle cx="705.8" cy="203.7" r="1.2"/>
<circle cx="723.3" cy="206.1" r="1.2"/>
<circle cx="703.7" cy="259.5" r="1.2"/>
<circle cx="754.9" cy="250.4" r="1.2"/>
<circle cx="715.4" cy="260.0" r="1.2"/>
<circle cx="761.9" cy="250.7" r="1.2"/>
<circle cx="717.1" cy="245.8" r="1.2"/>
<circle cx="729.6" cy="219.2" r="1.2"/>
<circle cx="711.1" cy="272.8" r="1.2"/>
<circle cx="712.9" cy="218.8" r="1.2"/>
<circle cx="738.2" cy="200.3" r="1.2"/>
<circle cx="722.7" cy="243.6" r="1.2"/>
<circle cx="736.1" cy="276.9" r="1.2"/>
<circle cx="743.3" cy="252.4" r="1.2"/>
<circle cx="743.9" cy="265.7" r="1.2"/>
<circle cx="727.5" cy="195.1" r="1.2"/>
<circle cx="773.5" cy="266.3" r="1.2"/>
<circle cx="709.5" cy="205.1" r="1.2"/>
<circle cx="716.7" cy="254.2" r="1.2"/>
<circle cx="709.8" cy="196.8" r="1.2"/>
<circle cx="737.1" cy="195.6" r="1.2"/>
<circle cx="719.4" cy="229.4" r="1.2"/>
<circle cx="715.4" cy="195.2" r="1.2"/>
<circle cx="719.5" cy="216.9" r="1.2"/>
<circle cx="724.3" cy="232.3" r="1.2"/>
<circle cx="727.0" cy="224.2" r="1.2"/>
<circle cx="701.4" cy="270.4" r="1.2"/>
<circle cx="755.4" cy="239.4" r="1.2"/>
<circle cx="700.2" cy="216.0" r="1.2"/>
<circle cx="715.4" cy="268.8" r="1.2"/>
<circle cx="766.9" cy="206.0" r="1.2"/>
<circle cx="737.6" cy="245.5" r="1.2"/>
<circle cx="708.8" cy="223.7" r="1.2"/>
<circle cx="746.4" cy="255.6" r="1.2"/>
<circle cx="747.1" cy="250.8" r="1.2"/>
<circle cx="728.3" cy="201.2" r="1.2"/>
<circle cx="701.2" cy="270.4" r="1.2"/>
<circle cx="705.7" cy="264.2" r="1.2"/>
<circle cx="712.9" cy="226.2" r="1.2"/>
<circle cx="715.0" cy="272.4" r="1.2"/>
<circle cx="728.6" cy="279.2" r="1.2"/>
<circle cx="719.5" cy="246.7" r="1.2"/>
<circle cx="750.5" cy="216.0" r="1.2"/>
<circle cx="750.3" cy="211.5" r="1.2"/>
<circle cx="740.4" cy="223.1" r="1.2"/>
<circle cx="760.6" cy="246.4" r="1.2"/>
<circle cx="756.0" cy="260.5" r="1.2"/>
<circle cx="744.7" cy="214.6" r="1.2"/>
<circle cx="738.1" cy="227.8" r="1.2"/>
<circle cx="738.5" cy="219.2" r="1.2"/>
<circle cx="758.7" cy="239.4" r="1.2"/>
<circle cx="736.1" cy="211.1" r="1.2"/>
<circle cx="757.6" cy="244.1" r="1.2"/>
<circle cx="738.2" cy="255.2" r="1.2"/>
<circle cx="744.6" cy="243.3" r="1.2"/>
<circle cx="756.2" cy="227.1" r="1.2"/>
<circle cx="751.9" cy="240.1" r="1.2"/>
<circle cx="765.8" cy="240.0" r="1.2"/>
<circle cx="763.7" cy="246.5" r="1.2"/>
<circle cx="773.4" cy="268.1" r="1.2"/>
<circle cx="757.7" cy="233.6" r="1.2"/>
<circle cx="744.2" cy="255.8" r="1.2"/>
<circle cx="743.8" cy="251.1" r="1.2"/>
<circle cx="754.6" cy="232.7" r="1.2"/>
<circle cx="763.3" cy="252.1" r="1.2"/>
<circle cx="761.8" cy="237.2" r="1.2"/>
<circle cx="749.3" cy="206.7" r="1.2"/>
<circle cx="753.8" cy="239.6" r="1.2"/>
<circle cx="747.3" cy="211.8" r="1.2"/>
<circle cx="754.4" cy="209.6" r="1.2"/>
<circle cx="741.9" cy="233.9" r="1.2"/>
<circle cx="748.9" cy="237.5" r="1.2"/>
<circle cx="756.2" cy="230.3" r="1.2"/>
<circle cx="740.3" cy="206.2" r="1.2"/>
<circle cx="757.4" cy="268.1" r="1.2"/>
<circle cx="746.3" cy="227.9" r="1.2"/>
<circle cx="747.8" cy="253.3" r="1.2"/>
<circle cx="754.7" cy="256.7" r="1.2"/>
<circle cx="735.2" cy="213.6" r="1.2"/>
<circle cx="743.2" cy="229.0" r="1.2"/>
<circle cx="751.0" cy="230.0" r="1.2"/>
<circle cx="758.0" cy="267.6" r="1.2"/>
<circle cx="760.7" cy="243.7" r="1.2"/>
<circle cx="736.4" cy="267.2" r="1.2"/>
<circle cx="756.4" cy="242.8" r="1.2"/>
<circle cx="737.7" cy="253.4" r="1.2"/>
<circle cx="750.0" cy="246.8" r="1.2"/>
<circle cx="746.3" cy="264.7" r="1.2"/>
<circle cx="749.8" cy="222.9" r="1.2"/>
<circle cx="770.8" cy="219.5" r="1.2"/>
<circle cx="745.8" cy="236.7" r="1.2"/>
<circle cx="774.2" cy="212.5" r="1.2"/>
<circle cx="743.4" cy="256.7" r="1.2"/>
<circle cx="738.0" cy="231.9" r="1.2"/>
<circle cx="766.3" cy="251.3" r="1.2"/>
<circle cx="766.7" cy="212.6" r="1.2"/>
<circle cx="745.3" cy="214.8" r="1.2"/>
<circle cx="754.9" cy="208.2" r="1.2"/>
<circle cx="741.6" cy="261.9" r="1.2"/>
<circle cx="758.0" cy="261.1" r="1.2"/>
<circle cx="741.0" cy="236.2" r="1.2"/>
<circle cx="753.7" cy="212.0" r="1.2"/>
<circle cx="745.5" cy="264.9" r="1.2"/>
<circle cx="763.9" cy="238.1" r="1.2"/>
<circle cx="759.4" cy="261.0" r="1.2"/>
<circle cx="737.0" cy="261.7" r="1.2"/>
<circle cx="741.6" cy="220.6" r="1.2"/>
<circle cx="740.5" cy="238.3" r="1.2"/>
<circle cx="758.3" cy="234.9" r="1.2"/>
<circle cx="753.8" cy="214.2" r="1.2"/>
<circle cx="763.7" cy="239.9" r="1.2"/>
<circle cx="747.4" cy="259.2" r="1.2"/>
<circle cx="772.6" cy="265.0" r="1.2"/>
<circle cx="774.4" cy="209.5" r="1.2"/>
<circle cx="750.5" cy="234.2" r="1.2"/>
<circle cx="745.3" cy="253.3" r="1.2"/>
<circle cx="771.2" cy="214.0" r="1.2"/>
<circle cx="755.2" cy="267.9" r="1.2"/>
<circle cx="739.2" cy="234.7" r="1.2"/>
<circle cx="755.7" cy="256.1" r="1.2"/>
<circle cx="742.4" cy="223.2" r="1.2"/>
<circle cx="774.4" cy="205.8" r="1.2"/>
<circle cx="759.4" cy="211.2" r="1.2"/>
<circle cx="772.0" cy="219.5" r="1.2"/>
<circle cx="736.9" cy="210.6" r="1.2"/>
<circle cx="738.0" cy="230.3" r="1.2"/>
<circle cx="773.9" cy="228.1" r="1.2"/>
<circle cx="763.7" cy="207.2" r="1.2"/>
<circle cx="755.6" cy="240.1" r="1.2"/>
<circle cx="738.9" cy="242.7" r="1.2"/>
<circle cx="752.8" cy="226.3" r="1.2"/>
<circle cx="768.2" cy="249.9" r="1.2"/>
<circle cx="739.8" cy="211.9" r="1.2"/>
<circle cx="737.1" cy="222.1" r="1.2"/>
<circle cx="760.5" cy="267.9" r="1.2"/>
<circle cx="740.0" cy="256.5" r="1.2"/>
<circle cx="739.7" cy="219.0" r="1.2"/>
<circle cx="740.2" cy="244.7" r="1.2"/>
<circle cx="760.0" cy="260.8" r="1.2"/>
<circle cx="735.4" cy="205.6" r="1.2"/>
<circle cx="773.9" cy="222.0" r="1.2"/>
<circle cx="745.6" cy="261.3" r="1.2"/>
<circle cx="739.5" cy="256.5" r="1.2"/>
<circle cx="759.3" cy="205.4" r="1.2"/>
<circle cx="759.3" cy="244.9" r="1.2"/>
<circle cx="739.6" cy="219.5" r="1.2"/>
<circle cx="761.1" cy="210.2" r="1.2"/>
<circle cx="739.3" cy="221.3" r="1.2"/>
<circle cx="749.3" cy="267.6" r="1.2"/>
<circle cx="757.6" cy="260.6" r="1.2"/>
<circle cx="749.7" cy="233.2" r="1.2"/>
<circle cx="758.1" cy="269.2" r="1.2"/>
<circle cx="753.9" cy="251.3" r="1.2"/>
<circle cx="735.8" cy="238.0" r="1.2"/>
<circle cx="747.6" cy="243.9" r="1.2"/>
<circle cx="745.2" cy="238.2" r="1.2"/>
<circle cx="749.2" cy="221.5" r="1.2"/>
<circle cx="772.5" cy="221.1" r="1.2"/>
<circle cx="737.8" cy="246.1" r="1.2"/>
<circle cx="736.0" cy="260.7" r="1.2"/>
<circle cx="752.7" cy="249.4" r="1.2"/>
<circle cx="741.4" cy="228.7" r="1.2"/>
<circle cx="766.5" cy="249.2" r="1.2"/>
<circle cx="758.4" cy="211.7" r="1.2"/>
<circle cx="743.7" cy="221.7" r="1.2"/>
<circle cx="651.7" cy="230.2" r="1.2"/>
<circle cx="681.5" cy="245.8" r="1.2"/>
<circle cx="680.5" cy="245.5" r="1.2"/>
<circle cx="675.8" cy="223.5" r="1.2"/>
<circle cx="665.5" cy="220.5" r="1.2"/>
<circle cx="701.5" cy="221.8" r="1.2"/>
<circle cx="650.1" cy="214.5" r="1.2"/>
<circle cx="660.9" cy="229.3" r="1.2"/>
<circle cx="678.0" cy="221.2" r="1.2"/>
<circle cx="701.0" cy="236.9" r="1.2"/>
<circle cx="654.8" cy="196.7" r="1.2"/>
<circle cx="688.5" cy="227.8" r="1.2"/>
<circle cx="685.9" cy="222.5" r="1.2"/>
<circle cx="652.0" cy="219.8" r="1.2"/>
<circle cx="696.0" cy="228.1" r="1.2"/>
<circle cx="697.2" cy="276.2" r="1.2"/>
<circle cx="741.2" cy="313.3" r="1.2"/>
<circle cx="727.3" cy="310.4" r="1.2"/>
<circle cx="699.4" cy="293.2" r="1.2"/>
<circle cx="730.2" cy="270.4" r="1.2"/>
<circle cx="738.8" cy="275.3" r="1.2"/>
<circle cx="723.8" cy="279.1" r="1.2"/>
<circle cx="711.6" cy="277.5" r="1.2"/>
<circle cx="718.2" cy="272.3" r="1.2"/>
<circle cx="727.8" cy="302.3" r="1.2"/>
<circle cx="740.2" cy="308.4" r="1.2"/>
<circle cx="719.6" cy="274.1" r="1.2"/>
<circle cx="730.2" cy="278.7" r="1.2"/>
<circle cx="711.3" cy="303.1" r="1.2"/>
<circle cx="708.8" cy="291.0" r="1.2"/>
<circle cx="702.9" cy="294.2" r="1.2"/>
<circle cx="727.9" cy="273.3" r="1.2"/>
<circle cx="710.3" cy="274.3" r="1.2"/>
<circle cx="733.9" cy="272.4" r="1.2"/>
<circle cx="730.2" cy="301.0" r="1.2"/>
<circle cx="719.1" cy="303.2" r="1.2"/>
<circle cx="721.1" cy="279.2" r="1.2"/>
<circle cx="729.8" cy="276.4" r="1.2"/>
<circle cx="710.5" cy="312.6" r="1.2"/>
<circle cx="723.4" cy="295.6" r="1.2"/>
<circle cx="714.2" cy="297.6" r="1.2"/>
<circle cx="740.4" cy="302.7" r="1.2"/>
<circle cx="709.1" cy="310.2" r="1.2"/>
<circle cx="727.6" cy="300.2" r="1.2"/>
<circle cx="732.9" cy="312.0" r="1.2"/>
<circle cx="707.7" cy="290.5" r="1.2"/>
<circle cx="713.1" cy="273.9" r="1.2"/>
<circle cx="738.8" cy="304.3" r="1.2"/>
<circle cx="719.5" cy="297.3" r="1.2"/>
<circle cx="739.0" cy="273.5" r="1.2"/>
<circle cx="712.9" cy="304.3" r="1.2"/>
<circle cx="721.7" cy="294.9" r="1.2"/>
<circle cx="707.9" cy="281.1" r="1.2"/>
<circle cx="720.7" cy="275.2" r="1.2"/>
<circle cx="713.0" cy="273.7" r="1.2"/>
<circle cx="737.8" cy="273.4" r="1.2"/>
<circle cx="786.3" cy="195.4" r="1.2"/>
<circle cx="808.9" cy="227.4" r="1.2"/>
<circle cx="798.1" cy="231.9" r="1.2"/>
<circle cx="777.9" cy="233.0" r="1.2"/>
<circle cx="809.1" cy="209.5" r="1.2"/>
<circle cx="773.1" cy="211.4" r="1.2"/>
<circle cx="812.7" cy="221.6" r="1.2"/>
<circle cx="793.0" cy="242.9" r="1.2"/>
<circle cx="777.3" cy="220.3" r="1.2"/>
<circle cx="809.9" cy="216.6" r="1.2"/>
<circle cx="779.5" cy="201.6" r="1.2"/>
<circle cx="806.1" cy="197.0" r="1.2"/>
<circle cx="805.9" cy="227.6" r="1.2"/>
<circle cx="775.6" cy="202.3" r="1.2"/>
<circle cx="777.2" cy="229.1" r="1.2"/>
<circle cx="810.5" cy="228.8" r="1.2"/>
<circle cx="774.6" cy="213.2" r="1.2"/>
<circle cx="780.5" cy="201.4" r="1.2"/>
<circle cx="813.7" cy="225.8" r="1.2"/>
<circle cx="780.5" cy="227.4" r="1.2"/>
<circle cx="774.0" cy="219.3" r="1.2"/>
<circle cx="781.6" cy="226.7" r="1.2"/>
<circle cx="771.6" cy="199.1" r="1.2"/>
<circle cx="775.6" cy="218.6" r="1.2"/>
<circle cx="814.1" cy="224.0" r="1.2"/>
<circle cx="812.0" cy="213.9" r="1.2"/>
<circle cx="780.0" cy="196.7" r="1.2"/>
<circle cx="806.8" cy="203.1" r="1.2"/>
<circle cx="771.1" cy="203.2" r="1.2"/>
<circle cx="811.8" cy="218.8" r="1.2"/>
<circle cx="773.8" cy="224.0" r="1.2"/>
<circle cx="781.0" cy="230.1" r="1.2"/>
<circle cx="778.7" cy="229.5" r="1.2"/>
<circle cx="800.9" cy="230.6" r="1.2"/>
<circle cx="808.2" cy="225.0" r="1.2"/>
<circle cx="810.1" cy="217.7" r="1.2"/>
<circle cx="770.7" cy="218.2" r="1.2"/>
<circle cx="807.7" cy="228.9" r="1.2"/>
<circle cx="808.1" cy="222.1" r="1.2"/>
<circle cx="774.6" cy="222.0" r="1.2"/>
<circle cx="779.2" cy="232.5" r="1.2"/>
<circle cx="810.4" cy="219.0" r="1.2"/>
<circle cx="812.9" cy="204.3" r="1.2"/>
<circle cx="773.2" cy="205.3" r="1.2"/>
<circle cx="781.7" cy="224.9" r="1.2"/>
<circle cx="775.6" cy="221.0" r="1.2"/>
<circle cx="807.2" cy="225.8" r="1.2"/>
<circle cx="805.2" cy="235.5" r="1.2"/>
<circle cx="773.1" cy="215.8" r="1.2"/>
<circle cx="813.6" cy="223.0" r="1.2"/>
<circle cx="780.0" cy="196.7" r="1.2"/>
<circle cx="808.1" cy="203.1" r="1.2"/>
<circle cx="774.2" cy="218.6" r="1.2"/>
<circle cx="794.6" cy="243.3" r="1.2"/>
<circle cx="812.2" cy="203.6" r="1.2"/>
<circle cx="808.4" cy="223.7" r="1.2"/>
<circle cx="811.4" cy="199.4" r="1.2"/>
<circle cx="812.4" cy="220.4" r="1.2"/>
<circle cx="806.1" cy="224.2" r="1.2"/>
<circle cx="807.5" cy="198.6" r="1.2"/>
<circle cx="810.1" cy="229.3" r="1.2"/>
<circle cx="793.3" cy="240.1" r="1.2"/>
<circle cx="806.7" cy="228.5" r="1.2"/>
<circle cx="812.3" cy="229.9" r="1.2"/>
<circle cx="770.4" cy="217.2" r="1.2"/>
<circle cx="770.2" cy="208.2" r="1.2"/>
<circle cx="803.9" cy="204.6" r="1.2"/>
<circle cx="799.0" cy="229.5" r="1.2"/>
<circle cx="732.5" cy="368.1" r="1.2"/>
<circle cx="724.1" cy="350.9" r="1.2"/>
<circle cx="788.9" cy="328.4" r="1.2"/>
<circle cx="731.6" cy="362.4" r="1.2"/>
<circle cx="772.3" cy="352.9" r="1.2"/>
<circle cx="777.7" cy="363.7" r="1.2"/>
<circle cx="726.9" cy="359.5" r="1.2"/>
<circle cx="753.8" cy="358.2" r="1.2"/>
<circle cx="792.0" cy="328.2" r="1.2"/>
<circle cx="706.7" cy="336.2" r="1.2"/>
<circle cx="725.4" cy="350.7" r="1.2"/>
<circle cx="712.3" cy="341.5" r="1.2"/>
<circle cx="787.9" cy="322.8" r="1.2"/>
<circle cx="765.1" cy="339.5" r="1.2"/>
<circle cx="767.2" cy="335.0" r="1.2"/>
<circle cx="769.1" cy="360.4" r="1.2"/>
<circle cx="759.1" cy="352.0" r="1.2"/>
<circle cx="727.8" cy="353.6" r="1.2"/>
<circle cx="752.1" cy="376.6" r="1.2"/>
<circle cx="750.8" cy="357.9" r="1.2"/>
<circle cx="757.9" cy="349.9" r="1.2"/>
<circle cx="750.9" cy="364.7" r="1.2"/>
<circle cx="778.4" cy="364.2" r="1.2"/>
<circle cx="792.5" cy="330.4" r="1.2"/>
<circle cx="717.7" cy="351.0" r="1.2"/>
<circle cx="768.6" cy="341.3" r="1.2"/>
<circle cx="714.1" cy="344.8" r="1.2"/>
<circle cx="778.9" cy="355.4" r="1.2"/>
<circle cx="772.3" cy="353.0" r="1.2"/>
<circle cx="785.1" cy="365.7" r="1.2"/>
<circle cx="764.0" cy="365.1" r="1.2"/>
<circle cx="751.9" cy="362.3" r="1.2"/>
<circle cx="754.7" cy="346.9" r="1.2"/>
<circle cx="722.1" cy="340.3" r="1.2"/>
<circle cx="745.6" cy="375.0" r="1.2"/>
<circle cx="740.1" cy="377.4" r="1.2"/>
<circle cx="760.6" cy="379.8" r="1.2"/>
<circle cx="756.9" cy="380.0" r="1.2"/>
<circle cx="753.9" cy="378.7" r="1.2"/>
<circle cx="757.9" cy="380.3" r="1.2"/>
<circle cx="744.9" cy="375.4" r="1.2"/>
<circle cx="754.2" cy="378.5" r="1.2"/>
<circle cx="735.0" cy="375.4" r="1.2"/>
<circle cx="748.5" cy="376.8" r="1.2"/>
<circle cx="754.6" cy="376.8" r="1.2"/>
<circle cx="752.0" cy="377.3" r="1.2"/>
<circle cx="739.1" cy="375.5" r="1.2"/>
<circle cx="757.8" cy="379.8" r="1.2"/>
<circle cx="794.4" cy="321.8" r="1.2"/>
<circle cx="788.4" cy="327.0" r="1.2"/>
<circle cx="788.2" cy="319.4" r="1.2"/>
<circle cx="782.5" cy="308.4" r="1.2"/>
<circle cx="778.4" cy="293.7" r="1.2"/>
<circle cx="780.2" cy="306.0" r="1.2"/>
<circle cx="784.6" cy="323.1" r="1.2"/>
<circle cx="776.8" cy="295.9" r="1.2"/>
<circle cx="814.8" cy="431.4" r="1.2"/>
<circle cx="787.2" cy="434.5" r="1.2"/>
<circle cx="785.8" cy="461.9" r="1.2"/>
<circle cx="842.3" cy="457.5" r="1.2"/>
<circle cx="804.0" cy="432.4" r="1.2"/>
<circle cx="804.0" cy="428.5" r="1.2"/>
<circle cx="793.7" cy="432.2" r="1.2"/>
<circle cx="757.6" cy="454.0" r="1.2"/>
<circle cx="807.3" cy="404.3" r="1.2"/>
<circle cx="768.1" cy="430.6" r="1.2"/>
<circle cx="777.0" cy="457.2" r="1.2"/>
<circle cx="782.2" cy="462.1" r="1.2"/>
<circle cx="757.3" cy="447.3" r="1.2"/>
<circle cx="841.7" cy="394.3" r="1.2"/>
<circle cx="803.0" cy="408.5" r="1.2"/>
<circle cx="833.2" cy="438.9" r="1.2"/>
<circle cx="752.9" cy="468.7" r="1.2"/>
<circle cx="835.5" cy="430.1" r="1.2"/>
<circle cx="768.0" cy="443.4" r="1.2"/>
<circle cx="816.4" cy="434.1" r="1.2"/>
<circle cx="834.2" cy="473.4" r="1.2"/>
<circle cx="862.7" cy="442.5" r="1.2"/>
<circle cx="841.9" cy="447.0" r="1.2"/>
<circle cx="853.6" cy="461.6" r="1.2"/>
<circle cx="856.1" cy="456.9" r="1.2"/>
<circle cx="830.0" cy="443.9" r="1.2"/>
<circle cx="853.4" cy="462.6" r="1.2"/>
<circle cx="825.6" cy="468.0" r="1.2"/>
<circle cx="831.9" cy="453.1" r="1.2"/>
<circle cx="839.7" cy="462.6" r="1.2"/>
<circle cx="839.4" cy="457.9" r="1.2"/>
<circle cx="833.4" cy="475.6" r="1.2"/>
<circle cx="829.7" cy="440.4" r="1.2"/>
<circle cx="852.4" cy="456.1" r="1.2"/>
<circle cx="839.5" cy="453.7" r="1.2"/>
<circle cx="837.0" cy="466.4" r="1.2"/>
<circle cx="843.7" cy="454.7" r="1.2"/>
<circle cx="822.7" cy="471.5" r="1.2"/>
<circle cx="820.8" cy="446.5" r="1.2"/>
<circle cx="820.8" cy="467.7" r="1.2"/>
<circle cx="843.5" cy="451.4" r="1.2"/>
<circle cx="843.6" cy="440.2" r="1.2"/>
<circle cx="859.9" cy="443.5" r="1.2"/>
<circle cx="849.5" cy="465.4" r="1.2"/>
<circle cx="825.2" cy="481.1" r="1.2"/>
<circle cx="854.0" cy="459.5" r="1.2"/>
<circle cx="822.6" cy="467.0" r="1.2"/>
<circle cx="835.4" cy="470.3" r="1.2"/>
<circle cx="853.1" cy="459.1" r="1.2"/>
<circle cx="554.2" cy="419.7" r="1.2"/>
<circle cx="557.1" cy="434.4" r="1.2"/>
<circle cx="554.8" cy="425.7" r="1.2"/>
<circle cx="557.6" cy="429.3" r="1.2"/>
<circle cx="554.6" cy="421.9" r="1.2"/>
<circle cx="559.7" cy="416.6" r="1.2"/>
<circle cx="553.4" cy="425.5" r="1.2"/>
<circle cx="551.8" cy="421.5" r="1.2"/>
<circle cx="562.2" cy="419.3" r="1.2"/>
<circle cx="563.8" cy="424.3" r="1.2"/>
</g>
<g class="cd">
<circle cx="757.2" cy="341.0" r="3.3" fill="url(#gB)" stroke="#7c9be0"/>
<circle cx="666.4" cy="258.5" r="3.3" fill="url(#gO)" stroke="#d8a870"/>
<circle cx="648.4" cy="263.7" r="3.3" fill="url(#gO)" stroke="#d8a870"/>
<circle cx="630.4" cy="243.6" r="3.3" fill="url(#gO)" stroke="#d8a870"/>
<circle cx="518.6" cy="257.5" r="3.3" fill="url(#gO)" stroke="#d8a870"/>
<circle cx="776.1" cy="231.1" r="3.3" fill="url(#gB)" stroke="#7c9be0"/>
<circle cx="580.7" cy="162.8" r="3.3" fill="url(#gT)" stroke="#94cbd0"/>
<circle cx="177.1" cy="197.5" r="3.3" fill="url(#gT)" stroke="#94cbd0"/>
<circle cx="203.2" cy="312.1" r="3.3" fill="url(#gO)" stroke="#d8a870"/>
<circle cx="134.1" cy="168.0" r="3.3" fill="url(#gT)" stroke="#94cbd0"/>
<circle cx="169.4" cy="180.0" r="3.3" fill="url(#gT)" stroke="#94cbd0"/>
<circle cx="563.8" cy="238.3" r="3.3" fill="url(#gO)" stroke="#d8a870"/>
<circle cx="650.0" cy="159.1" r="3.3" fill="url(#gT)" stroke="#94cbd0"/>
<circle cx="519.1" cy="220.6" r="3.3" fill="url(#gO)" stroke="#d8a870"/>
<circle cx="738.0" cy="279.5" r="3.3" fill="url(#gB)" stroke="#7c9be0"/>
<circle cx="584.2" cy="220.5" r="3.3" fill="url(#gO)" stroke="#d8a870"/>
<circle cx="649.9" cy="301.8" r="3.3" fill="url(#gO)" stroke="#d8a870"/>
<circle cx="560.6" cy="164.9" r="3.3" fill="url(#gT)" stroke="#94cbd0"/>
<circle cx="570.5" cy="235.1" r="3.3" fill="url(#gO)" stroke="#d8a870"/>
<circle cx="401.3" cy="305.6" r="3.3" fill="url(#gO)" stroke="#d8a870"/>
<circle cx="491.9" cy="205.8" r="3.3" fill="url(#gM)" stroke="#c05491"/>
<circle cx="544.0" cy="213.1" r="3.3" fill="url(#gM)" stroke="#c05491"/>
<circle cx="448.0" cy="334.5" r="3.3" fill="url(#gB)" stroke="#7c9be0"/>
<circle cx="648.0" cy="304.0" r="3.3" fill="url(#gO)" stroke="#d8a870"/>
<circle cx="218.6" cy="466.5" r="3.3" fill="url(#gG)" stroke="#62b890"/>
<circle cx="148.9" cy="172.4" r="3.3" fill="url(#gT)" stroke="#94cbd0"/>
<circle cx="675.9" cy="259.5" r="3.3" fill="url(#gB)" stroke="#7c9be0"/>
<circle cx="448.9" cy="333.1" r="3.3" fill="url(#gB)" stroke="#7c9be0"/>
<circle cx="438.9" cy="331.0" r="3.3" fill="url(#gB)" stroke="#7c9be0"/>
<circle cx="118.5" cy="242.8" r="3.3" fill="url(#gO)" stroke="#d8a870"/>
<circle cx="527.1" cy="155.6" r="3.3" fill="url(#gT)" stroke="#94cbd0"/>
<circle cx="569.4" cy="241.6" r="3.3" fill="url(#gO)" stroke="#d8a870"/>
<circle cx="511.2" cy="248.0" r="3.3" fill="url(#gO)" stroke="#d8a870"/>
<circle cx="510.2" cy="255.0" r="3.3" fill="url(#gO)" stroke="#d8a870"/>
<circle cx="582.1" cy="267.0" r="3.3" fill="url(#gO)" stroke="#d8a870"/>
<circle cx="543.3" cy="174.7" r="3.3" fill="url(#gT)" stroke="#94cbd0"/>
<circle cx="194.6" cy="330.6" r="3.3" fill="url(#gG)" stroke="#62b890"/>
<circle cx="106.0" cy="262.8" r="3.3" fill="url(#gO)" stroke="#d8a870"/>
<circle cx="656.0" cy="291.0" r="3.3" fill="url(#gO)" stroke="#d8a870"/>
<circle cx="409.1" cy="329.3" r="3.3" fill="url(#gG)" stroke="#62b890"/>
<circle cx="646.3" cy="271.2" r="3.3" fill="url(#gO)" stroke="#d8a870"/>
<circle cx="406.7" cy="234.8" r="3.3" fill="url(#gO)" stroke="#d8a870"/>
<circle cx="566.2" cy="227.9" r="3.3" fill="url(#gO)" stroke="#d8a870"/>
<circle cx="548.1" cy="151.8" r="3.3" fill="url(#gT)" stroke="#94cbd0"/>
<circle cx="275.5" cy="424.3" r="3.3" fill="url(#gG)" stroke="#62b890"/>
<circle cx="579.6" cy="158.0" r="3.3" fill="url(#gT)" stroke="#94cbd0"/>
<circle cx="207.3" cy="191.4" r="3.3" fill="url(#gT)" stroke="#94cbd0"/>
<circle cx="553.0" cy="253.8" r="3.3" fill="url(#gO)" stroke="#d8a870"/>
<circle cx="516.5" cy="263.9" r="3.3" fill="url(#gO)" stroke="#d8a870"/>
<circle cx="506.9" cy="224.7" r="3.3" fill="url(#gO)" stroke="#d8a870"/>
<circle cx="583.1" cy="257.5" r="3.3" fill="url(#gO)" stroke="#d8a870"/>
<circle cx="662.1" cy="254.2" r="3.3" fill="url(#gB)" stroke="#7c9be0"/>
<circle cx="653.7" cy="260.0" r="3.3" fill="url(#gO)" stroke="#d8a870"/>
<circle cx="459.5" cy="310.9" r="3.3" fill="url(#gO)" stroke="#d8a870"/>
<circle cx="646.3" cy="254.2" r="3.3" fill="url(#gO)" stroke="#d8a870"/>
<circle cx="567.5" cy="168.1" r="3.3" fill="url(#gT)" stroke="#94cbd0"/>
<circle cx="659.0" cy="279.1" r="3.3" fill="url(#gO)" stroke="#d8a870"/>
<circle cx="387.5" cy="330.6" r="3.3" fill="url(#gB)" stroke="#7c9be0"/>
<circle cx="759.4" cy="336.8" r="3.3" fill="url(#gB)" stroke="#7c9be0"/>
<circle cx="539.7" cy="219.4" r="3.3" fill="url(#gO)" stroke="#d8a870"/>
<circle cx="721.3" cy="328.7" r="3.3" fill="url(#gG)" stroke="#62b890"/>
<circle cx="668.0" cy="268.5" r="3.3" fill="url(#gO)" stroke="#d8a870"/>
<circle cx="514.8" cy="214.2" r="3.3" fill="url(#gM)" stroke="#c05491"/>
<circle cx="520.2" cy="223.6" r="3.3" fill="url(#gO)" stroke="#d8a870"/>
<circle cx="474.0" cy="207.2" r="3.3" fill="url(#gM)" stroke="#c05491"/>
<circle cx="657.6" cy="294.1" r="3.3" fill="url(#gO)" stroke="#d8a870"/>
<circle cx="625.7" cy="243.1" r="3.3" fill="url(#gO)" stroke="#d8a870"/>
<circle cx="99.6" cy="226.5" r="3.3" fill="url(#gO)" stroke="#d8a870"/>
<circle cx="738.0" cy="374.5" r="3.3" fill="url(#gB)" stroke="#7c9be0"/>
<circle cx="731.9" cy="280.0" r="3.3" fill="url(#gB)" stroke="#7c9be0"/>
<circle cx="105.8" cy="223.9" r="3.3" fill="url(#gO)" stroke="#d8a870"/>
<circle cx="651.6" cy="282.8" r="3.3" fill="url(#gO)" stroke="#d8a870"/>
<circle cx="572.5" cy="215.2" r="3.3" fill="url(#gO)" stroke="#d8a870"/>
<circle cx="486.2" cy="190.4" r="3.3" fill="url(#gM)" stroke="#c05491"/>
<circle cx="442.0" cy="226.0" r="3.3" fill="url(#gO)" stroke="#d8a870"/>
<circle cx="724.2" cy="279.1" r="3.3" fill="url(#gB)" stroke="#7c9be0"/>
<circle cx="662.0" cy="288.0" r="3.3" fill="url(#gO)" stroke="#d8a870"/>
<circle cx="502.5" cy="119.8" r="3.3" fill="url(#gT)" stroke="#94cbd0"/>
<circle cx="740.6" cy="277.5" r="3.3" fill="url(#gB)" stroke="#7c9be0"/>
<circle cx="216.4" cy="198.8" r="3.3" fill="url(#gT)" stroke="#94cbd0"/>
<circle cx="524.9" cy="222.6" r="3.3" fill="url(#gO)" stroke="#d8a870"/>
<circle cx="575.7" cy="241.6" r="3.3" fill="url(#gO)" stroke="#d8a870"/>
<circle cx="511.2" cy="246.3" r="3.3" fill="url(#gO)" stroke="#d8a870"/>
<circle cx="633.1" cy="178.7" r="3.3" fill="url(#gT)" stroke="#94cbd0"/>
<circle cx="131.3" cy="282.4" r="3.3" fill="url(#gM)" stroke="#c05491"/>
<circle cx="494.4" cy="304.6" r="3.3" fill="url(#gO)" stroke="#d8a870"/>
<circle cx="541.9" cy="225.8" r="3.3" fill="url(#gO)" stroke="#d8a870"/>
<circle cx="444.8" cy="319.2" r="3.3" fill="url(#gO)" stroke="#d8a870"/>
<circle cx="165.6" cy="190.2" r="3.3" fill="url(#gT)" stroke="#94cbd0"/>
<circle cx="442.5" cy="313.0" r="3.3" fill="url(#gO)" stroke="#d8a870"/>
<circle cx="655.1" cy="300.5" r="3.3" fill="url(#gO)" stroke="#d8a870"/>
<circle cx="559.8" cy="246.9" r="3.3" fill="url(#gO)" stroke="#d8a870"/>
<circle cx="638.8" cy="253.0" r="3.3" fill="url(#gO)" stroke="#d8a870"/>
<circle cx="200.1" cy="328.1" r="3.3" fill="url(#gB)" stroke="#7c9be0"/>
<circle cx="737.1" cy="277.5" r="3.3" fill="url(#gB)" stroke="#7c9be0"/>
<circle cx="436.2" cy="326.8" r="3.3" fill="url(#gG)" stroke="#62b890"/>
<circle cx="608.3" cy="242.8" r="3.3" fill="url(#gO)" stroke="#d8a870"/>
<circle cx="544.0" cy="228.9" r="3.3" fill="url(#gO)" stroke="#d8a870"/>
<circle cx="431.9" cy="240.0" r="3.3" fill="url(#gO)" stroke="#d8a870"/>
<circle cx="173.3" cy="196.9" r="3.3" fill="url(#gT)" stroke="#94cbd0"/>
<circle cx="637.8" cy="261.6" r="3.3" fill="url(#gO)" stroke="#d8a870"/>
<circle cx="629.0" cy="246.0" r="3.3" fill="url(#gO)" stroke="#d8a870"/>
<circle cx="538.9" cy="199.4" r="3.3" fill="url(#gM)" stroke="#c05491"/>
<circle cx="481.1" cy="187.5" r="3.3" fill="url(#gM)" stroke="#c05491"/>
<circle cx="565.1" cy="415.0" r="3.3" fill="url(#gB)" stroke="#7c9be0"/>
<circle cx="802.8" cy="190.0" r="3.3" fill="url(#gT)" stroke="#94cbd0"/>
<circle cx="636.0" cy="249.0" r="3.3" fill="url(#gO)" stroke="#d8a870"/>
<circle cx="480.1" cy="206.7" r="3.3" fill="url(#gM)" stroke="#c05491"/>
<circle cx="604.5" cy="219.7" r="3.3" fill="url(#gO)" stroke="#d8a870"/>
<circle cx="131.3" cy="241.5" r="3.3" fill="url(#gO)" stroke="#d8a870"/>
<circle cx="446.8" cy="312.0" r="3.3" fill="url(#gO)" stroke="#d8a870"/>
<circle cx="225.3" cy="195.6" r="3.3" fill="url(#gT)" stroke="#94cbd0"/>
<circle cx="553.7" cy="241.9" r="3.3" fill="url(#gO)" stroke="#d8a870"/>
<circle cx="287.7" cy="360.8" r="3.3" fill="url(#gB)" stroke="#7c9be0"/>
<circle cx="641.0" cy="279.6" r="3.3" fill="url(#gO)" stroke="#d8a870"/>
<circle cx="408.9" cy="241.8" r="3.3" fill="url(#gO)" stroke="#d8a870"/>
<circle cx="603.7" cy="220.6" r="3.3" fill="url(#gO)" stroke="#d8a870"/>
<circle cx="514.3" cy="260.7" r="3.3" fill="url(#gO)" stroke="#d8a870"/>
<circle cx="510.1" cy="255.4" r="3.3" fill="url(#gO)" stroke="#d8a870"/>
<circle cx="501.4" cy="158.5" r="3.3" fill="url(#gT)" stroke="#94cbd0"/>
<circle cx="229.6" cy="454.1" r="3.3" fill="url(#gO)" stroke="#d8a870"/>
<circle cx="286.8" cy="394.0" r="3.3" fill="url(#gO)" stroke="#d8a870"/>
<circle cx="407.6" cy="313.7" r="3.3" fill="url(#gO)" stroke="#d8a870"/>
<circle cx="664.8" cy="203.8" r="3.3" fill="url(#gO)" stroke="#d8a870"/>
<circle cx="440.4" cy="328.5" r="3.3" fill="url(#gG)" stroke="#62b890"/>
<circle cx="693.9" cy="257.4" r="3.3" fill="url(#gB)" stroke="#7c9be0"/>
<circle cx="580.0" cy="250.1" r="3.3" fill="url(#gO)" stroke="#d8a870"/>
<circle cx="642.0" cy="255.0" r="3.3" fill="url(#gO)" stroke="#d8a870"/>
<circle cx="527.0" cy="219.4" r="3.3" fill="url(#gO)" stroke="#d8a870"/>
<circle cx="546.2" cy="301.4" r="3.3" fill="url(#gO)" stroke="#d8a870"/>
<circle cx="672.6" cy="271.4" r="3.3" fill="url(#gO)" stroke="#d8a870"/>
<circle cx="478.7" cy="190.9" r="3.3" fill="url(#gM)" stroke="#c05491"/>
<circle cx="542.1" cy="233.4" r="3.3" fill="url(#gO)" stroke="#d8a870"/>
<circle cx="481.4" cy="202.3" r="3.3" fill="url(#gM)" stroke="#c05491"/>
<circle cx="442.0" cy="332.0" r="3.3" fill="url(#gB)" stroke="#7c9be0"/>
<circle cx="510.3" cy="245.9" r="3.3" fill="url(#gO)" stroke="#d8a870"/>
<circle cx="644.2" cy="257.4" r="3.3" fill="url(#gO)" stroke="#d8a870"/>
<circle cx="645.8" cy="166.5" r="3.3" fill="url(#gT)" stroke="#94cbd0"/>
<circle cx="731.9" cy="281.7" r="3.3" fill="url(#gB)" stroke="#7c9be0"/>
<circle cx="660.0" cy="260.0" r="3.3" fill="url(#gO)" stroke="#d8a870"/>
<circle cx="550.5" cy="141.6" r="3.3" fill="url(#gT)" stroke="#94cbd0"/>
<circle cx="553.5" cy="233.2" r="3.3" fill="url(#gO)" stroke="#d8a870"/>
<circle cx="513.9" cy="165.5" r="3.3" fill="url(#gT)" stroke="#94cbd0"/>
<circle cx="116.1" cy="285.6" r="3.3" fill="url(#gO)" stroke="#d8a870"/>
<circle cx="540.8" cy="257.0" r="3.3" fill="url(#gO)" stroke="#d8a870"/>
<circle cx="617.7" cy="256.3" r="3.3" fill="url(#gO)" stroke="#d8a870"/>
<circle cx="546.1" cy="238.5" r="3.3" fill="url(#gO)" stroke="#d8a870"/>
<circle cx="453.1" cy="236.1" r="3.3" fill="url(#gO)" stroke="#d8a870"/>
<circle cx="474.0" cy="195.6" r="3.3" fill="url(#gM)" stroke="#c05491"/>
<circle cx="531.0" cy="170.9" r="3.3" fill="url(#gT)" stroke="#94cbd0"/>
<circle cx="485.0" cy="187.5" r="3.3" fill="url(#gM)" stroke="#c05491"/>
<circle cx="487.0" cy="306.0" r="3.3" fill="url(#gO)" stroke="#d8a870"/>
<circle cx="566.2" cy="237.1" r="3.3" fill="url(#gO)" stroke="#d8a870"/>
<circle cx="640.0" cy="253.0" r="3.3" fill="url(#gO)" stroke="#d8a870"/>
<circle cx="128.7" cy="259.0" r="3.3" fill="url(#gO)" stroke="#d8a870"/>
<circle cx="477.0" cy="199.6" r="3.3" fill="url(#gM)" stroke="#c05491"/>
<circle cx="719.2" cy="355.4" r="3.3" fill="url(#gB)" stroke="#7c9be0"/>
<circle cx="459.5" cy="320.4" r="3.3" fill="url(#gO)" stroke="#d8a870"/>
<circle cx="529.3" cy="284.4" r="3.3" fill="url(#gO)" stroke="#d8a870"/>
<circle cx="504.8" cy="360.9" r="3.3" fill="url(#gG)" stroke="#62b890"/>
<circle cx="644.0" cy="250.6" r="3.3" fill="url(#gO)" stroke="#d8a870"/>
<circle cx="558.8" cy="240.6" r="3.3" fill="url(#gO)" stroke="#d8a870"/>
<circle cx="484.0" cy="214.6" r="3.3" fill="url(#gO)" stroke="#d8a870"/>
<circle cx="612.1" cy="205.3" r="3.3" fill="url(#gO)" stroke="#d8a870"/>
<circle cx="664.1" cy="262.4" r="3.3" fill="url(#gO)" stroke="#d8a870"/>
<circle cx="637.0" cy="254.0" r="3.3" fill="url(#gO)" stroke="#d8a870"/>
<circle cx="447.1" cy="193.4" r="3.3" fill="url(#gM)" stroke="#c05491"/>
<circle cx="721.3" cy="300.8" r="3.3" fill="url(#gO)" stroke="#d8a870"/>
<circle cx="513.2" cy="246.4" r="3.3" fill="url(#gO)" stroke="#d8a870"/>
<circle cx="643.1" cy="162.3" r="3.3" fill="url(#gT)" stroke="#94cbd0"/>
<circle cx="433.0" cy="308.8" r="3.3" fill="url(#gO)" stroke="#d8a870"/>
<circle cx="446.8" cy="337.4" r="3.3" fill="url(#gB)" stroke="#7c9be0"/>
<circle cx="667.1" cy="263.1" r="3.3" fill="url(#gO)" stroke="#d8a870"/>
<circle cx="727.6" cy="338.9" r="3.3" fill="url(#gB)" stroke="#7c9be0"/>
<circle cx="661.5" cy="294.1" r="3.3" fill="url(#gO)" stroke="#d8a870"/>
<circle cx="529.2" cy="225.8" r="3.3" fill="url(#gO)" stroke="#d8a870"/>
<circle cx="730.0" cy="277.5" r="3.3" fill="url(#gB)" stroke="#7c9be0"/>
<circle cx="649.9" cy="286.4" r="3.3" fill="url(#gO)" stroke="#d8a870"/>
<circle cx="372.3" cy="303.5" r="3.3" fill="url(#gO)" stroke="#d8a870"/>
<circle cx="662.7" cy="265.5" r="3.3" fill="url(#gO)" stroke="#d8a870"/>
<circle cx="678.7" cy="267.3" r="3.3" fill="url(#gO)" stroke="#d8a870"/>
<circle cx="746.9" cy="275.4" r="3.3" fill="url(#gB)" stroke="#7c9be0"/>
<circle cx="650.2" cy="194.5" r="3.3" fill="url(#gO)" stroke="#d8a870"/>
<circle cx="681.2" cy="272.2" r="3.3" fill="url(#gO)" stroke="#d8a870"/>
<circle cx="435.8" cy="326.0" r="3.3" fill="url(#gG)" stroke="#62b890"/>
<circle cx="403.4" cy="320.0" r="3.3" fill="url(#gO)" stroke="#d8a870"/>
<circle cx="489.0" cy="195.7" r="3.3" fill="url(#gM)" stroke="#c05491"/>
<circle cx="407.6" cy="301.8" r="3.3" fill="url(#gO)" stroke="#d8a870"/>
<circle cx="411.0" cy="220.2" r="3.3" fill="url(#gO)" stroke="#d8a870"/>
<circle cx="535.7" cy="278.1" r="3.3" fill="url(#gO)" stroke="#d8a870"/>
<circle cx="118.5" cy="240.6" r="3.3" fill="url(#gO)" stroke="#d8a870"/>
<circle cx="493.3" cy="310.9" r="3.3" fill="url(#gO)" stroke="#d8a870"/>
<circle cx="523.3" cy="163.2" r="3.3" fill="url(#gT)" stroke="#94cbd0"/>
<circle cx="628.6" cy="238.6" r="3.3" fill="url(#gO)" stroke="#d8a870"/>
<circle cx="626.0" cy="244.0" r="3.3" fill="url(#gO)" stroke="#d8a870"/>
<circle cx="575.4" cy="168.6" r="3.3" fill="url(#gT)" stroke="#94cbd0"/>
<circle cx="293.2" cy="426.0" r="3.3" fill="url(#gG)" stroke="#62b890"/>
<circle cx="538.1" cy="244.8" r="3.3" fill="url(#gO)" stroke="#d8a870"/>
<circle cx="639.7" cy="295.4" r="3.3" fill="url(#gO)" stroke="#d8a870"/>
<circle cx="527.1" cy="169.0" r="3.3" fill="url(#gT)" stroke="#94cbd0"/>
<circle cx="479.6" cy="183.8" r="3.3" fill="url(#gM)" stroke="#c05491"/>
<circle cx="511.5" cy="247.4" r="3.3" fill="url(#gO)" stroke="#d8a870"/>
<circle cx="502.4" cy="167.0" r="3.3" fill="url(#gT)" stroke="#94cbd0"/>
<circle cx="429.8" cy="320.0" r="3.3" fill="url(#gO)" stroke="#d8a870"/>
<circle cx="496.3" cy="193.5" r="3.3" fill="url(#gM)" stroke="#c05491"/>
<circle cx="615.9" cy="211.7" r="3.3" fill="url(#gO)" stroke="#d8a870"/>
<circle cx="551.9" cy="169.0" r="3.3" fill="url(#gT)" stroke="#94cbd0"/>
<circle cx="219.0" cy="321.3" r="3.3" fill="url(#gO)" stroke="#d8a870"/>
<circle cx="94.8" cy="239.7" r="3.3" fill="url(#gO)" stroke="#d8a870"/>
<circle cx="450.0" cy="331.4" r="3.3" fill="url(#gB)" stroke="#7c9be0"/>
<circle cx="478.5" cy="245.3" r="3.3" fill="url(#gO)" stroke="#d8a870"/>
<circle cx="722.3" cy="350.5" r="3.3" fill="url(#gB)" stroke="#7c9be0"/>
<circle cx="560.6" cy="160.2" r="3.3" fill="url(#gT)" stroke="#94cbd0"/>
<circle cx="392.2" cy="316.2" r="3.3" fill="url(#gO)" stroke="#d8a870"/>
<circle cx="404.9" cy="223.7" r="3.3" fill="url(#gO)" stroke="#d8a870"/>
<circle cx="564.1" cy="231.0" r="3.3" fill="url(#gO)" stroke="#d8a870"/>
<circle cx="648.9" cy="207.9" r="3.3" fill="url(#gO)" stroke="#d8a870"/>
<circle cx="226.0" cy="198.8" r="3.3" fill="url(#gT)" stroke="#94cbd0"/>
<circle cx="518.6" cy="164.2" r="3.3" fill="url(#gT)" stroke="#94cbd0"/>
<circle cx="649.9" cy="259.8" r="3.3" fill="url(#gO)" stroke="#d8a870"/>
<circle cx="640.0" cy="179.7" r="3.3" fill="url(#gT)" stroke="#94cbd0"/>
<circle cx="519.6" cy="255.7" r="3.3" fill="url(#gO)" stroke="#d8a870"/>
<circle cx="79.4" cy="132.3" r="3.3" fill="url(#gT)" stroke="#94cbd0"/>
<circle cx="474.3" cy="320.4" r="3.3" fill="url(#gO)" stroke="#d8a870"/>
<circle cx="612.1" cy="209.1" r="3.3" fill="url(#gO)" stroke="#d8a870"/>
<circle cx="410.4" cy="233.7" r="3.3" fill="url(#gO)" stroke="#d8a870"/>
<circle cx="566.2" cy="252.2" r="3.3" fill="url(#gO)" stroke="#d8a870"/>
<circle cx="659.1" cy="258.7" r="3.3" fill="url(#gO)" stroke="#d8a870"/>
<circle cx="642.5" cy="305.7" r="3.3" fill="url(#gO)" stroke="#d8a870"/>
<circle cx="468.0" cy="322.5" r="3.3" fill="url(#gO)" stroke="#d8a870"/>
<circle cx="622.5" cy="242.6" r="3.3" fill="url(#gO)" stroke="#d8a870"/>
<circle cx="218.1" cy="480.0" r="3.3" fill="url(#gG)" stroke="#62b890"/>
<circle cx="134.4" cy="257.1" r="3.3" fill="url(#gO)" stroke="#d8a870"/>
<circle cx="230.4" cy="195.6" r="3.3" fill="url(#gT)" stroke="#94cbd0"/>
<circle cx="437.2" cy="307.3" r="3.3" fill="url(#gO)" stroke="#d8a870"/>
<circle cx="539.5" cy="166.1" r="3.3" fill="url(#gT)" stroke="#94cbd0"/>
<circle cx="550.0" cy="160.4" r="3.3" fill="url(#gT)" stroke="#94cbd0"/>
<circle cx="283.9" cy="428.0" r="3.3" fill="url(#gG)" stroke="#62b890"/>
<circle cx="774.3" cy="216.4" r="3.3" fill="url(#gB)" stroke="#7c9be0"/>
<circle cx="575.4" cy="162.8" r="3.3" fill="url(#gT)" stroke="#94cbd0"/>
<circle cx="606.9" cy="219.3" r="3.3" fill="url(#gO)" stroke="#d8a870"/>
<circle cx="509.0" cy="251.2" r="3.3" fill="url(#gO)" stroke="#d8a870"/>
<circle cx="289.5" cy="421.0" r="3.3" fill="url(#gG)" stroke="#62b890"/>
<circle cx="605.7" cy="215.5" r="3.3" fill="url(#gO)" stroke="#d8a870"/>
<circle cx="548.4" cy="242.4" r="3.3" fill="url(#gO)" stroke="#d8a870"/>
<circle cx="627.2" cy="275.4" r="3.3" fill="url(#gO)" stroke="#d8a870"/>
<circle cx="493.7" cy="195.3" r="3.3" fill="url(#gM)" stroke="#c05491"/>
<circle cx="122.5" cy="216.9" r="3.3" fill="url(#gO)" stroke="#d8a870"/>
<circle cx="254.4" cy="406.0" r="3.3" fill="url(#gO)" stroke="#d8a870"/>
<circle cx="87.7" cy="230.1" r="3.3" fill="url(#gO)" stroke="#d8a870"/>
<circle cx="446.4" cy="233.2" r="3.3" fill="url(#gO)" stroke="#d8a870"/>
<circle cx="704.3" cy="294.4" r="3.3" fill="url(#gO)" stroke="#d8a870"/>
<circle cx="463.7" cy="309.8" r="3.3" fill="url(#gO)" stroke="#d8a870"/>
<circle cx="728.7" cy="358.0" r="3.3" fill="url(#gG)" stroke="#62b890"/>
<circle cx="481.4" cy="189.1" r="3.3" fill="url(#gM)" stroke="#c05491"/>
<circle cx="570.4" cy="232.1" r="3.3" fill="url(#gO)" stroke="#d8a870"/>
<circle cx="509.4" cy="260.2" r="3.3" fill="url(#gO)" stroke="#d8a870"/>
<circle cx="769.0" cy="210.0" r="3.3" fill="url(#gT)" stroke="#94cbd0"/>
<circle cx="520.0" cy="163.0" r="3.3" fill="url(#gT)" stroke="#94cbd0"/>
<circle cx="93.9" cy="238.0" r="3.3" fill="url(#gO)" stroke="#d8a870"/>
<circle cx="473.6" cy="469.8" r="3.3" fill="url(#gG)" stroke="#62b890"/>
<circle cx="737.4" cy="210.5" r="3.3" fill="url(#gT)" stroke="#94cbd0"/>
<circle cx="441.8" cy="334.2" r="3.3" fill="url(#gB)" stroke="#7c9be0"/>
<circle cx="65.0" cy="142.1" r="3.3" fill="url(#gT)" stroke="#94cbd0"/>
<circle cx="487.6" cy="197.0" r="3.3" fill="url(#gM)" stroke="#c05491"/>
<circle cx="589.7" cy="161.7" r="3.3" fill="url(#gT)" stroke="#94cbd0"/>
<circle cx="643.5" cy="301.8" r="3.3" fill="url(#gO)" stroke="#d8a870"/>
<circle cx="611.4" cy="144.3" r="3.3" fill="url(#gT)" stroke="#94cbd0"/>
<circle cx="652.6" cy="272.2" r="3.3" fill="url(#gO)" stroke="#d8a870"/>
<circle cx="446.0" cy="331.0" r="3.3" fill="url(#gB)" stroke="#7c9be0"/>
<circle cx="259.4" cy="409.1" r="3.3" fill="url(#gO)" stroke="#d8a870"/>
<circle cx="506.9" cy="221.5" r="3.3" fill="url(#gM)" stroke="#c05491"/>
<circle cx="644.8" cy="283.8" r="3.3" fill="url(#gO)" stroke="#d8a870"/>
<circle cx="446.8" cy="303.5" r="3.3" fill="url(#gO)" stroke="#d8a870"/>
<circle cx="614.0" cy="221.2" r="3.3" fill="url(#gO)" stroke="#d8a870"/>
<circle cx="438.0" cy="231.1" r="3.3" fill="url(#gO)" stroke="#d8a870"/>
<circle cx="486.2" cy="147.0" r="3.3" fill="url(#gT)" stroke="#94cbd0"/>
<circle cx="773.3" cy="265.9" r="3.3" fill="url(#gG)" stroke="#62b890"/>
<circle cx="454.0" cy="197.2" r="3.3" fill="url(#gM)" stroke="#c05491"/>
<circle cx="668.5" cy="271.2" r="3.3" fill="url(#gO)" stroke="#d8a870"/>
<circle cx="112.3" cy="280.5" r="3.3" fill="url(#gO)" stroke="#d8a870"/>
<circle cx="488.4" cy="194.4" r="3.3" fill="url(#gM)" stroke="#c05491"/>
<circle cx="429.3" cy="306.4" r="3.3" fill="url(#gO)" stroke="#d8a870"/>
<circle cx="587.0" cy="169.2" r="3.3" fill="url(#gT)" stroke="#94cbd0"/>
<circle cx="596.8" cy="233.3" r="3.3" fill="url(#gO)" stroke="#d8a870"/>
<circle cx="654.6" cy="199.0" r="3.3" fill="url(#gO)" stroke="#d8a870"/>
<circle cx="448.9" cy="318.3" r="3.3" fill="url(#gO)" stroke="#d8a870"/>
<circle cx="415.5" cy="223.2" r="3.3" fill="url(#gO)" stroke="#d8a870"/>
<circle cx="650.9" cy="298.4" r="3.3" fill="url(#gO)" stroke="#d8a870"/>
<circle cx="671.7" cy="281.7" r="3.3" fill="url(#gO)" stroke="#d8a870"/>
<circle cx="555.7" cy="153.2" r="3.3" fill="url(#gT)" stroke="#94cbd0"/>
<circle cx="652.0" cy="158.9" r="3.3" fill="url(#gT)" stroke="#94cbd0"/>
<circle cx="619.3" cy="263.2" r="3.3" fill="url(#gO)" stroke="#d8a870"/>
<circle cx="446.0" cy="229.4" r="3.3" fill="url(#gO)" stroke="#d8a870"/>
<circle cx="642.7" cy="251.0" r="3.3" fill="url(#gO)" stroke="#d8a870"/>
<circle cx="722.3" cy="292.3" r="3.3" fill="url(#gO)" stroke="#d8a870"/>
<circle cx="489.7" cy="202.3" r="3.3" fill="url(#gM)" stroke="#c05491"/>
<circle cx="623.0" cy="253.2" r="3.3" fill="url(#gO)" stroke="#d8a870"/>
<circle cx="520.5" cy="160.4" r="3.3" fill="url(#gT)" stroke="#94cbd0"/>
<circle cx="508.1" cy="314.1" r="3.3" fill="url(#gO)" stroke="#d8a870"/>
<circle cx="496.2" cy="413.8" r="3.3" fill="url(#gO)" stroke="#d8a870"/>
<circle cx="642.0" cy="263.7" r="3.3" fill="url(#gO)" stroke="#d8a870"/>
<circle cx="668.0" cy="278.0" r="3.3" fill="url(#gO)" stroke="#d8a870"/>
<circle cx="527.1" cy="161.3" r="3.3" fill="url(#gT)" stroke="#94cbd0"/>
<circle cx="711.7" cy="288.1" r="3.3" fill="url(#gO)" stroke="#d8a870"/>
<circle cx="477.0" cy="194.4" r="3.3" fill="url(#gM)" stroke="#c05491"/>
<circle cx="660.0" cy="264.8" r="3.3" fill="url(#gO)" stroke="#d8a870"/>
<circle cx="436.2" cy="331.0" r="3.3" fill="url(#gB)" stroke="#7c9be0"/>
<circle cx="496.7" cy="165.6" r="3.3" fill="url(#gT)" stroke="#94cbd0"/>
<circle cx="316.2" cy="380.2" r="3.3" fill="url(#gG)" stroke="#62b890"/>
<circle cx="644.8" cy="299.2" r="3.3" fill="url(#gO)" stroke="#d8a870"/>
<circle cx="636.2" cy="240.9" r="3.3" fill="url(#gG)" stroke="#62b890"/>
<circle cx="627.2" cy="250.5" r="3.3" fill="url(#gO)" stroke="#d8a870"/>
<circle cx="738.0" cy="141.0" r="3.3" fill="url(#gT)" stroke="#94cbd0"/>
<circle cx="130.6" cy="263.4" r="3.3" fill="url(#gO)" stroke="#d8a870"/>
<circle cx="619.7" cy="232.6" r="3.3" fill="url(#gO)" stroke="#d8a870"/>
<circle cx="526.0" cy="253.8" r="3.3" fill="url(#gO)" stroke="#d8a870"/>
<circle cx="435.0" cy="325.0" r="3.3" fill="url(#gG)" stroke="#62b890"/>
<circle cx="507.1" cy="357.5" r="3.3" fill="url(#gG)" stroke="#62b890"/>
<circle cx="291.5" cy="425.2" r="3.3" fill="url(#gG)" stroke="#62b890"/>
<circle cx="566.4" cy="173.9" r="3.3" fill="url(#gT)" stroke="#94cbd0"/>
<circle cx="236.1" cy="448.5" r="3.3" fill="url(#gO)" stroke="#d8a870"/>
<circle cx="627.2" cy="240.5" r="3.3" fill="url(#gO)" stroke="#d8a870"/>
<circle cx="427.3" cy="330.0" r="3.3" fill="url(#gG)" stroke="#62b890"/>
<circle cx="410.6" cy="221.4" r="3.3" fill="url(#gO)" stroke="#d8a870"/>
<circle cx="716.0" cy="304.6" r="3.3" fill="url(#gO)" stroke="#d8a870"/>
<circle cx="623.5" cy="247.9" r="3.3" fill="url(#gO)" stroke="#d8a870"/>
<circle cx="237.5" cy="315.4" r="3.3" fill="url(#gG)" stroke="#62b890"/>
<circle cx="406.8" cy="222.4" r="3.3" fill="url(#gO)" stroke="#d8a870"/>
<circle cx="408.3" cy="232.3" r="3.3" fill="url(#gO)" stroke="#d8a870"/>
<circle cx="175.2" cy="199.4" r="3.3" fill="url(#gT)" stroke="#94cbd0"/>
<circle cx="518.6" cy="149.9" r="3.3" fill="url(#gT)" stroke="#94cbd0"/>
<circle cx="439.1" cy="300.5" r="3.3" fill="url(#gO)" stroke="#d8a870"/>
<circle cx="400.2" cy="328.5" r="3.3" fill="url(#gG)" stroke="#62b890"/>
<circle cx="753.2" cy="274.3" r="3.3" fill="url(#gB)" stroke="#7c9be0"/>
<circle cx="475.7" cy="189.1" r="3.3" fill="url(#gM)" stroke="#c05491"/>
<circle cx="714.9" cy="294.4" r="3.3" fill="url(#gO)" stroke="#d8a870"/>
<circle cx="102.8" cy="255.8" r="3.3" fill="url(#gO)" stroke="#d8a870"/>
<circle cx="531.0" cy="162.3" r="3.3" fill="url(#gT)" stroke="#94cbd0"/>
<circle cx="482.8" cy="195.7" r="3.3" fill="url(#gM)" stroke="#c05491"/>
<circle cx="680.0" cy="159.8" r="3.3" fill="url(#gT)" stroke="#94cbd0"/>
<circle cx="556.7" cy="267.6" r="3.3" fill="url(#gO)" stroke="#d8a870"/>
<circle cx="608.3" cy="213.6" r="3.3" fill="url(#gO)" stroke="#d8a870"/>
<circle cx="555.6" cy="230.0" r="3.3" fill="url(#gO)" stroke="#d8a870"/>
<circle cx="486.7" cy="131.8" r="3.3" fill="url(#gT)" stroke="#94cbd0"/>
<circle cx="567.2" cy="239.5" r="3.3" fill="url(#gO)" stroke="#d8a870"/>
<circle cx="521.9" cy="312.0" r="3.3" fill="url(#gO)" stroke="#d8a870"/>
<circle cx="479.0" cy="197.0" r="3.3" fill="url(#gM)" stroke="#c05491"/>
<circle cx="810.2" cy="231.1" r="3.3" fill="url(#gB)" stroke="#7c9be0"/>
<circle cx="532.3" cy="267.6" r="3.3" fill="url(#gO)" stroke="#d8a870"/>
<circle cx="280.5" cy="440.6" r="3.3" fill="url(#gB)" stroke="#7c9be0"/>
<circle cx="440.4" cy="333.1" r="3.3" fill="url(#gB)" stroke="#7c9be0"/>
<circle cx="631.5" cy="255.3" r="3.3" fill="url(#gO)" stroke="#d8a870"/>
<circle cx="728.7" cy="299.7" r="3.3" fill="url(#gO)" stroke="#d8a870"/>
<circle cx="649.4" cy="257.4" r="3.3" fill="url(#gO)" stroke="#d8a870"/>
<circle cx="632.5" cy="260.6" r="3.3" fill="url(#gO)" stroke="#d8a870"/>
<circle cx="111.0" cy="271.7" r="3.3" fill="url(#gG)" stroke="#62b890"/>
<circle cx="499.5" cy="147.5" r="3.3" fill="url(#gT)" stroke="#94cbd0"/>
<circle cx="591.7" cy="230.7" r="3.3" fill="url(#gO)" stroke="#d8a870"/>
<circle cx="699.0" cy="276.5" r="3.3" fill="url(#gO)" stroke="#d8a870"/>
<circle cx="511.4" cy="257.3" r="3.3" fill="url(#gO)" stroke="#d8a870"/>
<circle cx="208.2" cy="198.8" r="3.3" fill="url(#gT)" stroke="#94cbd0"/>
<circle cx="633.3" cy="247.3" r="3.3" fill="url(#gO)" stroke="#d8a870"/>
<circle cx="645.1" cy="252.9" r="3.3" fill="url(#gO)" stroke="#d8a870"/>
<circle cx="185.3" cy="198.4" r="3.3" fill="url(#gT)" stroke="#94cbd0"/>
<circle cx="554.6" cy="266.0" r="3.3" fill="url(#gO)" stroke="#d8a870"/>
<circle cx="92.1" cy="234.5" r="3.3" fill="url(#gO)" stroke="#d8a870"/>
<circle cx="563.0" cy="235.4" r="3.3" fill="url(#gO)" stroke="#d8a870"/>
<circle cx="441.5" cy="304.6" r="3.3" fill="url(#gO)" stroke="#d8a870"/>
<circle cx="88.2" cy="225.7" r="3.3" fill="url(#gO)" stroke="#d8a870"/>
<circle cx="462.6" cy="258.9" r="3.3" fill="url(#gO)" stroke="#d8a870"/>
<circle cx="660.3" cy="261.6" r="3.3" fill="url(#gO)" stroke="#d8a870"/>
<circle cx="551.4" cy="231.0" r="3.3" fill="url(#gO)" stroke="#d8a870"/>
<circle cx="483.1" cy="198.8" r="3.3" fill="url(#gM)" stroke="#c05491"/>
<circle cx="555.6" cy="245.9" r="3.3" fill="url(#gO)" stroke="#d8a870"/>
<circle cx="512.9" cy="169.0" r="3.3" fill="url(#gT)" stroke="#94cbd0"/>
<circle cx="791.0" cy="239.5" r="3.3" fill="url(#gB)" stroke="#7c9be0"/>
<circle cx="441.4" cy="312.1" r="3.3" fill="url(#gO)" stroke="#d8a870"/>
<circle cx="470.0" cy="191.7" r="3.3" fill="url(#gM)" stroke="#c05491"/>
<circle cx="525.0" cy="165.0" r="3.3" fill="url(#gT)" stroke="#94cbd0"/>
<circle cx="483.3" cy="142.3" r="3.3" fill="url(#gT)" stroke="#94cbd0"/>
<circle cx="593.7" cy="221.8" r="3.3" fill="url(#gO)" stroke="#d8a870"/>
<circle cx="640.4" cy="248.0" r="3.3" fill="url(#gO)" stroke="#d8a870"/>
<circle cx="523.9" cy="236.3" r="3.3" fill="url(#gO)" stroke="#d8a870"/>
<circle cx="86.3" cy="211.2" r="3.3" fill="url(#gO)" stroke="#d8a870"/>
<circle cx="672.7" cy="272.2" r="3.3" fill="url(#gO)" stroke="#d8a870"/>
<circle cx="485.8" cy="204.9" r="3.3" fill="url(#gM)" stroke="#c05491"/>
<circle cx="478.1" cy="186.4" r="3.3" fill="url(#gM)" stroke="#c05491"/>
<circle cx="809.3" cy="434.0" r="3.3" fill="url(#gO)" stroke="#d8a870"/>
<circle cx="542.4" cy="179.4" r="3.3" fill="url(#gT)" stroke="#94cbd0"/>
<circle cx="543.8" cy="202.9" r="3.3" fill="url(#gM)" stroke="#c05491"/>
<circle cx="510.1" cy="244.8" r="3.3" fill="url(#gO)" stroke="#d8a870"/>
<circle cx="662.4" cy="262.5" r="3.3" fill="url(#gO)" stroke="#d8a870"/>
<circle cx="602.4" cy="168.6" r="3.3" fill="url(#gT)" stroke="#94cbd0"/>
<circle cx="614.6" cy="225.6" r="3.3" fill="url(#gO)" stroke="#d8a870"/>
<circle cx="105.3" cy="235.8" r="3.3" fill="url(#gO)" stroke="#d8a870"/>
<circle cx="426.0" cy="305.2" r="3.3" fill="url(#gO)" stroke="#d8a870"/>
<circle cx="671.7" cy="264.8" r="3.3" fill="url(#gO)" stroke="#d8a870"/>
<circle cx="552.4" cy="243.7" r="3.3" fill="url(#gO)" stroke="#d8a870"/>
<circle cx="720.2" cy="335.7" r="3.3" fill="url(#gB)" stroke="#7c9be0"/>
<circle cx="789.0" cy="237.5" r="3.3" fill="url(#gB)" stroke="#7c9be0"/>
<circle cx="733.0" cy="372.0" r="3.3" fill="url(#gB)" stroke="#7c9be0"/>
<circle cx="748.8" cy="347.4" r="3.3" fill="url(#gB)" stroke="#7c9be0"/>
<circle cx="449.3" cy="306.0" r="3.3" fill="url(#gO)" stroke="#d8a870"/>
<circle cx="549.0" cy="171.8" r="3.3" fill="url(#gT)" stroke="#94cbd0"/>
<circle cx="110.4" cy="266.0" r="3.3" fill="url(#gO)" stroke="#d8a870"/>
<circle cx="406.6" cy="210.6" r="3.3" fill="url(#gM)" stroke="#c05491"/>
<circle cx="471.3" cy="199.2" r="3.3" fill="url(#gM)" stroke="#c05491"/>
<circle cx="612.4" cy="247.9" r="3.3" fill="url(#gO)" stroke="#d8a870"/>
<circle cx="526.3" cy="220.9" r="3.3" fill="url(#gO)" stroke="#d8a870"/>
<circle cx="522.0" cy="158.0" r="3.3" fill="url(#gT)" stroke="#94cbd0"/>
<circle cx="220.0" cy="195.4" r="3.3" fill="url(#gT)" stroke="#94cbd0"/>
<circle cx="564.1" cy="264.9" r="3.3" fill="url(#gO)" stroke="#d8a870"/>
<circle cx="90.8" cy="231.8" r="3.3" fill="url(#gO)" stroke="#d8a870"/>
<circle cx="652.0" cy="306.0" r="3.3" fill="url(#gO)" stroke="#d8a870"/>
<circle cx="233.6" cy="190.6" r="3.3" fill="url(#gT)" stroke="#94cbd0"/>
<circle cx="109.7" cy="243.7" r="3.3" fill="url(#gO)" stroke="#d8a870"/>
<circle cx="653.8" cy="290.2" r="3.3" fill="url(#gO)" stroke="#d8a870"/>
<circle cx="566.2" cy="259.6" r="3.3" fill="url(#gO)" stroke="#d8a870"/>
<circle cx="407.1" cy="220.9" r="3.3" fill="url(#gO)" stroke="#d8a870"/>
<circle cx="575.7" cy="222.6" r="3.3" fill="url(#gO)" stroke="#d8a870"/>
<circle cx="535.5" cy="267.0" r="3.3" fill="url(#gO)" stroke="#d8a870"/>
<circle cx="644.0" cy="250.0" r="3.3" fill="url(#gO)" stroke="#d8a870"/>
<circle cx="647.4" cy="306.9" r="3.3" fill="url(#gO)" stroke="#d8a870"/>
<circle cx="640.6" cy="243.4" r="3.3" fill="url(#gG)" stroke="#62b890"/>
<circle cx="200.1" cy="338.0" r="3.3" fill="url(#gB)" stroke="#7c9be0"/>
<circle cx="627.3" cy="118.9" r="3.3" fill="url(#gT)" stroke="#94cbd0"/>
<circle cx="587.9" cy="208.5" r="3.3" fill="url(#gO)" stroke="#d8a870"/>
<circle cx="404.4" cy="309.8" r="3.3" fill="url(#gO)" stroke="#d8a870"/>
<circle cx="659.0" cy="275.4" r="3.3" fill="url(#gO)" stroke="#d8a870"/>
<circle cx="547.3" cy="307.7" r="3.3" fill="url(#gO)" stroke="#d8a870"/>
<circle cx="777.0" cy="224.8" r="3.3" fill="url(#gB)" stroke="#7c9be0"/>
<circle cx="577.8" cy="264.9" r="3.3" fill="url(#gO)" stroke="#d8a870"/>
<circle cx="550.8" cy="222.6" r="3.3" fill="url(#gM)" stroke="#c05491"/>
<circle cx="440.4" cy="309.8" r="3.3" fill="url(#gO)" stroke="#d8a870"/>
<circle cx="665.3" cy="277.5" r="3.3" fill="url(#gO)" stroke="#d8a870"/>
<circle cx="646.9" cy="296.2" r="3.3" fill="url(#gO)" stroke="#d8a870"/>
<circle cx="435.1" cy="195.1" r="3.3" fill="url(#gM)" stroke="#c05491"/>
<circle cx="588.4" cy="422.4" r="3.3" fill="url(#gB)" stroke="#7c9be0"/>
<circle cx="541.9" cy="218.9" r="3.3" fill="url(#gM)" stroke="#c05491"/>
<circle cx="121.8" cy="264.1" r="3.3" fill="url(#gO)" stroke="#d8a870"/>
<circle cx="514.3" cy="248.0" r="3.3" fill="url(#gO)" stroke="#d8a870"/>
<circle cx="686.0" cy="261.6" r="3.3" fill="url(#gB)" stroke="#7c9be0"/>
<circle cx="520.2" cy="290.8" r="3.3" fill="url(#gO)" stroke="#d8a870"/>
<circle cx="275.0" cy="357.4" r="3.3" fill="url(#gB)" stroke="#7c9be0"/>
<circle cx="516.6" cy="305.6" r="3.3" fill="url(#gO)" stroke="#d8a870"/>
<circle cx="777.4" cy="226.9" r="3.3" fill="url(#gB)" stroke="#7c9be0"/>
<circle cx="765.0" cy="187.3" r="3.3" fill="url(#gT)" stroke="#94cbd0"/>
<circle cx="651.2" cy="296.7" r="3.3" fill="url(#gO)" stroke="#d8a870"/>
<circle cx="415.0" cy="242.9" r="3.3" fill="url(#gO)" stroke="#d8a870"/>
<circle cx="423.5" cy="319.4" r="3.3" fill="url(#gO)" stroke="#d8a870"/>
<circle cx="555.6" cy="238.5" r="3.3" fill="url(#gO)" stroke="#d8a870"/>
<circle cx="753.0" cy="344.2" r="3.3" fill="url(#gB)" stroke="#7c9be0"/>
<circle cx="639.9" cy="272.2" r="3.3" fill="url(#gO)" stroke="#d8a870"/>
<circle cx="647.5" cy="249.5" r="3.3" fill="url(#gO)" stroke="#d8a870"/>
<circle cx="517.0" cy="160.0" r="3.3" fill="url(#gT)" stroke="#94cbd0"/>
<circle cx="798.6" cy="236.4" r="3.3" fill="url(#gB)" stroke="#7c9be0"/>
<circle cx="638.0" cy="247.0" r="3.3" fill="url(#gO)" stroke="#d8a870"/>
<circle cx="777.4" cy="301.9" r="3.3" fill="url(#gG)" stroke="#62b890"/>
<circle cx="583.1" cy="226.8" r="3.3" fill="url(#gO)" stroke="#d8a870"/>
<circle cx="943.8" cy="406.7" r="3.3" fill="url(#gB)" stroke="#7c9be0"/>
<circle cx="551.0" cy="235.9" r="3.3" fill="url(#gO)" stroke="#d8a870"/>
<circle cx="118.1" cy="253.4" r="3.3" fill="url(#gO)" stroke="#d8a870"/>
<circle cx="447.8" cy="350.5" r="3.3" fill="url(#gB)" stroke="#7c9be0"/>
<circle cx="698.0" cy="282.8" r="3.3" fill="url(#gO)" stroke="#d8a870"/>
<circle cx="438.0" cy="333.5" r="3.3" fill="url(#gB)" stroke="#7c9be0"/>
<circle cx="637.8" cy="158.0" r="3.3" fill="url(#gT)" stroke="#94cbd0"/>
<circle cx="642.0" cy="251.0" r="3.3" fill="url(#gO)" stroke="#d8a870"/>
<circle cx="490.2" cy="197.0" r="3.3" fill="url(#gM)" stroke="#c05491"/>
<circle cx="678.0" cy="270.1" r="3.3" fill="url(#gO)" stroke="#d8a870"/>
<circle cx="491.0" cy="152.3" r="3.3" fill="url(#gT)" stroke="#94cbd0"/>
<circle cx="601.3" cy="213.6" r="3.3" fill="url(#gO)" stroke="#d8a870"/>
<circle cx="449.4" cy="228.3" r="3.3" fill="url(#gO)" stroke="#d8a870"/>
<circle cx="558.5" cy="157.5" r="3.3" fill="url(#gT)" stroke="#94cbd0"/>
<circle cx="219.0" cy="325.3" r="3.3" fill="url(#gO)" stroke="#d8a870"/>
<circle cx="517.2" cy="159.2" r="3.3" fill="url(#gT)" stroke="#94cbd0"/>
<circle cx="636.7" cy="252.1" r="3.3" fill="url(#gO)" stroke="#d8a870"/>
<circle cx="538.6" cy="169.0" r="3.3" fill="url(#gT)" stroke="#94cbd0"/>
<circle cx="512.2" cy="258.6" r="3.3" fill="url(#gO)" stroke="#d8a870"/>
<circle cx="464.3" cy="189.4" r="3.3" fill="url(#gM)" stroke="#c05491"/>
<circle cx="514.8" cy="157.0" r="3.3" fill="url(#gT)" stroke="#94cbd0"/>
<circle cx="534.7" cy="222.2" r="3.3" fill="url(#gO)" stroke="#d8a870"/>
<circle cx="549.4" cy="291.9" r="3.3" fill="url(#gO)" stroke="#d8a870"/>
<circle cx="618.8" cy="173.9" r="3.3" fill="url(#gT)" stroke="#94cbd0"/>
<circle cx="533.4" cy="221.5" r="3.3" fill="url(#gO)" stroke="#d8a870"/>
<circle cx="635.7" cy="280.7" r="3.3" fill="url(#gO)" stroke="#d8a870"/>
<circle cx="700.1" cy="287.0" r="3.3" fill="url(#gO)" stroke="#d8a870"/>
<circle cx="639.9" cy="256.3" r="3.3" fill="url(#gO)" stroke="#d8a870"/>
<circle cx="679.6" cy="153.6" r="3.3" fill="url(#gT)" stroke="#94cbd0"/>
<circle cx="525.0" cy="164.8" r="3.3" fill="url(#gT)" stroke="#94cbd0"/>
<circle cx="432.4" cy="329.0" r="3.3" fill="url(#gG)" stroke="#62b890"/>
<circle cx="654.9" cy="287.4" r="3.3" fill="url(#gO)" stroke="#d8a870"/>
<circle cx="486.0" cy="200.0" r="3.3" fill="url(#gM)" stroke="#c05491"/>
<circle cx="671.1" cy="259.9" r="3.3" fill="url(#gO)" stroke="#d8a870"/>
<circle cx="371.6" cy="308.8" r="3.3" fill="url(#gO)" stroke="#d8a870"/>
<circle cx="493.7" cy="198.8" r="3.3" fill="url(#gM)" stroke="#c05491"/>
<circle cx="100.3" cy="269.1" r="3.3" fill="url(#gO)" stroke="#d8a870"/>
<circle cx="570.4" cy="264.9" r="3.3" fill="url(#gO)" stroke="#d8a870"/>
<circle cx="86.4" cy="222.1" r="3.3" fill="url(#gO)" stroke="#d8a870"/>
<circle cx="856.2" cy="425.2" r="3.3" fill="url(#gB)" stroke="#7c9be0"/>
<circle cx="557.6" cy="161.3" r="3.3" fill="url(#gT)" stroke="#94cbd0"/>
<circle cx="571.5" cy="249.0" r="3.3" fill="url(#gO)" stroke="#d8a870"/>
<circle cx="515.4" cy="230.0" r="3.3" fill="url(#gO)" stroke="#d8a870"/>
<circle cx="585.2" cy="267.0" r="3.3" fill="url(#gO)" stroke="#d8a870"/>
<circle cx="177.7" cy="190.6" r="3.3" fill="url(#gT)" stroke="#94cbd0"/>
<circle cx="584.2" cy="246.9" r="3.3" fill="url(#gO)" stroke="#d8a870"/>
<circle cx="403.7" cy="233.4" r="3.3" fill="url(#gO)" stroke="#d8a870"/>
<circle cx="229.1" cy="192.5" r="3.3" fill="url(#gT)" stroke="#94cbd0"/>
<circle cx="380.1" cy="323.6" r="3.3" fill="url(#gB)" stroke="#7c9be0"/>
<circle cx="481.4" cy="189.6" r="3.3" fill="url(#gM)" stroke="#c05491"/>
<circle cx="849.0" cy="410.5" r="3.3" fill="url(#gB)" stroke="#7c9be0"/>
<circle cx="638.9" cy="168.6" r="3.3" fill="url(#gT)" stroke="#94cbd0"/>
<circle cx="516.4" cy="166.9" r="3.3" fill="url(#gT)" stroke="#94cbd0"/>
<circle cx="490.0" cy="200.0" r="3.3" fill="url(#gM)" stroke="#c05491"/>
<circle cx="547.3" cy="312.0" r="3.3" fill="url(#gO)" stroke="#d8a870"/>
<circle cx="610.8" cy="219.9" r="3.3" fill="url(#gO)" stroke="#d8a870"/>
<circle cx="86.0" cy="215.5" r="3.3" fill="url(#gO)" stroke="#d8a870"/>
<circle cx="777.0" cy="219.0" r="3.3" fill="url(#gB)" stroke="#7c9be0"/>
<circle cx="442.9" cy="331.8" r="3.3" fill="url(#gB)" stroke="#7c9be0"/>
<circle cx="539.9" cy="232.8" r="3.3" fill="url(#gO)" stroke="#d8a870"/>
<circle cx="421.4" cy="328.5" r="3.3" fill="url(#gG)" stroke="#62b890"/>
<circle cx="647.3" cy="280.7" r="3.3" fill="url(#gO)" stroke="#d8a870"/>
<circle cx="126.2" cy="293.8" r="3.3" fill="url(#gO)" stroke="#d8a870"/>
<circle cx="610.3" cy="163.3" r="3.3" fill="url(#gT)" stroke="#94cbd0"/>
<circle cx="509.4" cy="307.3" r="3.3" fill="url(#gO)" stroke="#d8a870"/>
<circle cx="426.6" cy="201.1" r="3.3" fill="url(#gM)" stroke="#c05491"/>
<circle cx="686.5" cy="265.9" r="3.3" fill="url(#gB)" stroke="#7c9be0"/>
<circle cx="722.3" cy="296.6" r="3.3" fill="url(#gO)" stroke="#d8a870"/>
<circle cx="480.5" cy="195.3" r="3.3" fill="url(#gM)" stroke="#c05491"/>
<circle cx="780.6" cy="231.1" r="3.3" fill="url(#gB)" stroke="#7c9be0"/>
<circle cx="729.6" cy="232.6" r="3.3" fill="url(#gO)" stroke="#d8a870"/>
<circle cx="581.0" cy="221.5" r="3.3" fill="url(#gO)" stroke="#d8a870"/>
<circle cx="676.8" cy="204.0" r="3.3" fill="url(#gO)" stroke="#d8a870"/>
<circle cx="588.6" cy="155.9" r="3.3" fill="url(#gT)" stroke="#94cbd0"/>
<circle cx="491.9" cy="160.4" r="3.3" fill="url(#gT)" stroke="#94cbd0"/>
<circle cx="546.0" cy="216.0" r="3.3" fill="url(#gM)" stroke="#c05491"/>
<circle cx="599.7" cy="163.3" r="3.3" fill="url(#gT)" stroke="#94cbd0"/>
<circle cx="771.2" cy="273.3" r="3.3" fill="url(#gB)" stroke="#7c9be0"/>
<circle cx="761.7" cy="200.6" r="3.3" fill="url(#gT)" stroke="#94cbd0"/>
<circle cx="415.0" cy="331.0" r="3.3" fill="url(#gG)" stroke="#62b890"/>
<circle cx="634.7" cy="162.8" r="3.3" fill="url(#gT)" stroke="#94cbd0"/>
<circle cx="604.4" cy="219.3" r="3.3" fill="url(#gO)" stroke="#d8a870"/>
<circle cx="484.0" cy="196.5" r="3.3" fill="url(#gM)" stroke="#c05491"/>
<circle cx="516.5" cy="268.1" r="3.3" fill="url(#gO)" stroke="#d8a870"/>
<circle cx="402.6" cy="218.0" r="3.3" fill="url(#gO)" stroke="#d8a870"/>
<circle cx="553.8" cy="136.1" r="3.3" fill="url(#gT)" stroke="#94cbd0"/>
<circle cx="534.8" cy="159.4" r="3.3" fill="url(#gT)" stroke="#94cbd0"/>
<circle cx="626.5" cy="244.3" r="3.3" fill="url(#gO)" stroke="#d8a870"/>
<circle cx="170.7" cy="194.6" r="3.3" fill="url(#gT)" stroke="#94cbd0"/>
<circle cx="425.6" cy="323.6" r="3.3" fill="url(#gO)" stroke="#d8a870"/>
<circle cx="601.9" cy="212.3" r="3.3" fill="url(#gO)" stroke="#d8a870"/>
<circle cx="533.9" cy="222.6" r="3.3" fill="url(#gO)" stroke="#d8a870"/>
<circle cx="492.9" cy="195.9" r="3.3" fill="url(#gM)" stroke="#c05491"/>
<circle cx="735.5" cy="373.5" r="3.3" fill="url(#gB)" stroke="#7c9be0"/>
<circle cx="659.5" cy="259.2" r="3.3" fill="url(#gO)" stroke="#d8a870"/>
<circle cx="506.2" cy="163.7" r="3.3" fill="url(#gT)" stroke="#94cbd0"/>
<circle cx="452.1" cy="316.2" r="3.3" fill="url(#gO)" stroke="#d8a870"/>
<circle cx="545.2" cy="294.0" r="3.3" fill="url(#gO)" stroke="#d8a870"/>
<circle cx="202.5" cy="316.0" r="3.3" fill="url(#gO)" stroke="#d8a870"/>
<circle cx="509.0" cy="359.7" r="3.3" fill="url(#gG)" stroke="#62b890"/>
<circle cx="503.1" cy="325.7" r="3.3" fill="url(#gO)" stroke="#d8a870"/>
<circle cx="527.2" cy="299.3" r="3.3" fill="url(#gO)" stroke="#d8a870"/>
<circle cx="584.8" cy="205.3" r="3.3" fill="url(#gO)" stroke="#d8a870"/>
<circle cx="396.0" cy="308.1" r="3.3" fill="url(#gO)" stroke="#d8a870"/>
<circle cx="575.4" cy="157.0" r="3.3" fill="url(#gT)" stroke="#94cbd0"/>
<circle cx="572.8" cy="178.7" r="3.3" fill="url(#gT)" stroke="#94cbd0"/>
<circle cx="279.7" cy="426.0" r="3.3" fill="url(#gG)" stroke="#62b890"/>
<circle cx="654.0" cy="296.0" r="3.3" fill="url(#gO)" stroke="#d8a870"/>
<circle cx="609.3" cy="175.5" r="3.3" fill="url(#gT)" stroke="#94cbd0"/>
<circle cx="479.5" cy="145.6" r="3.3" fill="url(#gT)" stroke="#94cbd0"/>
<circle cx="549.3" cy="236.3" r="3.3" fill="url(#gO)" stroke="#d8a870"/>
<circle cx="573.8" cy="153.3" r="3.3" fill="url(#gT)" stroke="#94cbd0"/>
<circle cx="448.3" cy="335.7" r="3.3" fill="url(#gB)" stroke="#7c9be0"/>
<circle cx="103.1" cy="251.2" r="3.3" fill="url(#gO)" stroke="#d8a870"/>
<circle cx="594.4" cy="152.8" r="3.3" fill="url(#gT)" stroke="#94cbd0"/>
<circle cx="415.4" cy="309.4" r="3.3" fill="url(#gO)" stroke="#d8a870"/>
<circle cx="558.9" cy="236.8" r="3.3" fill="url(#gO)" stroke="#d8a870"/>
<circle cx="138.2" cy="285.6" r="3.3" fill="url(#gB)" stroke="#7c9be0"/>
<circle cx="510.1" cy="256.0" r="3.3" fill="url(#gO)" stroke="#d8a870"/>
<circle cx="634.0" cy="252.0" r="3.3" fill="url(#gO)" stroke="#d8a870"/>
<circle cx="548.1" cy="166.1" r="3.3" fill="url(#gT)" stroke="#94cbd0"/>
<circle cx="658.9" cy="299.2" r="3.3" fill="url(#gO)" stroke="#d8a870"/>
<circle cx="649.9" cy="295.6" r="3.3" fill="url(#gO)" stroke="#d8a870"/>
<circle cx="542.9" cy="236.3" r="3.3" fill="url(#gO)" stroke="#d8a870"/>
<circle cx="539.9" cy="239.5" r="3.3" fill="url(#gO)" stroke="#d8a870"/>
<circle cx="461.6" cy="316.2" r="3.3" fill="url(#gO)" stroke="#d8a870"/>
<circle cx="729.7" cy="347.4" r="3.3" fill="url(#gB)" stroke="#7c9be0"/>
<circle cx="91.7" cy="215.1" r="3.3" fill="url(#gM)" stroke="#c05491"/>
<circle cx="417.1" cy="319.6" r="3.3" fill="url(#gO)" stroke="#d8a870"/>
<circle cx="545.5" cy="236.9" r="3.3" fill="url(#gO)" stroke="#d8a870"/>
<circle cx="588.4" cy="238.5" r="3.3" fill="url(#gO)" stroke="#d8a870"/>
<circle cx="828.3" cy="423.8" r="3.3" fill="url(#gO)" stroke="#d8a870"/>
<circle cx="431.1" cy="194.0" r="3.3" fill="url(#gM)" stroke="#c05491"/>
<circle cx="528.0" cy="217.2" r="3.3" fill="url(#gO)" stroke="#d8a870"/>
<circle cx="515.6" cy="297.6" r="3.3" fill="url(#gO)" stroke="#d8a870"/>
<circle cx="439.4" cy="317.2" r="3.3" fill="url(#gO)" stroke="#d8a870"/>
<circle cx="548.6" cy="142.1" r="3.3" fill="url(#gT)" stroke="#94cbd0"/>
<circle cx="666.4" cy="263.7" r="3.3" fill="url(#gO)" stroke="#d8a870"/>
<circle cx="151.0" cy="178.2" r="3.3" fill="url(#gT)" stroke="#94cbd0"/>
<circle cx="105.3" cy="258.4" r="3.3" fill="url(#gO)" stroke="#d8a870"/>
<circle cx="444.7" cy="334.2" r="3.3" fill="url(#gB)" stroke="#7c9be0"/>
<circle cx="564.6" cy="148.5" r="3.3" fill="url(#gT)" stroke="#94cbd0"/>
<circle cx="534.4" cy="230.0" r="3.3" fill="url(#gO)" stroke="#d8a870"/>
<circle cx="650.0" cy="311.0" r="3.3" fill="url(#gO)" stroke="#d8a870"/>
<circle cx="564.8" cy="153.8" r="3.3" fill="url(#gT)" stroke="#94cbd0"/>
<circle cx="521.4" cy="155.6" r="3.3" fill="url(#gT)" stroke="#94cbd0"/>
<circle cx="495.7" cy="154.2" r="3.3" fill="url(#gT)" stroke="#94cbd0"/>
<circle cx="547.7" cy="260.7" r="3.3" fill="url(#gO)" stroke="#d8a870"/>
<circle cx="619.7" cy="210.4" r="3.3" fill="url(#gO)" stroke="#d8a870"/>
<circle cx="444.7" cy="326.8" r="3.3" fill="url(#gO)" stroke="#d8a870"/>
<circle cx="523.4" cy="158.1" r="3.3" fill="url(#gT)" stroke="#94cbd0"/>
<circle cx="623.5" cy="210.4" r="3.3" fill="url(#gO)" stroke="#d8a870"/>
<circle cx="732.9" cy="300.2" r="3.3" fill="url(#gO)" stroke="#d8a870"/>
<circle cx="437.5" cy="329.0" r="3.3" fill="url(#gG)" stroke="#62b890"/>
<circle cx="435.7" cy="326.5" r="3.3" fill="url(#gG)" stroke="#62b890"/>
<circle cx="776.4" cy="221.6" r="3.3" fill="url(#gB)" stroke="#7c9be0"/>
<circle cx="132.6" cy="252.5" r="3.3" fill="url(#gO)" stroke="#d8a870"/>
<circle cx="639.0" cy="250.0" r="3.3" fill="url(#gO)" stroke="#d8a870"/>
<circle cx="539.4" cy="237.7" r="3.3" fill="url(#gO)" stroke="#d8a870"/>
<circle cx="664.0" cy="284.0" r="3.3" fill="url(#gO)" stroke="#d8a870"/>
<circle cx="702.2" cy="291.3" r="3.3" fill="url(#gO)" stroke="#d8a870"/>
<circle cx="646.1" cy="294.1" r="3.3" fill="url(#gO)" stroke="#d8a870"/>
<circle cx="211.8" cy="322.0" r="3.3" fill="url(#gO)" stroke="#d8a870"/>
<circle cx="642.3" cy="248.6" r="3.3" fill="url(#gO)" stroke="#d8a870"/>
<circle cx="676.9" cy="272.3" r="3.3" fill="url(#gO)" stroke="#d8a870"/>
<circle cx="533.5" cy="221.3" r="3.3" fill="url(#gO)" stroke="#d8a870"/>
<circle cx="626.7" cy="244.9" r="3.3" fill="url(#gO)" stroke="#d8a870"/>
<circle cx="779.5" cy="228.5" r="3.3" fill="url(#gB)" stroke="#7c9be0"/>
<circle cx="557.7" cy="250.1" r="3.3" fill="url(#gO)" stroke="#d8a870"/>
<circle cx="498.1" cy="216.8" r="3.3" fill="url(#gO)" stroke="#d8a870"/>
<circle cx="636.7" cy="288.1" r="3.3" fill="url(#gO)" stroke="#d8a870"/>
<circle cx="689.7" cy="270.1" r="3.3" fill="url(#gG)" stroke="#62b890"/>
<circle cx="537.6" cy="223.6" r="3.3" fill="url(#gO)" stroke="#d8a870"/>
<circle cx="778.5" cy="225.9" r="3.3" fill="url(#gB)" stroke="#7c9be0"/>
<circle cx="555.3" cy="161.2" r="3.3" fill="url(#gT)" stroke="#94cbd0"/>
<circle cx="429.5" cy="235.3" r="3.3" fill="url(#gO)" stroke="#d8a870"/>
<circle cx="521.4" cy="133.2" r="3.3" fill="url(#gT)" stroke="#94cbd0"/>
<circle cx="314.0" cy="385.5" r="3.3" fill="url(#gG)" stroke="#62b890"/>
<circle cx="519.0" cy="166.0" r="3.3" fill="url(#gT)" stroke="#94cbd0"/>
<circle cx="444.7" cy="323.6" r="3.3" fill="url(#gO)" stroke="#d8a870"/>
<circle cx="565.1" cy="229.4" r="3.3" fill="url(#gO)" stroke="#d8a870"/>
<circle cx="501.4" cy="163.2" r="3.3" fill="url(#gT)" stroke="#94cbd0"/>
<circle cx="499.5" cy="221.5" r="3.3" fill="url(#gO)" stroke="#d8a870"/>
<circle cx="439.6" cy="237.4" r="3.3" fill="url(#gO)" stroke="#d8a870"/>
<circle cx="734.0" cy="369.6" r="3.3" fill="url(#gG)" stroke="#62b890"/>
<circle cx="725.5" cy="345.2" r="3.3" fill="url(#gG)" stroke="#62b890"/>
<circle cx="523.8" cy="149.4" r="3.3" fill="url(#gT)" stroke="#94cbd0"/>
<circle cx="292.2" cy="369.6" r="3.3" fill="url(#gO)" stroke="#d8a870"/>
<circle cx="514.7" cy="248.1" r="3.3" fill="url(#gO)" stroke="#d8a870"/>
<circle cx="643.8" cy="249.2" r="3.3" fill="url(#gO)" stroke="#d8a870"/>
<circle cx="661.8" cy="274.4" r="3.3" fill="url(#gO)" stroke="#d8a870"/>
<circle cx="81.6" cy="221.3" r="3.3" fill="url(#gM)" stroke="#c05491"/>
<circle cx="267.6" cy="352.2" r="3.3" fill="url(#gB)" stroke="#7c9be0"/>
<circle cx="651.6" cy="289.1" r="3.3" fill="url(#gO)" stroke="#d8a870"/>
<circle cx="517.6" cy="173.7" r="3.3" fill="url(#gT)" stroke="#94cbd0"/>
<circle cx="634.1" cy="175.0" r="3.3" fill="url(#gT)" stroke="#94cbd0"/>
<circle cx="571.5" cy="228.9" r="3.3" fill="url(#gO)" stroke="#d8a870"/>
<circle cx="514.1" cy="335.9" r="3.3" fill="url(#gO)" stroke="#d8a870"/>
<circle cx="608.9" cy="225.0" r="3.3" fill="url(#gO)" stroke="#d8a870"/>
<circle cx="481.7" cy="304.6" r="3.3" fill="url(#gO)" stroke="#d8a870"/>
<circle cx="398.5" cy="242.9" r="3.3" fill="url(#gO)" stroke="#d8a870"/>
<circle cx="515.2" cy="159.3" r="3.3" fill="url(#gT)" stroke="#94cbd0"/>
<circle cx="549.3" cy="241.6" r="3.3" fill="url(#gO)" stroke="#d8a870"/>
<circle cx="379.0" cy="319.4" r="3.3" fill="url(#gB)" stroke="#7c9be0"/>
<circle cx="433.0" cy="325.7" r="3.3" fill="url(#gG)" stroke="#62b890"/>
<circle cx="626.4" cy="239.3" r="3.3" fill="url(#gO)" stroke="#d8a870"/>
<circle cx="743.3" cy="276.8" r="3.3" fill="url(#gB)" stroke="#7c9be0"/>
<circle cx="667.1" cy="267.1" r="3.3" fill="url(#gO)" stroke="#d8a870"/>
<circle cx="288.1" cy="423.2" r="3.3" fill="url(#gG)" stroke="#62b890"/>
<circle cx="566.9" cy="163.3" r="3.3" fill="url(#gT)" stroke="#94cbd0"/>
<circle cx="645.2" cy="287.0" r="3.3" fill="url(#gO)" stroke="#d8a870"/>
<circle cx="734.3" cy="279.6" r="3.3" fill="url(#gB)" stroke="#7c9be0"/>
<circle cx="526.6" cy="157.3" r="3.3" fill="url(#gT)" stroke="#94cbd0"/>
<circle cx="631.5" cy="272.2" r="3.3" fill="url(#gO)" stroke="#d8a870"/>
<circle cx="641.0" cy="248.0" r="3.3" fill="url(#gO)" stroke="#d8a870"/>
<circle cx="440.0" cy="312.6" r="3.3" fill="url(#gO)" stroke="#d8a870"/>
<circle cx="373.3" cy="290.2" r="3.3" fill="url(#gO)" stroke="#d8a870"/>
<circle cx="793.2" cy="321.5" r="3.3" fill="url(#gB)" stroke="#7c9be0"/>
<circle cx="598.1" cy="214.8" r="3.3" fill="url(#gO)" stroke="#d8a870"/>
<circle cx="515.0" cy="162.0" r="3.3" fill="url(#gT)" stroke="#94cbd0"/>
<circle cx="679.1" cy="263.2" r="3.3" fill="url(#gG)" stroke="#62b890"/>
<circle cx="278.2" cy="371.3" r="3.3" fill="url(#gO)" stroke="#d8a870"/>
<circle cx="518.7" cy="301.4" r="3.3" fill="url(#gO)" stroke="#d8a870"/>
<circle cx="623.0" cy="171.8" r="3.3" fill="url(#gT)" stroke="#94cbd0"/>
<circle cx="544.3" cy="158.5" r="3.3" fill="url(#gT)" stroke="#94cbd0"/>
<circle cx="285.9" cy="435.0" r="3.3" fill="url(#gB)" stroke="#7c9be0"/>
<circle cx="523.3" cy="172.8" r="3.3" fill="url(#gT)" stroke="#94cbd0"/>
<circle cx="557.7" cy="243.7" r="3.3" fill="url(#gO)" stroke="#d8a870"/>
<circle cx="614.6" cy="179.7" r="3.3" fill="url(#gT)" stroke="#94cbd0"/>
<circle cx="549.5" cy="239.9" r="3.3" fill="url(#gO)" stroke="#d8a870"/>
<circle cx="793.3" cy="241.7" r="3.3" fill="url(#gB)" stroke="#7c9be0"/>
<circle cx="246.0" cy="328.6" r="3.3" fill="url(#gG)" stroke="#62b890"/>
<circle cx="603.4" cy="143.2" r="3.3" fill="url(#gT)" stroke="#94cbd0"/>
<circle cx="621.0" cy="238.3" r="3.3" fill="url(#gO)" stroke="#d8a870"/>
<circle cx="639.6" cy="252.1" r="3.3" fill="url(#gO)" stroke="#d8a870"/>
<circle cx="440.1" cy="327.9" r="3.3" fill="url(#gG)" stroke="#62b890"/>
<circle cx="453.1" cy="312.0" r="3.3" fill="url(#gO)" stroke="#d8a870"/>
<circle cx="552.6" cy="308.1" r="3.3" fill="url(#gO)" stroke="#d8a870"/>
<circle cx="641.0" cy="300.5" r="3.3" fill="url(#gO)" stroke="#d8a870"/>
<circle cx="455.9" cy="197.0" r="3.3" fill="url(#gM)" stroke="#c05491"/>
<circle cx="575.9" cy="175.5" r="3.3" fill="url(#gT)" stroke="#94cbd0"/>
</g>
<text class="cl" x="120.1" y="209.8" textLength="50.2" lengthAdjust="spacing">NORTH</text>
<text class="cl" x="112.2" y="228.3" textLength="66.6" lengthAdjust="spacing">AMERICA</text>
<text class="cl" x="223.8" y="375.1" textLength="50.2" lengthAdjust="spacing">SOUTH</text>
<text class="cl" x="215.3" y="393.1" textLength="66.7" lengthAdjust="spacing">AMERICA</text>
<text class="cl" x="443.3" y="182.6" textLength="58.7" lengthAdjust="spacing">EUROPE</text>
<text class="cl" x="424.8" y="284.1" textLength="53.5" lengthAdjust="spacing">AFRICA</text>
<text class="cl" x="658.9" y="238.0" textLength="33.4" lengthAdjust="spacing">ASIA</text>
<text class="cl" x="765.5" y="450.6" textLength="83.6" lengthAdjust="spacing">AUSTRALIA</text>
<text class="ol" x="11.0" y="351.5" textLength="53.5" lengthAdjust="spacing">PACIFIC</text>
<text class="ol" x="15.7" y="365.5" textLength="44.6" lengthAdjust="spacing">OCEAN</text>
<text class="ol" x="850.6" y="270.7" textLength="53.5" lengthAdjust="spacing">PACIFIC</text>
<text class="ol" x="855.8" y="284.6" textLength="44.1" lengthAdjust="spacing">OCEAN</text>
<text class="ol" x="278.5" y="313.5" textLength="66.2" lengthAdjust="spacing">ATLANTIC</text>
<text class="ol" x="289.9" y="327.5" textLength="44.6" lengthAdjust="spacing">OCEAN</text>
<text class="ol" x="627.3" y="367.7" textLength="48.8" lengthAdjust="spacing">INDIAN</text>
<text class="ol" x="629.8" y="381.6" textLength="44.6" lengthAdjust="spacing">OCEAN</text>
</svg>
<div class="title">Major cities affected by changing weather in the next 50 years.</div>

<div class="h" style="left:46.6px;top:51px;width:115.2px;height:16.5px;background:#b7e0e1"></div>
<div class="h" style="left:5.8px;top:67.5px;width:90.8px;height:17.2px;background:#b7e0e1"></div>
<div class="t" style="left:8px;top:50.3px">Cities where the coldest</div>
<div class="t" style="left:8px;top:68.2px">temperatures are increasing the</div>
<div class="t" style="left:8px;top:85.2px">fastest <b>between now and 2070</b></div>

<div class="h" style="left:243.6px;top:145.7px;width:109.5px;height:18.1px;background:rgba(224,120,172,0.78)"></div>
<div class="h" style="left:243.6px;top:163.8px;width:148.5px;height:17.2px;background:rgba(224,120,172,0.78)"></div>
<div class="t" style="left:246px;top:146.5px">...and where the</div>
<div class="t" style="left:246px;top:163.7px">warmest temperatures</div>
<div class="t" style="left:246px;top:181.2px">are increasing the fastest</div>

<div class="h" style="left:266.7px;top:256.6px;width:79px;height:17.1px;background:#f1cfa3"></div>
<div class="t" style="left:251px;top:240.0px">...and where it will</div>
<div class="t" style="left:251px;top:257.8px">be hot and dry</div>

<div class="h" style="left:318.6px;top:415.7px;width:84.4px;height:17.4px;background:#88cdb0"></div>
<div class="h" style="left:318.6px;top:433.1px;width:100.3px;height:17.5px;background:#88cdb0"></div>
<div class="t" style="left:322.6px;top:415.5px">...and where</div>
<div class="t" style="left:322.6px;top:432.8px">precipitation is</div>
<div class="t" style="left:322.6px;top:450.3px">changing the most</div>

<div class="h" style="left:650.5px;top:410.2px;width:96px;height:17.8px;background:#afc6e9"></div>
<div class="t" style="left:634px;top:392.9px">...and where it will</div>
<div class="t" style="left:634px;top:410.7px">be extremely wet</div>
</body></html>
